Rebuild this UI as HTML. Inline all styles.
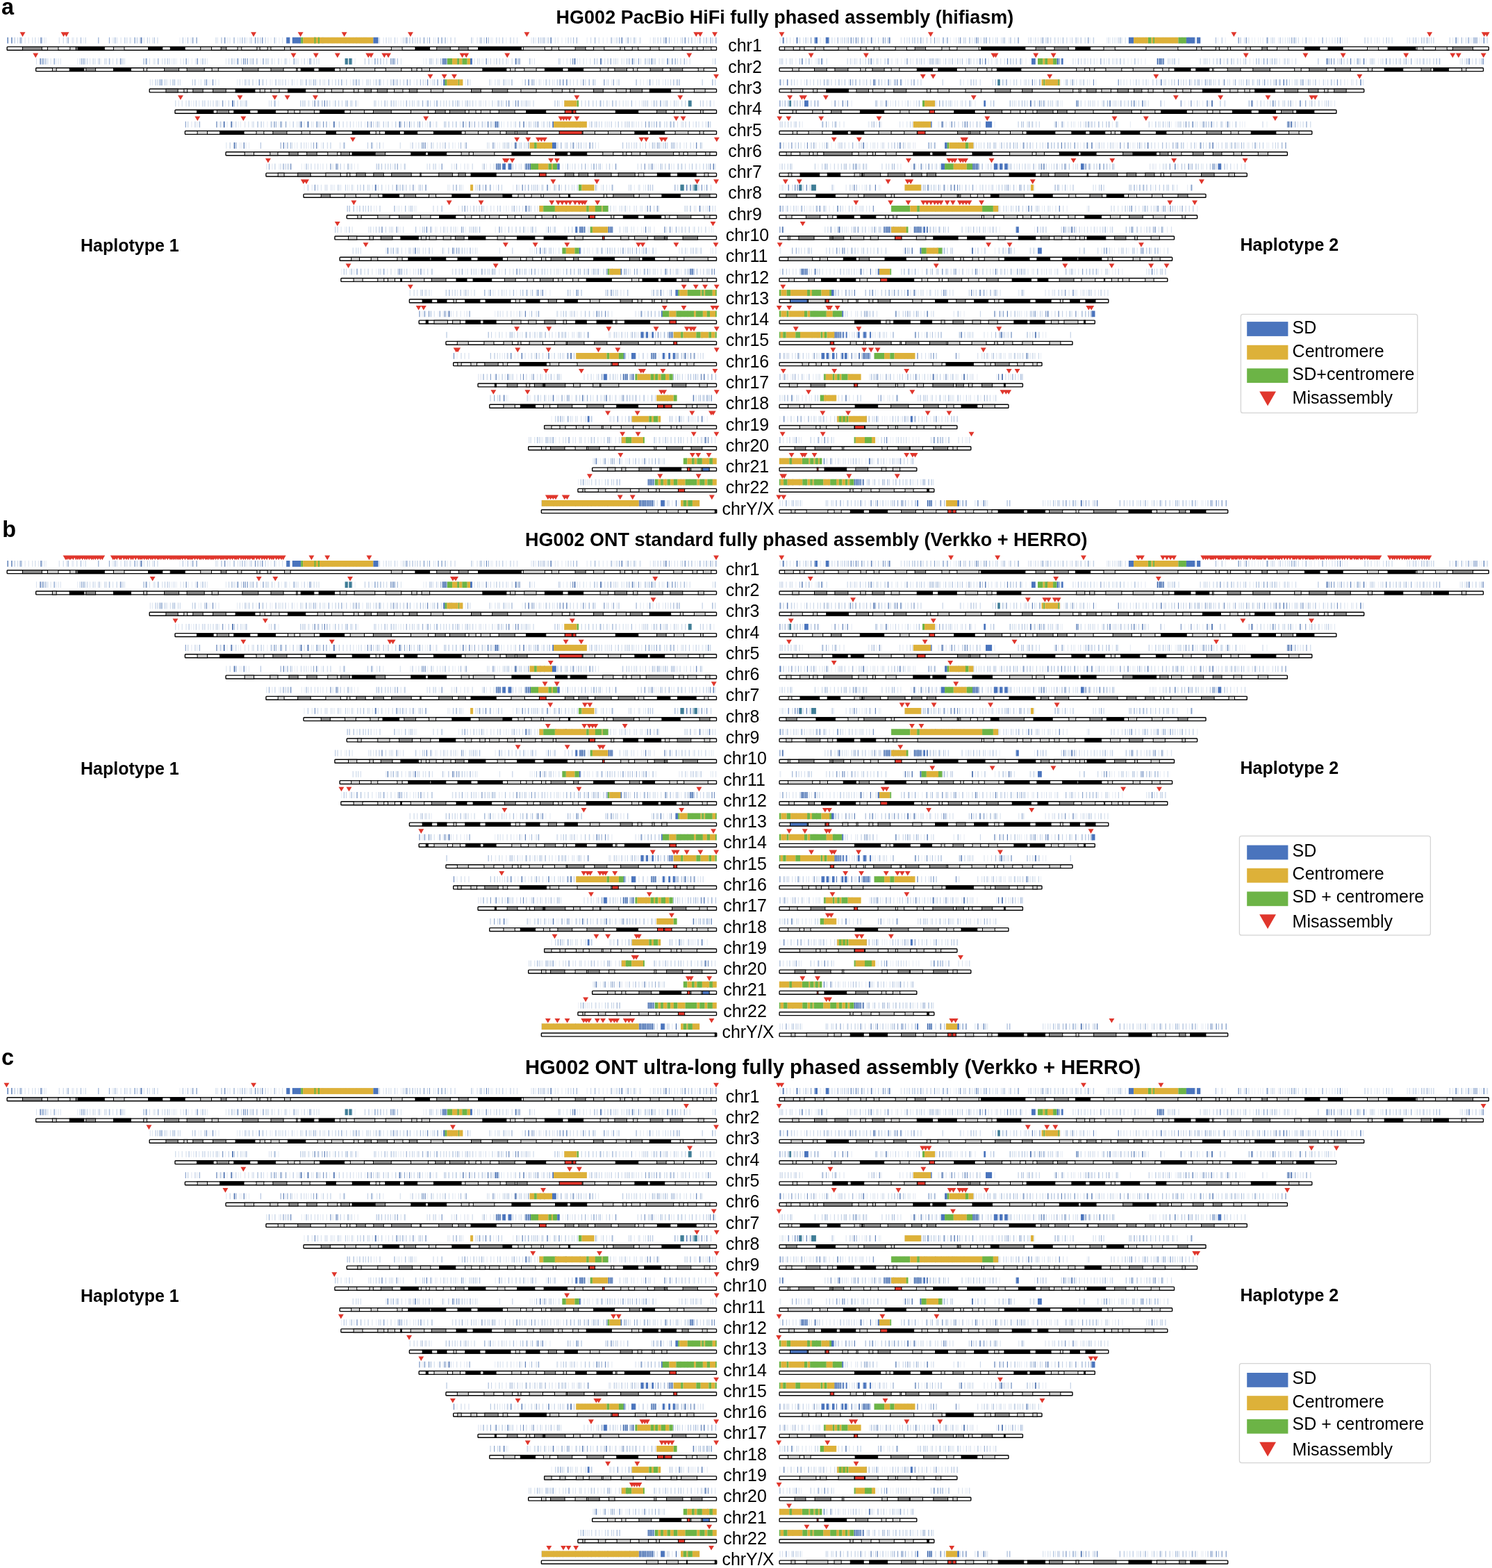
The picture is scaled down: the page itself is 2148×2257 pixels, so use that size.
<!DOCTYPE html>
<html><head><meta charset="utf-8"><title>HG002 fully phased assemblies</title>
<style>
html,body{margin:0;padding:0;background:#fff;}
body{width:2148px;height:2257px;overflow:hidden;}
svg{display:block;}
text{font-family:"Liberation Sans",Arial,sans-serif;fill:#000;}
.lab{font-size:25px;}
.ttl{font-weight:bold;}
.let{font-weight:bold;font-size:32.5px;}
.hap{font-weight:bold;font-size:25px;}
.leg{font-size:25px;}

</style></head><body>
<svg width="2148" height="2257" viewBox="0 0 2148 2257">
<rect width="2148" height="2257" fill="#fff"/>
<g id="P"><path fill="none" d="M35.4 58.1H1028.8" stroke="#e8edf5" stroke-width="8.8" stroke-dasharray="1.5 17.7 2 9.7 1 35.9 2 0.1 1.2 13 1 40.8 1.2 5.7 1.5 19.4 1 9.8 2 56.5 1 6.7 1 60.1 1.5 34.5 1 20.9 1.5 3 1 6.3 1.2 3.3 1.2 38.1 1 2.6 1.2 20.5 1.2 23 1 60.3 1.5 18.2 1.5 4.2 1 48.6 1.2 16 1.2 35.9 1 4.4 2 18.1 1.5 0.8 1.2 18.5 1.2 34.8 1.5 4.8 1.5 26.4 2 7.9 1.2 4.2 1.5 29.3 1.2 21.9 1.5 4.3 1.2 7.1 1.2 1.6 1.5 14.5 2 33 1.2 5.6 2 21.7 1.2 36.4 1.2 14.1 1.2 7.6 1 9999"/>
<path fill="none" d="M40.7 58.1H1001.3" stroke="#d8e1ee" stroke-width="8.8" stroke-dasharray="1 4.5 1.2 2.6 1.5 12.4 1 19.8 1.2 9.3 1.2 13.6 1.5 11 1.5 39.6 2 8 1 7.4 1.5 23.3 1 7 1.2 3 1 54.8 1.2 36.8 1 16.7 1 10.5 1 11.9 1 2.5 1.2 46.5 1.2 20.9 1 6.1 1 11.8 1 22.8 1.2 6.8 1.5 3.6 1 30.8 1.5 1.7 1.5 37.8 1.2 1.8 1.2 16.1 2 18.4 2 22 1 88.8 2 2.3 1.5 14.3 2 3.1 1.2 3.7 1.2 22.1 2 10.4 2 3.8 1 16.3 1 17.4 1.5 39.2 1.2 24.1 2 18.5 1.2 6 1 4.8 2 17.5 1.5 29.1 1.2 3 1 3.6 1.2 19.6 1 9999"/>
<path fill="none" d="M20.5 58.1H1026.4" stroke="#c4d2e6" stroke-width="8.8" stroke-dasharray="1.5 3.1 1 34.6 1 29 1 74 1.5 19.6 1.2 8.7 1.5 13.6 1.2 13.4 1 83.1 1 33.7 1 1.7 2 24 1.5 6.2 1.2 48.5 2 44.3 1.2 15.6 1 1.5 2 3.4 1.2 4.6 1 3.1 2 9 1.5 1.6 1.2 18.3 1 8.7 1 11.4 1.2 13.8 1.5 12.8 1 5.9 1.5 9.2 1.2 32.5 1.2 4.8 1 22.7 1.5 10.8 2 0.3 1.2 2.5 1 80 1.2 9.7 1.5 27.6 1.2 31.5 1 60.9 2 32.5 1.2 2.7 1.2 30.1 1.5 29.4 1.2 2.1 2 7.2 1.2 9999"/>
<path fill="none" d="M28.3 58.1H1008.5" stroke="#a9bddb" stroke-width="8.8" stroke-dasharray="2 0.1 1.2 84.3 1.2 23.9 1.5 36.8 1 12.8 2 26.4 1.2 40.1 1 6.1 1 47.4 1.2 16.8 1.5 14.1 1.2 7.9 1 8.7 1.2 85.7 1.2 4.7 2 123.9 1 3.1 1.2 14.8 2 23.6 2 3.2 1.5 61 1.2 19.3 1 50.4 1.2 49.1 1.2 53.2 1.5 10.1 1.5 70.5 1.2 26.6 1 3.5 1.2 10.5 1.5 9999"/>
<path fill="none" d="M97.5 58.1H1031.4" stroke="#8aa4cc" stroke-width="8.8" stroke-dasharray="1.2 58.2 1 236.8 1 56.6 1.5 164.2 1 11.3 1.5 150.9 1 46.2 1 25.3 1 46.4 1.2 50.7 1 65.9 1.2 6.6 1.2 9999"/>
<path fill="none" d="M10.5 58.1H986.9" stroke="#5f80b8" stroke-width="8.8" stroke-dasharray="1.5 4.2 1.5 40.7 1.5 142.5 2 72.8 1 4.4 1 39.5 1.2 42.7 1 9.2 1.2 206.9 1 113.7 1 91.5 1.5 100.6 1.5 61.9 1.5 26.2 1.2 9999"/>
<rect x="412.2" y="53.7" width="5.2" height="8.8" fill="#4a74bd"/>
<rect x="420.8" y="53.7" width="12.4" height="8.8" fill="#4a74bd"/>
<rect x="433.2" y="53.7" width="2.9" height="8.8" fill="#6cb446"/>
<rect x="436.1" y="53.7" width="101.3" height="8.8" fill="#ddb139"/>
<rect x="452.5" y="53.7" width="2" height="8.8" fill="#6cb446"/>
<rect x="458" y="53.7" width="2" height="8.8" fill="#6cb446"/>
<rect x="537.4" y="53.7" width="7.2" height="8.8" fill="#4a74bd"/>
<rect x="10.2" y="67.4" width="1021.3" height="4.9" rx="0.8" fill="#fff" stroke="#000" stroke-width="1.4"/>
<rect x="32.5" y="67.4" width="27.9" height="4.9" fill="#8a8a8a" stroke="#000" stroke-width="1"/>
<rect x="68.5" y="67.4" width="15.5" height="4.9" fill="#cecece" stroke="#000" stroke-width="1"/>
<rect x="100.8" y="67.4" width="8.6" height="4.9" fill="#cecece" stroke="#000" stroke-width="1"/>
<rect x="109.4" y="67.4" width="2.9" height="4.9" fill="#8a8a8a" stroke="#000" stroke-width="1"/>
<rect x="112.3" y="67.4" width="38" height="4.9" fill="#000" stroke="#000" stroke-width="1"/>
<rect x="163.5" y="67.4" width="15.5" height="4.9" fill="#cecece" stroke="#000" stroke-width="1"/>
<rect x="213.6" y="67.4" width="20.2" height="4.9" fill="#000" stroke="#000" stroke-width="1"/>
<rect x="245.2" y="67.4" width="21" height="4.9" fill="#000" stroke="#000" stroke-width="1"/>
<rect x="288.7" y="67.4" width="15.8" height="4.9" fill="#cecece" stroke="#000" stroke-width="1"/>
<rect x="318.1" y="67.4" width="7.8" height="4.9" fill="#8a8a8a" stroke="#000" stroke-width="1"/>
<rect x="342" y="67.4" width="5.8" height="4.9" fill="#cecece" stroke="#000" stroke-width="1"/>
<rect x="369.9" y="67.4" width="4.3" height="4.9" fill="#cecece" stroke="#000" stroke-width="1"/>
<rect x="385.1" y="67.4" width="4.9" height="4.9" fill="#cecece" stroke="#000" stroke-width="1"/>
<rect x="409.6" y="67.4" width="8.6" height="4.9" fill="#cecece" stroke="#000" stroke-width="1"/>
<rect x="563.3" y="67.4" width="15.8" height="4.9" fill="#cecece" stroke="#000" stroke-width="1"/>
<rect x="597.9" y="67.4" width="20.7" height="4.9" fill="#000" stroke="#000" stroke-width="1"/>
<rect x="628.7" y="67.4" width="19.6" height="4.9" fill="#8a8a8a" stroke="#000" stroke-width="1"/>
<rect x="660.3" y="67.4" width="13.8" height="4.9" fill="#8a8a8a" stroke="#000" stroke-width="1"/>
<rect x="688.5" y="67.4" width="61.9" height="4.9" fill="#000" stroke="#000" stroke-width="1"/>
<rect x="753.3" y="67.4" width="31.1" height="4.9" fill="#cecece" stroke="#000" stroke-width="1"/>
<rect x="794.2" y="67.4" width="10.4" height="4.9" fill="#cecece" stroke="#000" stroke-width="1"/>
<rect x="828.1" y="67.4" width="15" height="4.9" fill="#8a8a8a" stroke="#000" stroke-width="1"/>
<rect x="854.6" y="67.4" width="15.3" height="4.9" fill="#cecece" stroke="#000" stroke-width="1"/>
<rect x="892.9" y="67.4" width="6.6" height="4.9" fill="#cecece" stroke="#000" stroke-width="1"/>
<rect x="910.2" y="67.4" width="8.6" height="4.9" fill="#cecece" stroke="#000" stroke-width="1"/>
<rect x="936.1" y="67.4" width="12.9" height="4.9" fill="#cecece" stroke="#000" stroke-width="1"/>
<rect x="969.8" y="67.4" width="12.4" height="4.9" fill="#cecece" stroke="#000" stroke-width="1"/>
<rect x="997.1" y="67.4" width="6.6" height="4.9" fill="#cecece" stroke="#000" stroke-width="1"/>
<rect x="1012.4" y="67.4" width="11.5" height="4.9" fill="#cecece" stroke="#000" stroke-width="1"/>
<path fill="none" d="M1122.4 58.1H2133.3" stroke="#e8edf5" stroke-width="8.8" stroke-dasharray="1.5 18.1 1 19.1 2 16.2 2 3.2 1.2 13.9 2 53.9 1.2 1.8 1.5 7.2 1 27.3 2 61.9 1 6.4 1.2 4.1 1 66.6 2 9.2 1.5 26.5 2 5.7 1 37.7 1.2 12.6 1.5 27.9 1 22.7 1.2 3.6 1 8.4 2 5.6 1 16.2 1.2 18.8 2 1.8 1.5 5.8 1.5 3.8 1 8.1 1.2 4.5 1 38.7 2 27.8 1 9.8 1 37.4 1 3 1 3.9 1 2 1 2.6 1.2 21.2 1 5 1.5 27.1 1.5 8.3 1.2 1.4 1.2 3.9 1 5 1.2 14.1 1 6.7 2 9 1.2 2.4 1 2.2 1 38.8 1.2 5.5 1 46.2 1.2 8 1.2 47.8 1.5 14.1 1 22 1.2 1.5 1.2 9999"/>
<path fill="none" d="M1131.9 58.1H2142.2" stroke="#d8e1ee" stroke-width="8.8" stroke-dasharray="1.5 3.6 1 18.2 1.2 31.1 2 2.8 1.2 15.1 1 7.2 1.2 24.1 2 60.2 1.2 27 2 3.6 2 7.4 1.2 1.6 1.2 23.5 1 12 2 8.1 1 2.2 1.5 7.9 1 16.2 1 2.9 1.2 26 1.5 21.7 2 8.8 1 3 1.5 18.1 2 15.5 1.5 14.4 1.5 9 1.5 32.5 1.5 4.3 1.2 2 1.2 13.9 1.2 4.3 1 3.8 1.2 8.9 1.2 24.7 1 20.7 1.2 3.4 1.5 12.6 1.2 19.9 1 62.5 1.2 5.2 1.2 30.9 1.2 3.6 1.2 14.4 1 2.6 1.2 10.5 1.5 2.2 1.2 39 1.2 7.3 1 45.6 2 7.4 1.2 7.5 1.2 7.7 1 11.3 1.5 20.7 1 2.1 1.5 18.1 1.5 13 2 33.8 1 10.2 1.5 6.1 1 21.8 2 9999"/>
<path fill="none" d="M1151.1 58.1H2087.8" stroke="#c4d2e6" stroke-width="8.8" stroke-dasharray="1 23.7 1.2 20.4 1 13.6 1 1.9 1.5 32.3 1.2 14.2 1.2 12.4 2 22 1 5.9 1.2 6 2 10.7 1 50.1 1.2 6.2 1.2 6.8 2 38.2 1.2 7.3 1.5 45.2 1 14 1.2 5.5 1.2 9.6 1 5.6 2 11.6 1 29.5 1.5 35 1.2 0.9 2 31 1 13.9 1.5 12.2 1 21.5 2 17.6 1.2 2.9 1.5 37.1 1.5 71.7 1.2 23.3 1 111.5 1 29.3 1 34.6 1.2 14.6 1.2 4.9 1.2 2.2 1 25.8 1 9999"/>
<path fill="none" d="M1159.6 58.1H2122.2" stroke="#a9bddb" stroke-width="8.8" stroke-dasharray="1.2 59.7 1.2 6.1 1.2 44.6 1.5 38.1 1 6.6 1 2.8 2 30.4 2 3.9 2 51.2 1.5 1.3 2 3.4 1 20.6 1 7.5 1.2 44.7 2 5.5 1.5 39.3 1.2 5.9 1 9.1 2 69.2 1 11.3 1 99.6 1.2 34.5 1 56 1 18.8 2 15.2 1.5 44.1 1.2 69.3 1 41.2 1 7.2 1 56.7 1.2 8.3 2 5.4 1.5 9999"/>
<path fill="none" d="M1167 58.1H2137.4" stroke="#8aa4cc" stroke-width="8.8" stroke-dasharray="1.2 4.1 1 32.4 1 28.1 1 4.2 1.5 103.4 1.2 61.4 1.2 56.6 1.5 234.4 1.5 8.3 1.2 70.3 1.5 9.5 1.5 28.5 2 33.7 1.2 43.1 1.2 149.3 1 40.3 2 38.1 2 9999"/>
<path fill="none" d="M1126.7 58.1H2126.6" stroke="#5f80b8" stroke-width="8.8" stroke-dasharray="2 17.8 2 76.2 1.2 6 1.2 20.8 1.5 15.6 1 8 1.5 100.7 1 21.9 1.2 522.7 1 193.2 1 1.4 1 9999"/>
<rect x="1173.4" y="53.7" width="3.6" height="8.8" fill="#4a74bd"/>
<rect x="1188.8" y="53.7" width="4.5" height="8.8" fill="#4a74bd"/>
<rect x="1624.9" y="53.7" width="7.2" height="8.8" fill="#4a74bd"/>
<rect x="1632.1" y="53.7" width="20.8" height="8.8" fill="#ddb139"/>
<rect x="1653" y="53.7" width="4.5" height="8.8" fill="#6cb446"/>
<rect x="1657.5" y="53.7" width="2.7" height="8.8" fill="#ddb139"/>
<rect x="1660.2" y="53.7" width="1.8" height="8.8" fill="#6cb446"/>
<rect x="1662" y="53.7" width="34.4" height="8.8" fill="#ddb139"/>
<rect x="1696.5" y="53.7" width="11.4" height="8.8" fill="#6cb446"/>
<rect x="1707.9" y="53.7" width="12.1" height="8.8" fill="#4a74bd"/>
<rect x="1723.1" y="53.7" width="5.1" height="8.8" fill="#4a74bd"/>
<rect x="1122.1" y="67.4" width="1021.2" height="4.9" rx="0.8" fill="#fff" stroke="#000" stroke-width="1.4"/>
<rect x="1129.6" y="67.4" width="12.7" height="4.9" fill="#cecece" stroke="#000" stroke-width="1"/>
<rect x="1151.3" y="67.4" width="6.7" height="4.9" fill="#cecece" stroke="#000" stroke-width="1"/>
<rect x="1173.4" y="67.4" width="12.7" height="4.9" fill="#cecece" stroke="#000" stroke-width="1"/>
<rect x="1207" y="67.4" width="14" height="4.9" fill="#cecece" stroke="#000" stroke-width="1"/>
<rect x="1239" y="67.4" width="8.2" height="4.9" fill="#cecece" stroke="#000" stroke-width="1"/>
<rect x="1258.2" y="67.4" width="7.6" height="4.9" fill="#cecece" stroke="#000" stroke-width="1"/>
<rect x="1289.1" y="67.4" width="16.3" height="4.9" fill="#cecece" stroke="#000" stroke-width="1"/>
<rect x="1317.2" y="67.4" width="15.4" height="4.9" fill="#8a8a8a" stroke="#000" stroke-width="1"/>
<rect x="1355.9" y="67.4" width="11.1" height="4.9" fill="#cecece" stroke="#000" stroke-width="1"/>
<rect x="1377.9" y="67.4" width="31.5" height="4.9" fill="#cecece" stroke="#000" stroke-width="1"/>
<rect x="1412.3" y="67.4" width="63.6" height="4.9" fill="#000" stroke="#000" stroke-width="1"/>
<rect x="1491.1" y="67.4" width="13.8" height="4.9" fill="#8a8a8a" stroke="#000" stroke-width="1"/>
<rect x="1517.9" y="67.4" width="20.3" height="4.9" fill="#8a8a8a" stroke="#000" stroke-width="1"/>
<rect x="1548.4" y="67.4" width="21.2" height="4.9" fill="#000" stroke="#000" stroke-width="1"/>
<rect x="1589" y="67.4" width="16.3" height="4.9" fill="#cecece" stroke="#000" stroke-width="1"/>
<rect x="1649.9" y="67.4" width="46" height="4.9" fill="#cecece" stroke="#000" stroke-width="1"/>
<rect x="1722.7" y="67.4" width="7.2" height="4.9" fill="#cecece" stroke="#000" stroke-width="1"/>
<rect x="1750.3" y="67.4" width="5.1" height="4.9" fill="#cecece" stroke="#000" stroke-width="1"/>
<rect x="1767.1" y="67.4" width="4.5" height="4.9" fill="#cecece" stroke="#000" stroke-width="1"/>
<rect x="1793.8" y="67.4" width="6.4" height="4.9" fill="#cecece" stroke="#000" stroke-width="1"/>
<rect x="1816.8" y="67.4" width="7.7" height="4.9" fill="#8a8a8a" stroke="#000" stroke-width="1"/>
<rect x="1838.5" y="67.4" width="16.5" height="4.9" fill="#cecece" stroke="#000" stroke-width="1"/>
<rect x="1878.4" y="67.4" width="21.6" height="4.9" fill="#000" stroke="#000" stroke-width="1"/>
<rect x="1912" y="67.4" width="21.2" height="4.9" fill="#000" stroke="#000" stroke-width="1"/>
<rect x="1968.5" y="67.4" width="16.1" height="4.9" fill="#cecece" stroke="#000" stroke-width="1"/>
<rect x="1998.1" y="67.4" width="39.9" height="4.9" fill="#000" stroke="#000" stroke-width="1"/>
<rect x="2040" y="67.4" width="9.1" height="4.9" fill="#cecece" stroke="#000" stroke-width="1"/>
<rect x="2066.6" y="67.4" width="16.7" height="4.9" fill="#cecece" stroke="#000" stroke-width="1"/>
<rect x="2091.4" y="67.4" width="29.2" height="4.9" fill="#8a8a8a" stroke="#000" stroke-width="1"/>
<path fill="none" d="M80.9 88.4H994.3" stroke="#e8edf5" stroke-width="8.8" stroke-dasharray="1 29.1 1.2 27.7 1 3.5 1.2 33.9 1 39.7 1.5 25 1.2 5.9 1 4.5 1.5 9.9 1.2 3.9 1 3.9 2 5.7 1.5 7.7 1.5 25.6 1.5 12.2 1.2 35.6 1 18.6 1.2 8.7 1 10.7 1 16.3 1.2 7.6 1.5 62.4 1.5 2.7 1 23.4 1.2 73.2 1 2.4 1.5 15.8 1.2 11.1 2 33.8 1.5 13.6 1.2 1 1 6 1.2 27.4 1.2 33 1.2 44.1 1 22.4 1.5 8.3 1 22 1 29.8 1.5 16 1.2 38.6 1.5 6.5 2 23.1 1.5 2.8 2 9999"/>
<path fill="none" d="M52 88.4H1026.9" stroke="#d8e1ee" stroke-width="8.8" stroke-dasharray="1 19.6 1 10 1 2.1 1 26.6 2 12.7 1 3.3 2 1.1 1.2 15 1.5 8 1 14.2 1.5 36 1.2 6.2 1.2 9.7 1.2 2.1 2 10.9 1 1.1 1 11.2 1.2 71.4 1.5 21.7 2 0.3 1.2 18.8 1.5 7.4 2 7.5 2 9.9 1.2 12.6 1.2 1.4 1.2 21.9 1.5 2.3 1.2 2 1.2 43.1 1.2 20.5 2 50.4 1 44.9 1.2 45.3 1 12.2 1 3.5 1.5 1.4 1.2 19.7 1 24.7 1.5 30.9 1 36 1.2 8.7 1 13.9 1 7.9 1.2 8.5 1 19.8 1.2 11.8 1.2 1.2 2 1.4 1 4.7 1.2 26.3 1 17.4 2 6 1.2 3.1 1 25.1 2 45 1 9999"/>
<path fill="none" d="M68.3 88.4H976" stroke="#c4d2e6" stroke-width="8.8" stroke-dasharray="1 53.3 1 1.7 1.2 23.9 1.2 16 1.2 37.2 2 35.5 1 46.4 2 1.8 1.2 33.2 1 2.8 2 12.2 1 35.7 1.2 1.1 1 22.7 1.5 26.4 1.2 9.1 1 97.9 2 2.8 1 3.6 1 60.6 1.5 8.5 1.2 10.6 1.5 21.4 1.5 0.6 1.2 7.1 1.2 1.2 1.2 29.2 1 12 1.2 3.5 1 4.1 1 74.3 1.5 15.4 1 33.2 2 2 1.2 14.3 1.2 26.1 1.5 9.1 1.2 14.4 2 1.4 1 10.6 1 31 1 9999"/>
<path fill="none" d="M59.9 88.4H1030.2" stroke="#a9bddb" stroke-width="8.8" stroke-dasharray="2 3.2 1.5 10.7 2 40.4 2 20.4 1.2 13.5 1.5 16.7 1 64.7 1 180.7 2 106.1 1 7.4 2 26.3 2 2.5 1.2 47.5 1 36.4 2 54.6 1 29.8 1.5 15.5 1.2 170.7 1.2 49.3 1.5 43.1 1 9999"/>
<path fill="none" d="M62.4 88.4H972.8" stroke="#8aa4cc" stroke-width="8.8" stroke-dasharray="1.2 53.6 1.2 91.2 2 15.5 1.2 113 2 9 1.5 10.1 1 4.5 1 172.9 1 20.5 2 67.5 1 243.5 1.2 25.4 1 12.5 1.2 17.3 2 27.6 1.5 3.1 1.2 9999"/>
<path fill="none" d="M57.4 88.4H961.9" stroke="#5f80b8" stroke-width="8.8" stroke-dasharray="1.5 114 1 93.7 1 15 1.2 65.3 1 4.6 1 21.8 1 66.2 1.2 115.4 1.2 136.1 1.2 40.9 2 3.9 1 75.5 1 1.4 2 35.6 2 43.7 1.5 49.1 1.5 9999"/>
<rect x="496.6" y="84" width="4.3" height="8.8" fill="#3f7d96"/>
<rect x="502.3" y="84" width="4.3" height="8.8" fill="#3f7d96"/>
<rect x="636.7" y="84" width="7.2" height="8.8" fill="#b3c6e3"/>
<path fill="none" d="M637 88.4H642.4" stroke="#3f67ab" stroke-width="8.8" stroke-dasharray="1.2 0.9 1.2 0.9 1.2 9999"/>
<rect x="643.9" y="84" width="7.2" height="8.8" fill="#6cb446"/>
<rect x="651.1" y="84" width="7.2" height="8.8" fill="#ddb139"/>
<rect x="658.3" y="84" width="2.9" height="8.8" fill="#6cb446"/>
<rect x="661.2" y="84" width="4.3" height="8.8" fill="#ddb139"/>
<rect x="665.5" y="84" width="7.2" height="8.8" fill="#6cb446"/>
<rect x="672.7" y="84" width="4.3" height="8.8" fill="#ddb139"/>
<rect x="677" y="84" width="2.9" height="8.8" fill="#4a74bd"/>
<rect x="51.7" y="97.7" width="979.8" height="4.9" rx="0.8" fill="#fff" stroke="#000" stroke-width="1.4"/>
<rect x="75.4" y="97.7" width="5.8" height="4.9" fill="#cecece" stroke="#000" stroke-width="1"/>
<rect x="100.2" y="97.7" width="20.7" height="4.9" fill="#000" stroke="#000" stroke-width="1"/>
<rect x="123.8" y="97.7" width="13.8" height="4.9" fill="#8a8a8a" stroke="#000" stroke-width="1"/>
<rect x="163.5" y="97.7" width="25" height="4.9" fill="#000" stroke="#000" stroke-width="1"/>
<rect x="206.7" y="97.7" width="4.9" height="4.9" fill="#cecece" stroke="#000" stroke-width="1"/>
<rect x="236.6" y="97.7" width="21" height="4.9" fill="#8a8a8a" stroke="#000" stroke-width="1"/>
<rect x="269.1" y="97.7" width="25.1" height="4.9" fill="#8a8a8a" stroke="#000" stroke-width="1"/>
<rect x="305.1" y="97.7" width="9.2" height="4.9" fill="#cecece" stroke="#000" stroke-width="1"/>
<rect x="348.9" y="97.7" width="23" height="4.9" fill="#8a8a8a" stroke="#000" stroke-width="1"/>
<rect x="390" y="97.7" width="18.1" height="4.9" fill="#8a8a8a" stroke="#000" stroke-width="1"/>
<rect x="426.6" y="97.7" width="1.7" height="4.9" fill="#cecece" stroke="#000" stroke-width="1"/>
<rect x="433.2" y="97.7" width="18.7" height="4.9" fill="#000" stroke="#000" stroke-width="1"/>
<rect x="459.1" y="97.7" width="22.5" height="4.9" fill="#000" stroke="#000" stroke-width="1"/>
<rect x="489.4" y="97.7" width="9.5" height="4.9" fill="#cecece" stroke="#000" stroke-width="1"/>
<rect x="510.1" y="97.7" width="29.7" height="4.9" fill="#cecece" stroke="#000" stroke-width="1"/>
<rect x="555.3" y="97.7" width="22.5" height="4.9" fill="#cecece" stroke="#000" stroke-width="1"/>
<rect x="592.7" y="97.7" width="7.5" height="4.9" fill="#cecece" stroke="#000" stroke-width="1"/>
<rect x="607.1" y="97.7" width="11.5" height="4.9" fill="#cecece" stroke="#000" stroke-width="1"/>
<rect x="694.9" y="97.7" width="34" height="4.9" fill="#000" stroke="#000" stroke-width="1"/>
<rect x="734.6" y="97.7" width="7.2" height="4.9" fill="#cecece" stroke="#000" stroke-width="1"/>
<rect x="754.8" y="97.7" width="17.3" height="4.9" fill="#cecece" stroke="#000" stroke-width="1"/>
<rect x="784.4" y="97.7" width="25.6" height="4.9" fill="#000" stroke="#000" stroke-width="1"/>
<rect x="818.1" y="97.7" width="21.6" height="4.9" fill="#000" stroke="#000" stroke-width="1"/>
<rect x="864.1" y="97.7" width="11.5" height="4.9" fill="#cecece" stroke="#000" stroke-width="1"/>
<rect x="884.9" y="97.7" width="17.6" height="4.9" fill="#8a8a8a" stroke="#000" stroke-width="1"/>
<rect x="911.6" y="97.7" width="6.3" height="4.9" fill="#cecece" stroke="#000" stroke-width="1"/>
<rect x="936.1" y="97.7" width="18.1" height="4.9" fill="#8a8a8a" stroke="#000" stroke-width="1"/>
<rect x="964.9" y="97.7" width="17.9" height="4.9" fill="#8a8a8a" stroke="#000" stroke-width="1"/>
<rect x="1005.2" y="97.7" width="8.1" height="4.9" fill="#cecece" stroke="#000" stroke-width="1"/>
<path fill="none" d="M1127.3 88.4H2131.1" stroke="#e8edf5" stroke-width="8.8" stroke-dasharray="1 17.1 1 21.8 1 4.1 1 53.1 1.2 13.5 1 20.7 1.2 24.3 1 7 1 15.6 1.2 20.6 1 21.3 1 15.5 1.2 14.9 2 34 2 3.8 1.2 37.8 1 4.2 1 70.3 1 11.2 2 16.7 1 12.9 1.2 10.4 1.2 18 1 4 1 8.2 2 2.8 1.2 4.6 1.2 46.5 2 63.2 2 35.5 1.5 3.7 1.2 11.4 1 24 1.5 4.3 1 7.1 1.5 2.7 1.2 105.5 1.2 16.6 1 42.3 1.2 8.1 1 9.4 1.5 53 1.5 15.8 2 8.2 2 9999"/>
<path fill="none" d="M1131.4 88.4H2125.9" stroke="#d8e1ee" stroke-width="8.8" stroke-dasharray="1.2 43.2 1 7.5 1 4.3 1.2 28.7 1.5 2.6 2 7.5 1 11.3 1.5 10.4 1 3.3 2 3.9 1 15 1 7.1 1.2 9.7 1 6.9 1.2 11.4 1.2 5.7 1.5 21.6 1 11.5 1 1 1 13.1 1.2 18.7 1.2 3.4 1 15.5 1 16.5 1.2 4.4 1.2 11 2 49.7 1 4.9 1.2 27.6 1.2 16.7 1 2.3 1 8.2 1.2 25.6 1.5 3.8 2 8.7 1.5 52.6 1 3 1 4.3 1.5 0.7 1 1.2 1 41.1 1.5 3.4 1 7.7 1 38.8 2 2.3 1.2 3.8 1.5 36.6 1.2 23.4 2 9.9 1.5 59 1.5 1.4 1.5 19.8 1 7.3 1.5 12.8 1.5 0.6 2 2.3 1 8.2 1 16.8 1.2 6.9 1 25.1 1.5 12.6 1.5 7.8 2 43.7 1 14.2 2 9999"/>
<path fill="none" d="M1122.4 88.4H2105.6" stroke="#c4d2e6" stroke-width="8.8" stroke-dasharray="1.2 1.4 1.5 10.4 1 1.8 1 19.1 1 3 2 12.1 2 50.3 1.2 6.4 1.5 34.2 1.2 51.1 1.5 10.7 2 0.8 2 0.4 1.5 1.9 1.2 3 1.2 8.9 1.2 15.8 1.5 17.8 1 36.6 1 18.1 2 46.7 2 51.7 1 12.3 1.2 18.4 1 5.8 1.2 14.7 2 18.9 2 52.8 1.2 1.2 2 42.4 1.2 1.7 1 8.2 1 3.9 1.5 13.3 2 3.8 2 1.7 1 60.7 1.2 95.9 1 3.7 1.2 15.2 1.5 19.3 1 12.9 1 18.1 1.5 9.9 1.2 21.7 1.2 13.2 1 45.5 1 9999"/>
<path fill="none" d="M1151 88.4H2133.4" stroke="#a9bddb" stroke-width="8.8" stroke-dasharray="1 167.6 1 28.1 1.2 20.7 1.2 13.1 1 28.2 1 47.5 1.2 4.5 2 47.9 1.2 3.3 2 27.2 1 240.1 1 14.3 1.2 2.3 1.2 17.9 1.2 2.7 1.2 13.4 1 47 1 14.3 1.5 39.2 2 45.1 1.2 13.9 1 7 1.5 5.9 1.5 16.7 1.2 17.2 1.2 3 1.5 59.1 1 9999"/>
<path fill="none" d="M1182 88.4H2116.1" stroke="#8aa4cc" stroke-width="8.8" stroke-dasharray="2 66.3 1 2 2 139.2 1.2 14.3 2 113 1.2 58 1.2 170.7 1.5 61.4 1.2 3.7 1.2 95 1.2 9.4 1.2 63.1 1.5 114.9 1 1.7 2 9999"/>
<path fill="none" d="M1154.1 88.4H2135.8" stroke="#5f80b8" stroke-width="8.8" stroke-dasharray="1.5 122.3 1.2 26.4 1 111.5 1.5 30.4 1.2 56.2 2 400.3 2 4.6 1 26.8 1.2 17.6 1.5 170.3 1.2 9999"/>
<rect x="1485" y="84" width="5.8" height="8.8" fill="#4a74bd"/>
<rect x="1494" y="84" width="7.6" height="8.8" fill="#6cb446"/>
<rect x="1501.6" y="84" width="2.7" height="8.8" fill="#ddb139"/>
<rect x="1504.3" y="84" width="3.6" height="8.8" fill="#6cb446"/>
<rect x="1508" y="84" width="8.2" height="8.8" fill="#ddb139"/>
<rect x="1516.1" y="84" width="5.4" height="8.8" fill="#6cb446"/>
<rect x="1521.6" y="84" width="2.2" height="8.8" fill="#4a74bd"/>
<rect x="1527.9" y="84" width="2.7" height="8.8" fill="#4a74bd"/>
<rect x="1665.6" y="84" width="10" height="8.8" fill="#b3c6e3"/>
<path fill="none" d="M1665.9 88.4H1675.3" stroke="#3f67ab" stroke-width="8.8" stroke-dasharray="1.2 1.9 1.2 0.8 1.2 1.9 1.2 9999"/>
<rect x="1122.1" y="97.7" width="1013.4" height="4.9" rx="0.8" fill="#fff" stroke="#000" stroke-width="1.4"/>
<rect x="1140.8" y="97.7" width="9.4" height="4.9" fill="#cecece" stroke="#000" stroke-width="1"/>
<rect x="1172.5" y="97.7" width="17.8" height="4.9" fill="#8a8a8a" stroke="#000" stroke-width="1"/>
<rect x="1201.9" y="97.7" width="19" height="4.9" fill="#8a8a8a" stroke="#000" stroke-width="1"/>
<rect x="1238.7" y="97.7" width="7.6" height="4.9" fill="#cecece" stroke="#000" stroke-width="1"/>
<rect x="1255.9" y="97.7" width="17.2" height="4.9" fill="#8a8a8a" stroke="#000" stroke-width="1"/>
<rect x="1283.1" y="97.7" width="11.8" height="4.9" fill="#cecece" stroke="#000" stroke-width="1"/>
<rect x="1320.2" y="97.7" width="22.3" height="4.9" fill="#000" stroke="#000" stroke-width="1"/>
<rect x="1350.7" y="97.7" width="26.6" height="4.9" fill="#000" stroke="#000" stroke-width="1"/>
<rect x="1390" y="97.7" width="17.6" height="4.9" fill="#cecece" stroke="#000" stroke-width="1"/>
<rect x="1420.8" y="97.7" width="7.2" height="4.9" fill="#cecece" stroke="#000" stroke-width="1"/>
<rect x="1435.3" y="97.7" width="34.6" height="4.9" fill="#000" stroke="#000" stroke-width="1"/>
<rect x="1549.7" y="97.7" width="12.1" height="4.9" fill="#cecece" stroke="#000" stroke-width="1"/>
<rect x="1568.7" y="97.7" width="7.2" height="4.9" fill="#cecece" stroke="#000" stroke-width="1"/>
<rect x="1591.9" y="97.7" width="23" height="4.9" fill="#cecece" stroke="#000" stroke-width="1"/>
<rect x="1631.2" y="97.7" width="29.9" height="4.9" fill="#cecece" stroke="#000" stroke-width="1"/>
<rect x="1673.8" y="97.7" width="9.1" height="4.9" fill="#cecece" stroke="#000" stroke-width="1"/>
<rect x="1691" y="97.7" width="23" height="4.9" fill="#000" stroke="#000" stroke-width="1"/>
<rect x="1721.8" y="97.7" width="19" height="4.9" fill="#000" stroke="#000" stroke-width="1"/>
<rect x="1745.4" y="97.7" width="1.8" height="4.9" fill="#cecece" stroke="#000" stroke-width="1"/>
<rect x="1767.1" y="97.7" width="19" height="4.9" fill="#8a8a8a" stroke="#000" stroke-width="1"/>
<rect x="1803.8" y="97.7" width="24.6" height="4.9" fill="#8a8a8a" stroke="#000" stroke-width="1"/>
<rect x="1863.7" y="97.7" width="9.5" height="4.9" fill="#cecece" stroke="#000" stroke-width="1"/>
<rect x="1884.8" y="97.7" width="25.2" height="4.9" fill="#8a8a8a" stroke="#000" stroke-width="1"/>
<rect x="1922.1" y="97.7" width="22.2" height="4.9" fill="#8a8a8a" stroke="#000" stroke-width="1"/>
<rect x="1969.5" y="97.7" width="6" height="4.9" fill="#cecece" stroke="#000" stroke-width="1"/>
<rect x="1993.2" y="97.7" width="26.6" height="4.9" fill="#000" stroke="#000" stroke-width="1"/>
<rect x="2046" y="97.7" width="14.1" height="4.9" fill="#8a8a8a" stroke="#000" stroke-width="1"/>
<rect x="2063.8" y="97.7" width="21.6" height="4.9" fill="#000" stroke="#000" stroke-width="1"/>
<rect x="2104.5" y="97.7" width="6.4" height="4.9" fill="#cecece" stroke="#000" stroke-width="1"/>
<path fill="none" d="M215.5 118.7H972.5" stroke="#e8edf5" stroke-width="8.8" stroke-dasharray="2 23.6 1 43.6 1 11.9 1.2 1.6 1 12 1.2 25.4 1.2 6.7 1 18.5 1.2 18.8 1.5 1.5 1 22.5 1 7.7 1 2.7 1.2 18.6 2 6.7 1 7.1 1.2 3.4 1 25 1 8.4 1.2 16.4 1.2 20.3 1.2 51.4 1 23 1.2 30.3 1.5 17.1 1 36.6 1 18.5 2 0.7 1.5 20.5 1 18.9 1.2 5.5 1.2 2.7 1 14.3 1.5 81.2 1.2 44.7 1 4.4 1 21.6 1.2 16.2 1.2 9999"/>
<path fill="none" d="M219.2 118.7H962.3" stroke="#d8e1ee" stroke-width="8.8" stroke-dasharray="1 5.7 2 10.8 1.5 4.4 1.5 42.7 1 20.3 1 33.6 1.2 9 1.2 6.9 2 18 1.2 16.6 1.5 1.3 1 1.7 1.5 11.9 2 10.5 2 1.1 1 8.3 2 13.1 2 4.4 1.2 10.6 1 31.5 2 20 1.5 3.6 1.2 9.1 1 2.8 1 4.7 1 21.9 2 26.3 2 1.9 1 8.9 1.5 11 1.2 28.6 1.5 10.1 1.2 35 1 2.8 1.2 1 1.2 12.6 1.2 42.3 1.5 17.9 1 24.3 1.5 3.1 1.2 9.8 1 35.8 1 14 1 32.7 1 17 1 4.5 1 2.1 1.2 8.2 1.5 2.3 1 9999"/>
<path fill="none" d="M236.6 118.7H1030.3" stroke="#c4d2e6" stroke-width="8.8" stroke-dasharray="1.2 10.3 2 5.8 1 1.8 1 17 1.2 99.5 2 31.1 1.2 70.9 1.2 14.4 1.2 16.4 2 9.7 1.2 1.1 1 37.2 1.2 6.5 1 13.1 1.5 8.5 1 24 1.5 16.5 1.2 12.9 1.2 46.4 1.2 18.6 2 59.1 2 3.1 1.2 10 1.5 27.4 1 10.9 1 12.5 1.2 18 1 88.7 1.2 44.5 1.2 17.3 1.2 9999"/>
<path fill="none" d="M223.5 118.7H1026.6" stroke="#a9bddb" stroke-width="8.8" stroke-dasharray="1 4.9 2 0.5 2 17 1.2 28.1 1.2 12.9 1 57.1 1.2 4.5 1 37.4 1.2 42.4 1.5 9.2 1.5 1.3 1.2 17.8 1.5 13 1 19.9 1.2 31.8 1 3.5 2 14.9 1 41.4 1.2 40.3 2 0.6 2 9.5 1 94.2 1.5 90.5 1.5 4.3 1.5 35.6 1 77.6 1.2 54.8 1.5 9999"/>
<path fill="none" d="M296.5 118.7H978.5" stroke="#8aa4cc" stroke-width="8.8" stroke-dasharray="1.5 193.3 1.2 20.2 1.2 57.3 1 57.1 1.5 8.6 1.2 32.5 1 62.4 1 30.7 1 45.7 2 22.2 1.5 42.1 1.2 31.7 1 57.7 1.2 2 1 9999"/>
<path fill="none" d="M306 118.7H936.2" stroke="#5f80b8" stroke-width="8.8" stroke-dasharray="1 65.7 1.2 191.9 1 19 1 28.2 1.2 144.2 1.5 3.7 1 39.1 1 3.6 1.2 57.9 1 64.8 1 9999"/>
<rect x="638.2" y="114.3" width="2.3" height="8.8" fill="#4a74bd"/>
<rect x="640.5" y="114.3" width="2.9" height="8.8" fill="#6cb446"/>
<rect x="643.4" y="114.3" width="16.4" height="8.8" fill="#ddb139"/>
<rect x="659.8" y="114.3" width="1.4" height="8.8" fill="#6cb446"/>
<rect x="661.2" y="114.3" width="5.2" height="8.8" fill="#ddb139"/>
<rect x="215.2" y="128" width="816.3" height="4.9" rx="0.8" fill="#fff" stroke="#000" stroke-width="1.4"/>
<rect x="238.9" y="128" width="17.3" height="4.9" fill="#8a8a8a" stroke="#000" stroke-width="1"/>
<rect x="264.8" y="128" width="4.9" height="4.9" fill="#cecece" stroke="#000" stroke-width="1"/>
<rect x="277.8" y="128" width="14.4" height="4.9" fill="#8a8a8a" stroke="#000" stroke-width="1"/>
<rect x="306.6" y="128" width="18.7" height="4.9" fill="#8a8a8a" stroke="#000" stroke-width="1"/>
<rect x="339.1" y="128" width="27.9" height="4.9" fill="#000" stroke="#000" stroke-width="1"/>
<rect x="374.2" y="128" width="7.2" height="4.9" fill="#cecece" stroke="#000" stroke-width="1"/>
<rect x="390" y="128" width="12.1" height="4.9" fill="#cecece" stroke="#000" stroke-width="1"/>
<rect x="414.5" y="128" width="25.3" height="4.9" fill="#000" stroke="#000" stroke-width="1"/>
<rect x="457.1" y="128" width="10.6" height="4.9" fill="#cecece" stroke="#000" stroke-width="1"/>
<rect x="477.3" y="128" width="16.7" height="4.9" fill="#cecece" stroke="#000" stroke-width="1"/>
<rect x="509.5" y="128" width="6.6" height="4.9" fill="#cecece" stroke="#000" stroke-width="1"/>
<rect x="525" y="128" width="9.5" height="4.9" fill="#8a8a8a" stroke="#000" stroke-width="1"/>
<rect x="543.2" y="128" width="14.4" height="4.9" fill="#8a8a8a" stroke="#000" stroke-width="1"/>
<rect x="567.6" y="128" width="12.4" height="4.9" fill="#cecece" stroke="#000" stroke-width="1"/>
<rect x="589.2" y="128" width="11.5" height="4.9" fill="#8a8a8a" stroke="#000" stroke-width="1"/>
<rect x="620.3" y="128" width="17.8" height="4.9" fill="#cecece" stroke="#000" stroke-width="1"/>
<rect x="678.5" y="128" width="13.8" height="4.9" fill="#8a8a8a" stroke="#000" stroke-width="1"/>
<rect x="708.7" y="128" width="22.2" height="4.9" fill="#8a8a8a" stroke="#000" stroke-width="1"/>
<rect x="749.9" y="128" width="22.2" height="4.9" fill="#cecece" stroke="#000" stroke-width="1"/>
<rect x="795" y="128" width="14.4" height="4.9" fill="#cecece" stroke="#000" stroke-width="1"/>
<rect x="820.1" y="128" width="6.6" height="4.9" fill="#cecece" stroke="#000" stroke-width="1"/>
<rect x="854.6" y="128" width="13.8" height="4.9" fill="#8a8a8a" stroke="#000" stroke-width="1"/>
<rect x="887.2" y="128" width="14.4" height="4.9" fill="#cecece" stroke="#000" stroke-width="1"/>
<rect x="907.3" y="128" width="17.3" height="4.9" fill="#8a8a8a" stroke="#000" stroke-width="1"/>
<rect x="935.2" y="128" width="30.5" height="4.9" fill="#000" stroke="#000" stroke-width="1"/>
<rect x="979.3" y="128" width="4.3" height="4.9" fill="#cecece" stroke="#000" stroke-width="1"/>
<rect x="999.4" y="128" width="15.8" height="4.9" fill="#cecece" stroke="#000" stroke-width="1"/>
<path fill="none" d="M1147.1 118.7H1948.9" stroke="#e8edf5" stroke-width="8.8" stroke-dasharray="1.5 4.1 1.2 3.8 1.2 82.8 2 0.6 1 27.8 2 10.5 2 10.4 1.5 3.4 1.2 2.1 2 78.5 1.2 4.7 1.2 51.4 1.2 7.5 1.5 59.5 2 2.8 1.5 5.3 1.2 3.9 1 24 1.5 10.1 1.2 8 1 43.3 1.2 8.3 1.2 20.6 1 20.9 2 5.1 1.5 45.9 2 17.5 2 9 1.5 21.8 2 54.1 2 18.3 1.2 8.8 1 8.9 1.5 17.8 1.2 7.4 1 31.1 1 4.5 2 0.7 1.2 9999"/>
<path fill="none" d="M1166.1 118.7H1963" stroke="#d8e1ee" stroke-width="8.8" stroke-dasharray="1 29.1 1.5 4.3 1.5 7.8 1.2 9.2 2 44.6 2 54.9 1.5 55.1 2 26.8 1.5 16.6 1.2 6.9 1.2 30.9 1.2 4.1 1 5.1 1.5 9.8 1 48.1 1.2 3.8 1.2 2.3 1.2 14.6 1 47.1 1.2 3.3 1 8.3 1 11.3 1.2 4.7 1.2 3 2 7.5 2 7.7 1 7.9 1.5 21.1 1 6.1 1.2 6.7 1.2 50.8 1 1.7 1.2 4.2 1.2 13.1 1.5 6.2 2 5.7 1 11.6 1.2 67 1.5 2.9 1 19.7 1.5 8 1.5 13.7 1 15.9 1.5 8 1.2 9999"/>
<path fill="none" d="M1127.3 118.7H1930.8" stroke="#c4d2e6" stroke-width="8.8" stroke-dasharray="1.2 10.3 1.5 2.9 1 26.7 1 4.8 1 2.9 1 8.3 2 0.5 1.2 13.2 2 28.3 1.5 14 1.2 28 1 38 1 34.8 1.2 43.2 1.5 2.2 1.2 36.7 2 14.6 1.2 2.6 1.2 12.3 1.2 11.5 1 11.5 2 6.5 1 22.8 1.5 19 1 130.9 1.2 15.7 1.2 14.9 2 2 1.5 12.1 1.5 8.1 1 6.6 1.5 30.9 1 15.1 1.5 5.5 1.5 13.5 1 3.3 1 3.5 1.5 20.9 1 7 1.2 17.6 2 20.1 1.2 9.8 2 11.8 1.2 9999"/>
<path fill="none" d="M1161 118.7H1894.5" stroke="#a9bddb" stroke-width="8.8" stroke-dasharray="1.2 53.7 1 10.2 1.2 18.9 1 11.4 1.5 3.5 1.5 45.5 1 84.8 1.2 34.1 1.2 73.2 1.2 27.9 1 22.4 1.2 74.6 1 28.3 1 24.7 1 49.2 1.2 1.1 1 122.7 1 4.7 1.5 19.5 1.2 9999"/>
<path fill="none" d="M1122.4 118.7H1960" stroke="#8aa4cc" stroke-width="8.8" stroke-dasharray="2 61.7 1 44.4 1.2 45.5 2 15.7 2 414.3 1.2 12.3 1 8.1 1.2 41.9 1 15.4 1.2 17.2 1 38 1.5 21.8 1.5 81.5 2 9999"/>
<path fill="none" d="M1132.9 118.7H1925.9" stroke="#5f80b8" stroke-width="8.8" stroke-dasharray="1.5 89.7 1 32.2 2 28.9 1 1.9 1.2 23.2 1 132 1 36.3 1.2 9.5 1 25.9 1.2 19 1 29.3 1 34.8 1 60.3 1.5 23.5 1 65 1 57.2 1 15.4 1.2 4.4 1 4.3 1.5 75.9 1 9999"/>
<rect x="1436.2" y="114.3" width="3.6" height="8.8" fill="#3f7d96"/>
<rect x="1499.5" y="114.3" width="3.1" height="8.8" fill="#ddb139"/>
<rect x="1502.5" y="114.3" width="1.8" height="8.8" fill="#6cb446"/>
<rect x="1504.3" y="114.3" width="19" height="8.8" fill="#ddb139"/>
<rect x="1523.4" y="114.3" width="1.8" height="8.8" fill="#6cb446"/>
<rect x="1525.2" y="114.3" width="0.9" height="8.8" fill="#ddb139"/>
<rect x="1122.1" y="128" width="841.6" height="4.9" rx="0.8" fill="#fff" stroke="#000" stroke-width="1.4"/>
<rect x="1139" y="128" width="16.3" height="4.9" fill="#cecece" stroke="#000" stroke-width="1"/>
<rect x="1170.7" y="128" width="6" height="4.9" fill="#cecece" stroke="#000" stroke-width="1"/>
<rect x="1189.7" y="128" width="31.7" height="4.9" fill="#000" stroke="#000" stroke-width="1"/>
<rect x="1232.9" y="128" width="17.6" height="4.9" fill="#8a8a8a" stroke="#000" stroke-width="1"/>
<rect x="1256.4" y="128" width="17.6" height="4.9" fill="#cecece" stroke="#000" stroke-width="1"/>
<rect x="1286.7" y="128" width="18.1" height="4.9" fill="#8a8a8a" stroke="#000" stroke-width="1"/>
<rect x="1334.4" y="128" width="5.4" height="4.9" fill="#cecece" stroke="#000" stroke-width="1"/>
<rect x="1350.1" y="128" width="16.3" height="4.9" fill="#cecece" stroke="#000" stroke-width="1"/>
<rect x="1390" y="128" width="22.7" height="4.9" fill="#cecece" stroke="#000" stroke-width="1"/>
<rect x="1432.6" y="128" width="22.3" height="4.9" fill="#8a8a8a" stroke="#000" stroke-width="1"/>
<rect x="1471.7" y="128" width="14.5" height="4.9" fill="#8a8a8a" stroke="#000" stroke-width="1"/>
<rect x="1525.2" y="128" width="19.6" height="4.9" fill="#cecece" stroke="#000" stroke-width="1"/>
<rect x="1553.3" y="128" width="2.7" height="4.9" fill="#cecece" stroke="#000" stroke-width="1"/>
<rect x="1564.7" y="128" width="13.4" height="4.9" fill="#8a8a8a" stroke="#000" stroke-width="1"/>
<rect x="1585.9" y="128" width="13.6" height="4.9" fill="#cecece" stroke="#000" stroke-width="1"/>
<rect x="1608.9" y="128" width="15.6" height="4.9" fill="#8a8a8a" stroke="#000" stroke-width="1"/>
<rect x="1632.5" y="128" width="11.4" height="4.9" fill="#8a8a8a" stroke="#000" stroke-width="1"/>
<rect x="1653" y="128" width="7.2" height="4.9" fill="#cecece" stroke="#000" stroke-width="1"/>
<rect x="1675.6" y="128" width="17.8" height="4.9" fill="#cecece" stroke="#000" stroke-width="1"/>
<rect x="1702.8" y="128" width="11.8" height="4.9" fill="#cecece" stroke="#000" stroke-width="1"/>
<rect x="1731.4" y="128" width="26.1" height="4.9" fill="#000" stroke="#000" stroke-width="1"/>
<rect x="1770.8" y="128" width="11.3" height="4.9" fill="#cecece" stroke="#000" stroke-width="1"/>
<rect x="1791.8" y="128" width="7.5" height="4.9" fill="#cecece" stroke="#000" stroke-width="1"/>
<rect x="1806.7" y="128" width="28.8" height="4.9" fill="#000" stroke="#000" stroke-width="1"/>
<rect x="1849.6" y="128" width="19.1" height="4.9" fill="#8a8a8a" stroke="#000" stroke-width="1"/>
<rect x="1883.8" y="128" width="14.1" height="4.9" fill="#8a8a8a" stroke="#000" stroke-width="1"/>
<rect x="1906.6" y="128" width="5.4" height="4.9" fill="#cecece" stroke="#000" stroke-width="1"/>
<rect x="1920.7" y="128" width="17.5" height="4.9" fill="#8a8a8a" stroke="#000" stroke-width="1"/>
<path fill="none" d="M256.5 149H1028.4" stroke="#e8edf5" stroke-width="8.8" stroke-dasharray="1.5 16.6 1.2 39.2 1.2 7.8 1.2 75.3 1 43.9 1 13.2 1.2 18.4 1.2 34.1 1.2 57.7 1 38.4 2 74.4 2 4 1 7.4 1 7.5 1 24.9 1 69.7 1.5 6.2 1 10.5 1.2 47.3 1.2 13.3 2 10.5 1.5 9.7 1 4.4 1 16.5 1.2 4.1 1.2 21 1.2 61.2 1 9999"/>
<path fill="none" d="M261.6 149H1018.2" stroke="#d8e1ee" stroke-width="8.8" stroke-dasharray="1.2 4.6 1.2 9.8 1 6.9 1 3.5 2 6.2 1.5 2 1.2 2.5 1.5 2.7 2 36.8 1.2 1.7 1.5 33.5 1 55.3 1.5 4.6 1.5 40.8 1.5 13.6 1.2 36.4 1 3.1 1.2 7 1.5 18.3 1 2.8 1 7.6 1.5 2.3 2 1.2 1.2 3 1.2 36.8 1.5 6.7 1.5 13 1.2 3.1 1 3.2 2 8.1 2 3 1 6.3 1.2 5.8 1.2 15.5 1.5 6.6 1.2 27.6 1.2 1.5 1 6.1 1.2 3.9 1.5 35.7 1.2 36.3 1.5 9.3 2 13.2 1.5 3.4 2 21.7 1.2 2.9 1 22.2 1 1.1 2 26.2 1.2 1.3 2 14.2 1.2 1.5 1 40.6 1 9999"/>
<path fill="none" d="M252.3 149H1023.6" stroke="#c4d2e6" stroke-width="8.8" stroke-dasharray="1 28.5 1.2 11.2 1.2 17.4 1 14.9 1.2 11.5 1.2 3.7 1.2 42.5 1 41.1 1.5 1.8 1.5 37.4 1 11.7 1.2 8.7 1.5 40 1.2 0.9 1 11.7 2 7.2 2 5.2 1 31.7 1.2 15.7 1 4.6 1 8 1 7.4 1 12.2 1.2 15.6 2 1.8 1 31.4 1.2 40.6 1 8.4 1 52 2 5 1.2 2 1.2 12.8 1 20.3 1 27 1.5 41.4 1.2 1.4 1.5 7.5 2 38.6 1 4 1.2 20.5 1.2 2.6 1.2 8.7 2 9999"/>
<path fill="none" d="M271.6 149H971.3" stroke="#a9bddb" stroke-width="8.8" stroke-dasharray="1 64.4 1 16.3 1.2 39.1 2 41.8 1 23.8 1.2 17.8 1.2 15.8 1.5 4.1 1 6 1.2 53.5 1 47.6 2 11 2 21.3 1.2 5.7 1.5 61.5 1 6 1.5 27.4 1 40.3 1 2.7 1 44 1 15.3 2 15.7 1.5 26.1 1.2 35 1 4 2 7.7 1.2 9.4 1 9999"/>
<path fill="none" d="M457.5 149H832.5" stroke="#8aa4cc" stroke-width="8.8" stroke-dasharray="1.2 11.7 1 113.3 1 22.4 1 108.5 1 112.7 1.2 9999"/>
<path fill="none" d="M320.2 149H746.6" stroke="#5f80b8" stroke-width="8.8" stroke-dasharray="1 12.8 2 116.6 1.2 13 1.2 264.1 1.2 8.8 1 2.3 1.2 9999"/>
<rect x="812.3" y="144.6" width="18.1" height="8.8" fill="#ddb139"/>
<rect x="830.5" y="144.6" width="2.6" height="8.8" fill="#6cb446"/>
<rect x="990.8" y="144.6" width="4.9" height="8.8" fill="#3f7d96"/>
<rect x="252" y="158.3" width="779.5" height="4.9" rx="0.8" fill="#fff" stroke="#000" stroke-width="1.4"/>
<rect x="283.5" y="158.3" width="23.6" height="4.9" fill="#000" stroke="#000" stroke-width="1"/>
<rect x="312.3" y="158.3" width="17.3" height="4.9" fill="#8a8a8a" stroke="#000" stroke-width="1"/>
<rect x="336.8" y="158.3" width="23" height="4.9" fill="#000" stroke="#000" stroke-width="1"/>
<rect x="371.3" y="158.3" width="25.3" height="4.9" fill="#000" stroke="#000" stroke-width="1"/>
<rect x="414.5" y="158.3" width="9.5" height="4.9" fill="#cecece" stroke="#000" stroke-width="1"/>
<rect x="431.8" y="158.3" width="20.7" height="4.9" fill="#cecece" stroke="#000" stroke-width="1"/>
<rect x="460.6" y="158.3" width="35.1" height="4.9" fill="#000" stroke="#000" stroke-width="1"/>
<rect x="504.3" y="158.3" width="20.2" height="4.9" fill="#cecece" stroke="#000" stroke-width="1"/>
<rect x="537.4" y="158.3" width="25.9" height="4.9" fill="#8a8a8a" stroke="#000" stroke-width="1"/>
<rect x="591.5" y="158.3" width="25" height="4.9" fill="#cecece" stroke="#000" stroke-width="1"/>
<rect x="626.7" y="158.3" width="14.4" height="4.9" fill="#8a8a8a" stroke="#000" stroke-width="1"/>
<rect x="647.4" y="158.3" width="22.5" height="4.9" fill="#8a8a8a" stroke="#000" stroke-width="1"/>
<rect x="675" y="158.3" width="10.1" height="4.9" fill="#cecece" stroke="#000" stroke-width="1"/>
<rect x="692.3" y="158.3" width="13.5" height="4.9" fill="#cecece" stroke="#000" stroke-width="1"/>
<rect x="718.2" y="158.3" width="23" height="4.9" fill="#8a8a8a" stroke="#000" stroke-width="1"/>
<rect x="757.6" y="158.3" width="28.2" height="4.9" fill="#000" stroke="#000" stroke-width="1"/>
<rect x="813.2" y="158.3" width="10.1" height="4.9" fill="#e0362c" stroke="#000" stroke-width="1"/>
<rect x="824.7" y="158.3" width="4.3" height="4.9" fill="#e0362c" stroke="#000" stroke-width="1"/>
<rect x="886.3" y="158.3" width="32.5" height="4.9" fill="#000" stroke="#000" stroke-width="1"/>
<rect x="945.6" y="158.3" width="13.5" height="4.9" fill="#8a8a8a" stroke="#000" stroke-width="1"/>
<rect x="970.6" y="158.3" width="13.8" height="4.9" fill="#cecece" stroke="#000" stroke-width="1"/>
<rect x="1008.6" y="158.3" width="3.7" height="4.9" fill="#cecece" stroke="#000" stroke-width="1"/>
<path fill="none" d="M1139.7 149H1922.2" stroke="#e8edf5" stroke-width="8.8" stroke-dasharray="1.2 55.9 1 27.7 1.2 43.2 1.5 10.1 1.5 2.1 1 12.3 1.2 3.2 1 6.5 1 3.9 1.2 14.6 2 4 1.2 9.7 1.5 20.8 1.2 2.6 1.5 7.2 1.2 19.5 1.2 58.4 1.2 39.9 1.2 21.4 1 1.3 1 31.5 1.5 11.9 2 9.2 1.5 14.1 2 3 2 11.9 1 27.9 1.2 25.3 1 28.3 1 4.8 1.2 6.4 1 6.6 1 3.9 1.2 7.6 1.5 61.9 1 4.7 2 49.4 1.5 3.3 1 7.9 1 27.5 1.2 10.4 1.2 1.1 1.2 2.9 1.5 9999"/>
<path fill="none" d="M1125.5 149H1907.6" stroke="#d8e1ee" stroke-width="8.8" stroke-dasharray="2 17.5 1 16.3 1.2 3.3 2 38 1.2 8.1 1.2 50.3 1.5 8.6 1 14.6 1 24.5 1.5 25.6 1.5 13.9 2 14.4 1 6.1 1.2 12.1 1 58.1 1.5 1.5 1.5 32.1 1 19.4 2 3.8 1.2 51.4 1.5 6.3 1 23.2 1.5 4.3 1 6.7 1.5 15.6 1 11 2 3.5 1 108.6 2 49.9 2 3.3 1 4 1 20.9 1.5 37 1.2 6.2 1.5 3.9 2 6.9 1 9999"/>
<path fill="none" d="M1147.1 149H1910" stroke="#c4d2e6" stroke-width="8.8" stroke-dasharray="1.5 2.7 1.5 2.6 1 1.6 1.2 100.9 2 0.3 1 25.6 1 16.5 1.5 20.4 1.5 13 1 21.6 1 1.3 1.5 20.4 1 35.3 1 26.4 2 10.9 1.2 7.1 1.5 2.3 1 9.2 2 18 1.2 2 1 43 1 9.8 1 1.8 1 17.7 2 33.6 1.5 13.7 1.2 83 1.2 73.1 2 28.9 1 11.1 1.2 7.3 1.2 4 1.5 31.9 2 19.5 1 9999"/>
<path fill="none" d="M1142.9 149H1912.8" stroke="#a9bddb" stroke-width="8.8" stroke-dasharray="1 178.9 1.2 9.4 1 22.5 1.2 72 1.2 39.7 1 26.9 1 1.8 2 18.7 1.2 70.2 1.5 161.1 1 78 1.2 75.2 1 9999"/>
<path fill="none" d="M1129.7 149H1880.3" stroke="#8aa4cc" stroke-width="8.8" stroke-dasharray="1 3.7 1 37.1 1.2 3.3 1.2 23.3 1.5 149.1 1.2 42.4 1.2 99.1 1.5 51.6 2 0.3 1.5 60.4 1 14.1 1.2 2.2 2 36.9 1 65.4 2 92.7 2 23.8 1.2 12.1 2 6.2 1.2 9999"/>
<path fill="none" d="M1122.4 149H1803.4" stroke="#5f80b8" stroke-width="8.8" stroke-dasharray="1 89.4 1.2 5.6 1.2 54.3 1.5 206.3 2 112.4 1.5 45.4 1.5 54.1 1 13.6 1 28.6 2 55.4 2 9999"/>
<rect x="1136.3" y="144.6" width="2.7" height="8.8" fill="#3f7d96"/>
<rect x="1158" y="144.6" width="5.8" height="8.8" fill="#4a74bd"/>
<rect x="1328" y="144.6" width="3.1" height="8.8" fill="#6cb446"/>
<rect x="1331.1" y="144.6" width="14.9" height="8.8" fill="#ddb139"/>
<rect x="1416.3" y="144.6" width="2.7" height="8.8" fill="#4a74bd"/>
<rect x="1122.1" y="158.3" width="801.8" height="4.9" rx="0.8" fill="#fff" stroke="#000" stroke-width="1.4"/>
<rect x="1141.2" y="158.3" width="5.1" height="4.9" fill="#cecece" stroke="#000" stroke-width="1"/>
<rect x="1169.8" y="158.3" width="14.9" height="4.9" fill="#cecece" stroke="#000" stroke-width="1"/>
<rect x="1196.6" y="158.3" width="14.5" height="4.9" fill="#8a8a8a" stroke="#000" stroke-width="1"/>
<rect x="1238.3" y="158.3" width="34.4" height="4.9" fill="#000" stroke="#000" stroke-width="1"/>
<rect x="1295.8" y="158.3" width="13.2" height="4.9" fill="#cecece" stroke="#000" stroke-width="1"/>
<rect x="1338" y="158.3" width="7.6" height="4.9" fill="#e0362c" stroke="#000" stroke-width="1"/>
<rect x="1373.7" y="158.3" width="29.5" height="4.9" fill="#000" stroke="#000" stroke-width="1"/>
<rect x="1418.7" y="158.3" width="23.9" height="4.9" fill="#8a8a8a" stroke="#000" stroke-width="1"/>
<rect x="1454.9" y="158.3" width="13.8" height="4.9" fill="#cecece" stroke="#000" stroke-width="1"/>
<rect x="1476.6" y="158.3" width="10.5" height="4.9" fill="#cecece" stroke="#000" stroke-width="1"/>
<rect x="1492.9" y="158.3" width="23.2" height="4.9" fill="#8a8a8a" stroke="#000" stroke-width="1"/>
<rect x="1522.5" y="158.3" width="13.6" height="4.9" fill="#8a8a8a" stroke="#000" stroke-width="1"/>
<rect x="1547.8" y="158.3" width="26.3" height="4.9" fill="#cecece" stroke="#000" stroke-width="1"/>
<rect x="1602.2" y="158.3" width="27.2" height="4.9" fill="#8a8a8a" stroke="#000" stroke-width="1"/>
<rect x="1642.6" y="158.3" width="20.3" height="4.9" fill="#cecece" stroke="#000" stroke-width="1"/>
<rect x="1671.6" y="158.3" width="36.6" height="4.9" fill="#000" stroke="#000" stroke-width="1"/>
<rect x="1716.9" y="158.3" width="21.2" height="4.9" fill="#cecece" stroke="#000" stroke-width="1"/>
<rect x="1745.9" y="158.3" width="10.3" height="4.9" fill="#cecece" stroke="#000" stroke-width="1"/>
<rect x="1774.4" y="158.3" width="26.8" height="4.9" fill="#000" stroke="#000" stroke-width="1"/>
<rect x="1812.3" y="158.3" width="24.2" height="4.9" fill="#000" stroke="#000" stroke-width="1"/>
<rect x="1844.5" y="158.3" width="17.1" height="4.9" fill="#8a8a8a" stroke="#000" stroke-width="1"/>
<rect x="1866.7" y="158.3" width="25.2" height="4.9" fill="#000" stroke="#000" stroke-width="1"/>
<path fill="none" d="M275.1 179.2H1012.5" stroke="#e8edf5" stroke-width="8.8" stroke-dasharray="1.5 37.6 1 20.5 1.2 6.2 1 1.8 1.2 4.5 2 8.6 2 20.1 1.2 7.1 1.5 6.9 1 4.1 1 9.6 1.2 8.8 2 45.3 1.2 7.7 1.2 28.7 1 11.1 1.2 14.3 2 21.5 1.2 46.7 1 1.8 1.5 7 1 92.7 2 6.3 1 4 2 2.6 2 2.7 1.2 16.7 1.2 21 1.5 34.9 1.2 6.8 1.5 18.3 1.5 28.1 2 76.1 1 27.7 2 15.3 1.5 11.6 2 9999"/>
<path fill="none" d="M279.9 179.2H1017.2" stroke="#d8e1ee" stroke-width="8.8" stroke-dasharray="2 1.4 1 42.2 1 11.1 2 16.7 1.2 5.8 1.5 13.1 1.2 57.4 1.2 9.4 1 1.4 1 47.5 1 8.4 1 6.6 1 14.4 1.2 4.2 1.5 7.5 1.2 8.3 1 29.1 1.2 5.3 1.2 14.6 1.2 18.5 2 32.5 1 6.8 2 6.9 1.5 17.5 1.2 22.6 1.2 41 1.5 2.7 1.5 18 1.5 20.8 1.2 9 1 27.3 1.2 21.5 1 4.9 1 7.8 1.2 7.9 1.2 6.2 2 8.1 1 2.4 1 2.5 1 3.4 1 13 2 35.6 1 29.5 1.2 9 1.5 9999"/>
<path fill="none" d="M270 179.2H1023.3" stroke="#c4d2e6" stroke-width="8.8" stroke-dasharray="1.2 45.4 2 51.5 2 3.3 1.5 53.5 1.2 28.4 1.2 26.6 1.2 4.6 1 9.2 1 14.8 1 22.2 2 13.3 1.5 9.3 1.5 6.8 1.2 17.3 1 4.1 1.2 37.1 1.5 0.6 1.2 3.1 1.5 4.2 1.2 36.1 1.2 3.8 2 13.9 1 2.1 1.2 28 1.2 27.5 2 78.3 2 3.4 1 1.1 1.5 2.5 1 2.5 1 13 1.2 18.6 1.2 8.8 1.2 45.6 1 2.1 1.2 22.2 1 2.7 1.2 4.2 1.2 8.5 1.2 19.3 1.2 9999"/>
<path fill="none" d="M286.6 179.2H966.5" stroke="#a9bddb" stroke-width="8.8" stroke-dasharray="1.5 101.7 1.5 5.8 1.2 23.4 1 32.3 2 0.5 1 10.8 1.5 80.9 1 50.5 2 13.2 2 35.8 1.2 48.8 1.5 53.6 1 20.2 1 7.1 1.2 20 1.2 15.8 1 8.5 1 50.4 1 14.6 1 27.2 2 5.8 1 7 1.5 13.7 2 9999"/>
<path fill="none" d="M266.7 179.2H1020.5" stroke="#8aa4cc" stroke-width="8.8" stroke-dasharray="1.2 135.6 2 5.5 1.2 169.8 1 99.9 1 17.7 2 44 1.2 180.1 1.2 14.6 1.2 23.6 1.2 48.3 1.5 9999"/>
<path fill="none" d="M311.4 179.2H835.8" stroke="#5f80b8" stroke-width="8.8" stroke-dasharray="1.2 9.1 2 8.6 2 60.4 1 36.9 2 7.9 2 20.7 1 13.7 2 46.9 1 4.1 1 39.6 2 12.7 1 75.9 1.5 7.7 1.2 76.8 1.5 19.1 1 59.7 1.2 9999"/>
<rect x="712.4" y="174.8" width="6.3" height="8.8" fill="#b3c6e3"/>
<path fill="none" d="M712.7 179.2H716.6" stroke="#3f67ab" stroke-width="8.8" stroke-dasharray="1.2 1.4 1.2 9999"/>
<rect x="795.3" y="174.8" width="1.7" height="8.8" fill="#4a74bd"/>
<rect x="797.1" y="174.8" width="47.8" height="8.8" fill="#ddb139"/>
<rect x="266.4" y="188.5" width="765.1" height="4.9" rx="0.8" fill="#fff" stroke="#000" stroke-width="1.4"/>
<rect x="284.1" y="188.5" width="14.4" height="4.9" fill="#cecece" stroke="#000" stroke-width="1"/>
<rect x="316.6" y="188.5" width="34.5" height="4.9" fill="#000" stroke="#000" stroke-width="1"/>
<rect x="369" y="188.5" width="10.9" height="4.9" fill="#cecece" stroke="#000" stroke-width="1"/>
<rect x="392.9" y="188.5" width="20.1" height="4.9" fill="#8a8a8a" stroke="#000" stroke-width="1"/>
<rect x="434.1" y="188.5" width="12.1" height="4.9" fill="#cecece" stroke="#000" stroke-width="1"/>
<rect x="469.8" y="188.5" width="13.8" height="4.9" fill="#000" stroke="#000" stroke-width="1"/>
<rect x="507.2" y="188.5" width="25" height="4.9" fill="#000" stroke="#000" stroke-width="1"/>
<rect x="541.2" y="188.5" width="5.5" height="4.9" fill="#cecece" stroke="#000" stroke-width="1"/>
<rect x="554.7" y="188.5" width="20.7" height="4.9" fill="#000" stroke="#000" stroke-width="1"/>
<rect x="582" y="188.5" width="18.7" height="4.9" fill="#000" stroke="#000" stroke-width="1"/>
<rect x="624.4" y="188.5" width="39.7" height="4.9" fill="#000" stroke="#000" stroke-width="1"/>
<rect x="669.8" y="188.5" width="18.7" height="4.9" fill="#cecece" stroke="#000" stroke-width="1"/>
<rect x="702.9" y="188.5" width="17.3" height="4.9" fill="#cecece" stroke="#000" stroke-width="1"/>
<rect x="728.8" y="188.5" width="13" height="4.9" fill="#8a8a8a" stroke="#000" stroke-width="1"/>
<rect x="744.1" y="188.5" width="15" height="4.9" fill="#8a8a8a" stroke="#000" stroke-width="1"/>
<rect x="805.1" y="188.5" width="33.1" height="4.9" fill="#e0362c" stroke="#000" stroke-width="1"/>
<rect x="839.1" y="188.5" width="17.3" height="4.9" fill="#cecece" stroke="#000" stroke-width="1"/>
<rect x="875.6" y="188.5" width="18.1" height="4.9" fill="#cecece" stroke="#000" stroke-width="1"/>
<rect x="913.9" y="188.5" width="18.4" height="4.9" fill="#000" stroke="#000" stroke-width="1"/>
<rect x="936.1" y="188.5" width="20.7" height="4.9" fill="#000" stroke="#000" stroke-width="1"/>
<rect x="972.1" y="188.5" width="18.7" height="4.9" fill="#cecece" stroke="#000" stroke-width="1"/>
<rect x="1007.2" y="188.5" width="5.8" height="4.9" fill="#cecece" stroke="#000" stroke-width="1"/>
<path fill="none" d="M1154.5 179.2H1873.3" stroke="#e8edf5" stroke-width="8.8" stroke-dasharray="1.2 58.6 1.5 33.9 2 9.5 1.2 6 1.2 29.8 1.2 49.7 2 8.9 2 3.5 2 31.4 2 29.3 1.2 90.2 1.2 7.2 1.2 4.3 1.5 6.5 1.2 1 1.2 3.9 1 6.9 1.5 39.6 1.2 24.6 1.2 30.2 1 17.5 2 7.1 1 4.9 1 1.4 2 31.2 1.2 35.4 1 8.9 1 9.8 1.2 2.4 1 2.4 1 30.9 1 46.8 2 9999"/>
<path fill="none" d="M1122.4 179.2H1869.1" stroke="#d8e1ee" stroke-width="8.8" stroke-dasharray="2 5.1 1.5 11.8 1.5 6.1 1.5 40.5 1 7.4 2 5.6 1 85.7 1 9.2 1 6.5 1.5 11.4 1.2 52.5 1.2 137.1 1.2 23 1 12 1.5 12.2 1.2 39 1.2 59.8 1 9.6 1.2 21.9 1.5 15.4 1 1.7 1 6.1 2 14.9 1 3.3 1.2 17.1 1.2 97.2 1 9999"/>
<path fill="none" d="M1125.5 179.2H1887.3" stroke="#c4d2e6" stroke-width="8.8" stroke-dasharray="1.2 7.4 1.2 3.1 1 5.8 1.5 51.3 1 110.9 1.2 6.7 1.2 3 2 5.2 1 27.5 1 26.4 1.5 9.8 1.2 7.9 2 2.8 1.2 54 1.2 11.9 1 5.7 2 4 1 3.5 1 78.6 1.2 10.2 1.2 4.2 1.5 12.8 2 45.2 1.2 12.7 1 28.2 1.2 1.1 1.5 10.1 2 44.6 1.5 0.6 1 57.1 1 42.3 1 13.8 1 9.7 1 9999"/>
<path fill="none" d="M1183.3 179.2H1780" stroke="#a9bddb" stroke-width="8.8" stroke-dasharray="2 69.4 1 118.1 1.2 95.3 1.2 1.4 1 54.4 2 32.5 1.2 1.9 2 3.4 1.2 8.6 1.5 80.8 1 9.7 1 7.8 1.2 51.7 1.2 2.7 1 38.1 1.2 9999"/>
<path fill="none" d="M1189.2 179.2H1881.6" stroke="#8aa4cc" stroke-width="8.8" stroke-dasharray="1 12.7 1 53.8 1 6.9 1.5 121.3 2 90.8 1 114 1 109.5 1.5 8 2 14.2 1.5 9.3 2 21.3 2 84.4 2 9.2 1 15.3 1.2 9999"/>
<path fill="none" d="M1355.5 179.2H1860" stroke="#5f80b8" stroke-width="8.8" stroke-dasharray="2 12.2 1.2 21.1 1 126.9 1.2 333.9 1.5 1.5 2 9999"/>
<rect x="1314.8" y="174.8" width="25.4" height="8.8" fill="#ddb139"/>
<rect x="1340.2" y="174.8" width="1.4" height="8.8" fill="#4a74bd"/>
<rect x="1419" y="174.8" width="9.1" height="8.8" fill="#4a74bd"/>
<rect x="1122.1" y="188.5" width="766.7" height="4.9" rx="0.8" fill="#fff" stroke="#000" stroke-width="1.4"/>
<rect x="1141.2" y="188.5" width="6.5" height="4.9" fill="#cecece" stroke="#000" stroke-width="1"/>
<rect x="1164" y="188.5" width="19.9" height="4.9" fill="#cecece" stroke="#000" stroke-width="1"/>
<rect x="1198.8" y="188.5" width="21.4" height="4.9" fill="#000" stroke="#000" stroke-width="1"/>
<rect x="1225.1" y="188.5" width="18.7" height="4.9" fill="#000" stroke="#000" stroke-width="1"/>
<rect x="1265" y="188.5" width="18.1" height="4.9" fill="#cecece" stroke="#000" stroke-width="1"/>
<rect x="1301.8" y="188.5" width="18.5" height="4.9" fill="#cecece" stroke="#000" stroke-width="1"/>
<rect x="1320.8" y="188.5" width="11.2" height="4.9" fill="#e0362c" stroke="#000" stroke-width="1"/>
<rect x="1378.6" y="188.5" width="16.3" height="4.9" fill="#8a8a8a" stroke="#000" stroke-width="1"/>
<rect x="1396.7" y="188.5" width="14.1" height="4.9" fill="#8a8a8a" stroke="#000" stroke-width="1"/>
<rect x="1419" y="188.5" width="19" height="4.9" fill="#cecece" stroke="#000" stroke-width="1"/>
<rect x="1454.5" y="188.5" width="17.8" height="4.9" fill="#cecece" stroke="#000" stroke-width="1"/>
<rect x="1478.1" y="188.5" width="40.8" height="4.9" fill="#000" stroke="#000" stroke-width="1"/>
<rect x="1542.9" y="188.5" width="19.9" height="4.9" fill="#000" stroke="#000" stroke-width="1"/>
<rect x="1569" y="188.5" width="21.8" height="4.9" fill="#000" stroke="#000" stroke-width="1"/>
<rect x="1599.5" y="188.5" width="5.8" height="4.9" fill="#cecece" stroke="#000" stroke-width="1"/>
<rect x="1613.6" y="188.5" width="27.2" height="4.9" fill="#000" stroke="#000" stroke-width="1"/>
<rect x="1664.4" y="188.5" width="14.5" height="4.9" fill="#000" stroke="#000" stroke-width="1"/>
<rect x="1702.8" y="188.5" width="12.3" height="4.9" fill="#cecece" stroke="#000" stroke-width="1"/>
<rect x="1737.2" y="188.5" width="21.4" height="4.9" fill="#8a8a8a" stroke="#000" stroke-width="1"/>
<rect x="1772" y="188.5" width="11.1" height="4.9" fill="#cecece" stroke="#000" stroke-width="1"/>
<rect x="1801.2" y="188.5" width="35.7" height="4.9" fill="#000" stroke="#000" stroke-width="1"/>
<rect x="1855.6" y="188.5" width="14.5" height="4.9" fill="#cecece" stroke="#000" stroke-width="1"/>
<path fill="none" d="M344 209.5H999.3" stroke="#e8edf5" stroke-width="8.8" stroke-dasharray="1 1.1 1.5 10.5 1 51 2 11.9 1 2 1.5 15.1 1.2 12.7 1 3.6 1 25.6 2 50.9 2 7.6 1.2 38 1.2 6.7 1.2 15.5 1.2 16.5 2 20 1 12.6 2 45.4 1 2 1.2 16.1 1.2 31.8 2 1.9 1.2 5 1 16.6 2 30.2 2 30.1 1.2 62.6 1 8.4 1.5 48.6 1.2 12.3 1.5 9999"/>
<path fill="none" d="M325.4 209.5H1011.5" stroke="#d8e1ee" stroke-width="8.8" stroke-dasharray="1 27 1 65.8 1.2 15.9 1.2 2 1.2 5.6 1.2 22.2 1.5 64.1 1 38.4 1.2 25.4 1.2 19.8 1.2 4.4 1 7.2 1.2 7.6 1.2 4.3 1 7.5 1 40.2 1.2 1.2 1 19.2 1.2 8 1 20.3 1.5 1.2 1.2 30.6 1.2 4 1 18.2 1.5 25.7 1 1.7 1.5 12.3 1.2 50.8 1.2 2.3 1.5 1.5 2 3.8 1.2 21.4 1 6.3 1.2 1.7 2 18.2 1.2 3.1 1.5 7.8 1.2 21.6 1 9999"/>
<path fill="none" d="M330.6 209.5H1009.8" stroke="#c4d2e6" stroke-width="8.8" stroke-dasharray="1.2 101.2 1 30.8 1.2 9.4 1.2 52.3 1.2 76.1 2 31.8 2 69.5 1.2 13.1 1.2 1.3 1 17.7 1 73.2 1.2 13.4 1.5 64.4 1.2 2.1 1 23 1 27 2 1.2 1.2 4.5 2 25.8 1 13.1 2 9999"/>
<path fill="none" d="M339.7 209.5H971.7" stroke="#a9bddb" stroke-width="8.8" stroke-dasharray="1.2 34 1 37.3 1.5 3.3 1.2 75.3 2 37.6 2 10.1 1 46.3 1 26 1.2 41.2 1.2 66.7 1.2 17.6 1 12.7 1 38.1 1 12.4 1 15.6 1.2 19.2 1.2 42.2 1 41.6 1.2 1.3 1 6.3 1.2 18.8 1.2 0.9 1 9999"/>
<path fill="none" d="M403.7 209.5H947.5" stroke="#8aa4cc" stroke-width="8.8" stroke-dasharray="1 46.4 1 156.4 1.5 60.6 1.2 71.3 1.2 15.8 1.2 46.1 1 16 2 119.9 1.2 9999"/>
<path fill="none" d="M336.6 209.5H1003.3" stroke="#5f80b8" stroke-width="8.8" stroke-dasharray="2 12.1 1.2 55.9 1.2 46.2 1.2 155 1.2 96.8 1 30.5 2 34.1 1.5 4.5 1.5 64.1 1.2 152.3 1.2 9999"/>
<rect x="762.5" y="205.1" width="6.6" height="8.8" fill="#ddb139"/>
<rect x="769.1" y="205.1" width="3.7" height="8.8" fill="#6cb446"/>
<rect x="772.9" y="205.1" width="22.2" height="8.8" fill="#ddb139"/>
<rect x="795" y="205.1" width="5.8" height="8.8" fill="#4a74bd"/>
<rect x="325.1" y="218.8" width="706.4" height="4.9" rx="0.8" fill="#fff" stroke="#000" stroke-width="1.4"/>
<rect x="352.2" y="218.8" width="13.4" height="4.9" fill="#cecece" stroke="#000" stroke-width="1"/>
<rect x="388.8" y="218.8" width="11.2" height="4.9" fill="#cecece" stroke="#000" stroke-width="1"/>
<rect x="416" y="218.8" width="13.1" height="4.9" fill="#8a8a8a" stroke="#000" stroke-width="1"/>
<rect x="441.7" y="218.8" width="14.5" height="4.9" fill="#8a8a8a" stroke="#000" stroke-width="1"/>
<rect x="471.8" y="218.8" width="14" height="4.9" fill="#cecece" stroke="#000" stroke-width="1"/>
<rect x="490.7" y="218.8" width="12.7" height="4.9" fill="#8a8a8a" stroke="#000" stroke-width="1"/>
<rect x="507" y="218.8" width="33.2" height="4.9" fill="#000" stroke="#000" stroke-width="1"/>
<rect x="540.1" y="218.8" width="14.5" height="4.9" fill="#8a8a8a" stroke="#000" stroke-width="1"/>
<rect x="591.8" y="218.8" width="20.9" height="4.9" fill="#000" stroke="#000" stroke-width="1"/>
<rect x="616.3" y="218.8" width="26.4" height="4.9" fill="#000" stroke="#000" stroke-width="1"/>
<rect x="664.1" y="218.8" width="11.2" height="4.9" fill="#cecece" stroke="#000" stroke-width="1"/>
<rect x="681.3" y="218.8" width="30.6" height="4.9" fill="#cecece" stroke="#000" stroke-width="1"/>
<rect x="736.9" y="218.8" width="26.8" height="4.9" fill="#000" stroke="#000" stroke-width="1"/>
<rect x="799.5" y="218.8" width="17.2" height="4.9" fill="#000" stroke="#000" stroke-width="1"/>
<rect x="821.2" y="218.8" width="23.6" height="4.9" fill="#000" stroke="#000" stroke-width="1"/>
<rect x="867.8" y="218.8" width="15.1" height="4.9" fill="#cecece" stroke="#000" stroke-width="1"/>
<rect x="896.8" y="218.8" width="5.1" height="4.9" fill="#cecece" stroke="#000" stroke-width="1"/>
<rect x="909.1" y="218.8" width="12.5" height="4.9" fill="#cecece" stroke="#000" stroke-width="1"/>
<rect x="930.3" y="218.8" width="39.4" height="4.9" fill="#a8a8a8" stroke="#000" stroke-width="1"/>
<rect x="977.8" y="218.8" width="6.4" height="4.9" fill="#cecece" stroke="#000" stroke-width="1"/>
<rect x="990" y="218.8" width="12.8" height="4.9" fill="#cecece" stroke="#000" stroke-width="1"/>
<rect x="1015.8" y="218.8" width="6.2" height="4.9" fill="#cecece" stroke="#000" stroke-width="1"/>
<path fill="none" d="M1131.2 209.5H1827.2" stroke="#e8edf5" stroke-width="8.8" stroke-dasharray="1 33.7 2 11.5 1.2 16 1 4.8 1 28.9 1 11.6 1 7 1.2 1.9 2 9.9 1.2 3.7 1 40.4 1.5 1.3 1.2 66.4 1.2 9.9 1 11.8 2 28.3 1 28.8 1 16.4 2 16.1 1.2 49.9 1 10.5 1.2 9.1 1.5 1.3 1.5 4 2 18.9 1 1.4 1.2 16.7 1.2 5.5 1.2 74.4 1 12.1 1.2 27.8 1.2 18.4 2 22.7 1.2 12.6 1.2 13.3 1.2 1.5 1 9999"/>
<path fill="none" d="M1127.1 209.5H1833" stroke="#d8e1ee" stroke-width="8.8" stroke-dasharray="2 15.2 2 6.3 1.2 4 1.2 15.1 1.2 8.2 1 2.1 1.2 3.9 1.2 13.4 1.2 14.1 1 25.1 1 10.2 1 3.2 1 6.1 2 6.2 1.5 3.2 1.5 17.7 1.2 3.3 1.2 1.3 1.2 90.5 2 1.9 1.2 5.8 1 32.1 1.2 50.6 1 53.2 1.5 7.4 1.5 27.4 1.2 4.3 1 5.2 1.2 1.1 1.2 26.7 1 11.4 1.2 12.7 1.5 3.5 1.2 4.1 1 14.4 1 52.6 1 16.5 1 28.1 1.2 13.3 1 4.2 1.2 28 1.2 9999"/>
<path fill="none" d="M1135.1 209.5H1840.5" stroke="#c4d2e6" stroke-width="8.8" stroke-dasharray="1 32 1 39.6 1.2 5.9 1 19.6 1.2 1.8 1.2 99.1 2 74.7 1 3.9 1.5 1.8 1.5 4.2 2 0.7 1.2 6.8 2 18.6 1 15.4 1.5 12.4 1 7.9 1 15.3 1.5 18.5 1.5 2.1 1.2 40 1.5 14.6 1.2 18.8 1 18.2 1.2 9.2 1.2 29.8 1.5 12.1 1.5 9.3 1.5 9.8 1.2 3.5 1.5 11.5 1 25.7 1 4.2 1 1 1.2 13.4 1 8.6 1.2 21.6 1.2 3.8 1.2 16.8 1 2.4 1.2 9999"/>
<path fill="none" d="M1148.9 209.5H1846.4" stroke="#a9bddb" stroke-width="8.8" stroke-dasharray="1.2 61.3 1 74.9 1.2 3.7 1 6.9 1 35.1 2 6.5 2 29.4 1 72.3 1 3.2 1.2 4 1.2 4.1 1 17.4 1.2 29.6 1.2 17.9 1.5 106.1 1.5 31.6 1.2 20 2 3.9 1.2 39.2 2 30.1 1.2 3.5 1.5 8 1.2 18 2 36.8 1.5 9999"/>
<path fill="none" d="M1171.2 209.5H1729.5" stroke="#8aa4cc" stroke-width="8.8" stroke-dasharray="1.2 17.2 1.5 36.1 1 244.4 2 33.1 2 13 1 22.8 1.5 140.3 1 38.2 2 9999"/>
<path fill="none" d="M1122.4 209.5H1851.5" stroke="#5f80b8" stroke-width="8.8" stroke-dasharray="2 15 1 21.5 1 79.5 1.5 51.1 1.5 83.2 1.2 9 1 136.9 1.2 35.6 1.5 5.1 1.5 39.7 1 10 1.2 27.3 1.5 92 1.5 103.6 1 9999"/>
<rect x="1360.1" y="205.1" width="3.6" height="8.8" fill="#4a74bd"/>
<rect x="1363.7" y="205.1" width="2.7" height="8.8" fill="#6cb446"/>
<rect x="1366.5" y="205.1" width="23.6" height="8.8" fill="#ddb139"/>
<rect x="1390" y="205.1" width="4.5" height="8.8" fill="#6cb446"/>
<rect x="1394.5" y="205.1" width="6.9" height="8.8" fill="#ddb139"/>
<rect x="1122.1" y="218.8" width="731.3" height="4.9" rx="0.8" fill="#fff" stroke="#000" stroke-width="1.4"/>
<rect x="1132.1" y="218.8" width="6.9" height="4.9" fill="#cecece" stroke="#000" stroke-width="1"/>
<rect x="1151.7" y="218.8" width="13.6" height="4.9" fill="#cecece" stroke="#000" stroke-width="1"/>
<rect x="1170.7" y="218.8" width="6.3" height="4.9" fill="#cecece" stroke="#000" stroke-width="1"/>
<rect x="1185.8" y="218.8" width="41.1" height="4.9" fill="#8a8a8a" stroke="#000" stroke-width="1"/>
<rect x="1236" y="218.8" width="12.7" height="4.9" fill="#cecece" stroke="#000" stroke-width="1"/>
<rect x="1256.4" y="218.8" width="4" height="4.9" fill="#cecece" stroke="#000" stroke-width="1"/>
<rect x="1275.3" y="218.8" width="15" height="4.9" fill="#cecece" stroke="#000" stroke-width="1"/>
<rect x="1314.8" y="218.8" width="23.9" height="4.9" fill="#000" stroke="#000" stroke-width="1"/>
<rect x="1342.9" y="218.8" width="19" height="4.9" fill="#000" stroke="#000" stroke-width="1"/>
<rect x="1400" y="218.8" width="28.5" height="4.9" fill="#000" stroke="#000" stroke-width="1"/>
<rect x="1453.6" y="218.8" width="32.6" height="4.9" fill="#cecece" stroke="#000" stroke-width="1"/>
<rect x="1491.7" y="218.8" width="11.8" height="4.9" fill="#cecece" stroke="#000" stroke-width="1"/>
<rect x="1525.2" y="218.8" width="27.5" height="4.9" fill="#000" stroke="#000" stroke-width="1"/>
<rect x="1556" y="218.8" width="22.1" height="4.9" fill="#000" stroke="#000" stroke-width="1"/>
<rect x="1616.7" y="218.8" width="14.5" height="4.9" fill="#8a8a8a" stroke="#000" stroke-width="1"/>
<rect x="1631.2" y="218.8" width="33.5" height="4.9" fill="#000" stroke="#000" stroke-width="1"/>
<rect x="1669.8" y="218.8" width="12.1" height="4.9" fill="#8a8a8a" stroke="#000" stroke-width="1"/>
<rect x="1686.5" y="218.8" width="14.5" height="4.9" fill="#cecece" stroke="#000" stroke-width="1"/>
<rect x="1717.3" y="218.8" width="15.4" height="4.9" fill="#8a8a8a" stroke="#000" stroke-width="1"/>
<rect x="1746.3" y="218.8" width="12.7" height="4.9" fill="#8a8a8a" stroke="#000" stroke-width="1"/>
<rect x="1776" y="218.8" width="11.7" height="4.9" fill="#cecece" stroke="#000" stroke-width="1"/>
<rect x="1811.3" y="218.8" width="14.1" height="4.9" fill="#cecece" stroke="#000" stroke-width="1"/>
<path fill="none" d="M391.1 239.8H1008.4" stroke="#e8edf5" stroke-width="8.8" stroke-dasharray="1.5 8.6 1.2 31.4 1.2 2.6 1 22.1 1.2 48.1 1 3.6 1.2 49.1 1.2 65.6 1 16.7 2 11.3 1 4.3 2 2 1.5 0.8 1 24.5 1.2 4.3 1.5 59 1.5 42.4 1 3.4 1 5 1.2 10.7 1.5 12.5 1.2 19.4 1 13.5 1 61.8 1.2 2.1 1 17.4 2 38.8 2 9999"/>
<path fill="none" d="M383.3 239.8H1030.5" stroke="#d8e1ee" stroke-width="8.8" stroke-dasharray="1.2 28.3 2 28.6 1.2 2.6 1.5 4.1 1.2 2.9 1.5 6.1 1 4.3 1 7.7 1.2 15.4 1 7.2 1 72.4 1 36.8 1.2 7.5 2 28.4 1 24.9 1.5 13 1 15.3 1.2 1.4 2 7.2 1.5 18.4 1.2 3.6 1 11.1 1 10.7 1 2.3 1.2 1.4 1.2 6.6 1.5 37.8 1 2.5 1.5 32.7 2 9.3 1.2 43.9 1.2 14 2 0.6 2 3.5 1 14.9 2 10.8 1 21.2 1.2 8.3 2 25.9 1.2 9999"/>
<path fill="none" d="M395.3 239.8H1020.7" stroke="#c4d2e6" stroke-width="8.8" stroke-dasharray="1.2 7.1 1 5.7 1.2 3.7 1.2 23.8 2 47.5 1.2 14.9 1 37.4 2 7.9 1.2 2.8 1.2 2.4 1.2 4.8 2 12 2 34.5 1 7.4 1.2 104.7 2 3.3 1.2 10.7 1 12.3 1 17.7 1 5.1 1.2 3.8 1 57 1 25 1.5 44.4 1.2 29.1 1 21.4 2 3 2 3.8 1 25 1.2 3.2 1.2 1.7 1.2 9999"/>
<path fill="none" d="M386.8 239.8H997.1" stroke="#a9bddb" stroke-width="8.8" stroke-dasharray="1.5 153.4 1 6.4 1 184.8 2 42.2 1.2 18.1 2 16.4 1.2 19.1 1 16 2 1.9 1 4.8 1 86 1.2 44.1 1 9999"/>
<path fill="none" d="M407.4 239.8H963.8" stroke="#8aa4cc" stroke-width="8.8" stroke-dasharray="1.2 91.9 1.2 70 1.2 83.8 1 38.8 1 58 1.2 47.2 1 37.4 1 42.5 1.5 75.5 1 9999"/>
<path fill="none" d="M418.1 239.8H1028.1" stroke="#5f80b8" stroke-width="8.8" stroke-dasharray="1.2 56.2 1 7 1.2 0.9 1 149.1 1 80 1.5 8.4 1.2 200 1 9.5 1.2 82.7 1 3.4 1.5 9999"/>
<rect x="714.3" y="235.4" width="6.3" height="8.8" fill="#b3c6e3"/>
<path fill="none" d="M714.6 239.8H720.8" stroke="#3f67ab" stroke-width="8.8" stroke-dasharray="1.2 1.4 1.2 1.2 1.2 9999"/>
<rect x="723.3" y="235.4" width="4.5" height="8.8" fill="#4a74bd"/>
<rect x="731.5" y="235.4" width="4.5" height="8.8" fill="#4a74bd"/>
<rect x="756.9" y="235.4" width="7.2" height="8.8" fill="#b3c6e3"/>
<path fill="none" d="M757.2 239.8H763.9" stroke="#3f67ab" stroke-width="8.8" stroke-dasharray="1.2 1.7 1.2 1.4 1.2 9999"/>
<rect x="764.1" y="235.4" width="10.9" height="8.8" fill="#6cb446"/>
<rect x="775" y="235.4" width="14.5" height="8.8" fill="#ddb139"/>
<rect x="789.5" y="235.4" width="4.5" height="8.8" fill="#6cb446"/>
<rect x="794" y="235.4" width="1.8" height="8.8" fill="#ddb139"/>
<rect x="795.8" y="235.4" width="6.3" height="8.8" fill="#6cb446"/>
<rect x="802.2" y="235.4" width="3.6" height="8.8" fill="#4a74bd"/>
<rect x="383" y="249.1" width="648.5" height="4.9" rx="0.8" fill="#fff" stroke="#000" stroke-width="1.4"/>
<rect x="400.2" y="249.1" width="8.9" height="4.9" fill="#cecece" stroke="#000" stroke-width="1"/>
<rect x="428.7" y="249.1" width="18.5" height="4.9" fill="#8a8a8a" stroke="#000" stroke-width="1"/>
<rect x="468.9" y="249.1" width="21.4" height="4.9" fill="#cecece" stroke="#000" stroke-width="1"/>
<rect x="499.4" y="249.1" width="4.5" height="4.9" fill="#cecece" stroke="#000" stroke-width="1"/>
<rect x="513" y="249.1" width="13.2" height="4.9" fill="#8a8a8a" stroke="#000" stroke-width="1"/>
<rect x="537.8" y="249.1" width="14.5" height="4.9" fill="#8a8a8a" stroke="#000" stroke-width="1"/>
<rect x="563.7" y="249.1" width="28.5" height="4.9" fill="#8a8a8a" stroke="#000" stroke-width="1"/>
<rect x="604.8" y="249.1" width="1.4" height="4.9" fill="#8a8a8a" stroke="#000" stroke-width="1"/>
<rect x="631.7" y="249.1" width="19.7" height="4.9" fill="#8a8a8a" stroke="#000" stroke-width="1"/>
<rect x="659.9" y="249.1" width="10.3" height="4.9" fill="#8a8a8a" stroke="#000" stroke-width="1"/>
<rect x="678" y="249.1" width="36.2" height="4.9" fill="#000" stroke="#000" stroke-width="1"/>
<rect x="736" y="249.1" width="19.4" height="4.9" fill="#cecece" stroke="#000" stroke-width="1"/>
<rect x="776.4" y="249.1" width="9.8" height="4.9" fill="#e0362c" stroke="#000" stroke-width="1"/>
<rect x="813.4" y="249.1" width="12.7" height="4.9" fill="#8a8a8a" stroke="#000" stroke-width="1"/>
<rect x="833" y="249.1" width="13.6" height="4.9" fill="#8a8a8a" stroke="#000" stroke-width="1"/>
<rect x="856.5" y="249.1" width="23.6" height="4.9" fill="#8a8a8a" stroke="#000" stroke-width="1"/>
<rect x="890.1" y="249.1" width="24.1" height="4.9" fill="#8a8a8a" stroke="#000" stroke-width="1"/>
<rect x="919.1" y="249.1" width="7.8" height="4.9" fill="#cecece" stroke="#000" stroke-width="1"/>
<rect x="946.3" y="249.1" width="18.6" height="4.9" fill="#000" stroke="#000" stroke-width="1"/>
<rect x="975.6" y="249.1" width="26.6" height="4.9" fill="#000" stroke="#000" stroke-width="1"/>
<rect x="1014" y="249.1" width="5.9" height="4.9" fill="#cecece" stroke="#000" stroke-width="1"/>
<path fill="none" d="M1177.4 239.8H1777.5" stroke="#e8edf5" stroke-width="8.8" stroke-dasharray="1 16.5 1.5 48.3 1.5 45.2 2 17.8 1 9.7 1 6.2 1 15.5 2 23.2 1 47.2 1 51 2 5.5 1.5 2.9 1.2 6.4 1.2 18.2 1 13.9 1 18.5 2 108.4 2 1.8 2 0.4 1 1.4 1.5 4.4 1.2 6.2 1.5 8.5 1 65.9 1.2 21.8 1 9999"/>
<path fill="none" d="M1122.4 239.8H1787.7" stroke="#d8e1ee" stroke-width="8.8" stroke-dasharray="1 1.7 2 1.9 1.2 42.3 2 31.5 1.2 27.7 1 39.3 1.5 2.1 1.5 16.1 1 20.2 1.2 33.8 1 45.5 1.2 5.7 2 13.6 2 36.2 1 2.8 1 10.3 2 3.9 1.2 31.4 1.2 20.2 1 12.2 1.2 1.3 1.5 17.5 1.2 7.3 2 17.1 1.5 96.6 1.2 32.6 1 1.4 1 4.3 1.2 12.2 2 28.6 1.2 4.8 1 9999"/>
<path fill="none" d="M1133.8 239.8H1792.9" stroke="#c4d2e6" stroke-width="8.8" stroke-dasharray="1 2.4 1.5 0.8 1 42.7 1 5.5 2 9.1 1 9 1.2 11.1 1 13.1 1.2 3.6 2 2.7 1.5 21.2 1 13.3 2 46.6 1.2 14.4 1.2 6 1.5 18.7 2 48.9 1.2 13.3 1.2 7.7 1 1.1 1.5 13.8 1 37.6 1.2 10.2 1 37.9 1.5 3.2 1.2 12.7 1.2 16.8 2 6.6 2 0.4 1 69.7 1 3.4 1.2 25.2 1.2 7 1.2 10.2 1.2 30.9 2 7.5 1 4.1 1 19.6 1 9999"/>
<path fill="none" d="M1187.3 239.8H1763.7" stroke="#a9bddb" stroke-width="8.8" stroke-dasharray="1.5 26.1 1 11.8 2 57.3 1.2 53.3 1 22.9 2 16.6 1.5 3.7 1 12.3 1 10.1 1.2 22 1 7.9 1 8.1 1.2 39.4 1.2 31.8 1.2 9.2 1 27.5 2 18.8 2 110.8 1 19.4 1.2 19.3 1 19.7 1.2 9999"/>
<path fill="none" d="M1217.5 239.8H1749.2" stroke="#8aa4cc" stroke-width="8.8" stroke-dasharray="1 12.9 2 92 2 9.1 1.5 22.9 1.2 18.4 1 12.7 2 12.7 1 77.7 1 9.8 2 20.9 1 10.1 2 47.9 2 99.4 1.2 5.9 2 22.9 1 28.7 2 0.6 1.2 9999"/>
<path fill="none" d="M1315.2 239.8H1711.8" stroke="#5f80b8" stroke-width="8.8" stroke-dasharray="2 114.4 2 68.6 1.5 58.9 1.2 146.8 1.2 9999"/>
<rect x="1354.7" y="235.4" width="5.4" height="8.8" fill="#4a74bd"/>
<rect x="1360.1" y="235.4" width="12.7" height="8.8" fill="#6cb446"/>
<rect x="1372.8" y="235.4" width="19" height="8.8" fill="#ddb139"/>
<rect x="1391.8" y="235.4" width="8.2" height="8.8" fill="#6cb446"/>
<rect x="1400" y="235.4" width="9.1" height="8.8" fill="#b3c6e3"/>
<path fill="none" d="M1400.3 239.8H1407.9" stroke="#3f67ab" stroke-width="8.8" stroke-dasharray="1.2 0.7 1.2 1.3 1.2 0.8 1.2 9999"/>
<rect x="1430.8" y="235.4" width="5.4" height="8.8" fill="#4a74bd"/>
<rect x="1439" y="235.4" width="4.5" height="8.8" fill="#4a74bd"/>
<rect x="1446.3" y="235.4" width="4.5" height="8.8" fill="#4a74bd"/>
<rect x="1556" y="235.4" width="4.5" height="8.8" fill="#4a74bd"/>
<rect x="1753.5" y="235.4" width="4.5" height="8.8" fill="#4a74bd"/>
<rect x="1122.1" y="249.1" width="673.2" height="4.9" rx="0.8" fill="#fff" stroke="#000" stroke-width="1.4"/>
<rect x="1135" y="249.1" width="4.9" height="4.9" fill="#cecece" stroke="#000" stroke-width="1"/>
<rect x="1152" y="249.1" width="27.7" height="4.9" fill="#000" stroke="#000" stroke-width="1"/>
<rect x="1191.2" y="249.1" width="18.5" height="4.9" fill="#000" stroke="#000" stroke-width="1"/>
<rect x="1230" y="249.1" width="8.3" height="4.9" fill="#cecece" stroke="#000" stroke-width="1"/>
<rect x="1240.5" y="249.1" width="1.5" height="4.9" fill="#000" stroke="#000" stroke-width="1"/>
<rect x="1243.8" y="249.1" width="23.9" height="4.9" fill="#8a8a8a" stroke="#000" stroke-width="1"/>
<rect x="1278.2" y="249.1" width="24.8" height="4.9" fill="#8a8a8a" stroke="#000" stroke-width="1"/>
<rect x="1312.6" y="249.1" width="14.5" height="4.9" fill="#8a8a8a" stroke="#000" stroke-width="1"/>
<rect x="1334.4" y="249.1" width="13.1" height="4.9" fill="#8a8a8a" stroke="#000" stroke-width="1"/>
<rect x="1410.9" y="249.1" width="19.9" height="4.9" fill="#cecece" stroke="#000" stroke-width="1"/>
<rect x="1453" y="249.1" width="37.7" height="4.9" fill="#000" stroke="#000" stroke-width="1"/>
<rect x="1498.4" y="249.1" width="11.4" height="4.9" fill="#8a8a8a" stroke="#000" stroke-width="1"/>
<rect x="1518.8" y="249.1" width="19.9" height="4.9" fill="#8a8a8a" stroke="#000" stroke-width="1"/>
<rect x="1565" y="249.1" width="1.5" height="4.9" fill="#8a8a8a" stroke="#000" stroke-width="1"/>
<rect x="1581" y="249.1" width="27.9" height="4.9" fill="#8a8a8a" stroke="#000" stroke-width="1"/>
<rect x="1622.1" y="249.1" width="13.6" height="4.9" fill="#8a8a8a" stroke="#000" stroke-width="1"/>
<rect x="1648.8" y="249.1" width="13.2" height="4.9" fill="#8a8a8a" stroke="#000" stroke-width="1"/>
<rect x="1671.1" y="249.1" width="4.5" height="4.9" fill="#cecece" stroke="#000" stroke-width="1"/>
<rect x="1685.6" y="249.1" width="22.3" height="4.9" fill="#cecece" stroke="#000" stroke-width="1"/>
<rect x="1729.6" y="249.1" width="18.5" height="4.9" fill="#8a8a8a" stroke="#000" stroke-width="1"/>
<rect x="1769" y="249.1" width="8.5" height="4.9" fill="#cecece" stroke="#000" stroke-width="1"/>
<path fill="none" d="M437.4 270.1H984.9" stroke="#e8edf5" stroke-width="8.8" stroke-dasharray="1.2 39.6 1.5 1 1.5 9.1 1 10 1.2 5.1 1 45.3 1 25.8 1.2 13.9 1 49 1.2 18 1.2 42.8 1.2 2.7 1.2 23.2 1 6.8 2 26.8 1.5 15.1 1 59.6 1.2 6.1 1.2 4.4 1.2 10.6 1 35.1 1 4.6 2 5.5 1.2 56.2 1.5 9999"/>
<path fill="none" d="M448.7 270.1H1014.6" stroke="#d8e1ee" stroke-width="8.8" stroke-dasharray="1 12.2 1 13.1 1.2 11.7 1.2 9.8 1 4.9 2 20.8 2 0.9 1.2 2.9 1 7.2 1.2 14.1 1 4.4 1.5 6.4 1.5 15.6 1.5 11 1.2 41.3 1 18.1 1.2 114.5 2 18.2 1.5 6.7 1.2 9.3 1.2 3.5 1.5 1.6 1.2 15.2 1.2 29.3 1 30.9 1.5 14.2 1 7.4 1 51.1 1.2 14.4 2 14.8 1.2 9999"/>
<path fill="none" d="M442.7 270.1H1024.1" stroke="#c4d2e6" stroke-width="8.8" stroke-dasharray="1.5 12.9 1 9.6 1 1.5 1 14.8 1.5 9.4 1.2 16.2 1.2 2.8 1.2 29.6 1.2 25 1.5 7.5 1.2 21.9 1.2 52.7 1.2 22.1 1 1.6 1 6.6 1.2 25.9 1 42 1.2 1.6 1.2 1.1 1.2 10.1 1 48.4 1.2 6.8 1.2 7.6 1.2 19.2 1 38.8 1.2 66.2 1.2 46.8 1 9999"/>
<path fill="none" d="M523 270.1H1006.4" stroke="#a9bddb" stroke-width="8.8" stroke-dasharray="1.2 54.9 1.5 23.7 1.2 46.5 1 51.8 2 10.3 1.2 25.1 1.2 11 1 3.4 1.5 11.4 1 23.6 1.2 5.3 2 7.6 1 42.4 1.5 22.1 2 50.1 1.2 1.8 1 2.5 1 30.8 1.5 28.4 1.5 3 1 9999"/>
<path fill="none" d="M612.3 270.1H995.1" stroke="#8aa4cc" stroke-width="8.8" stroke-dasharray="1.5 42.7 1.2 32.1 1.5 95.8 2 204 2 9999"/>
<path fill="none" d="M452.9 270.1H1018.2" stroke="#5f80b8" stroke-width="8.8" stroke-dasharray="1 85.9 2 28.6 1.2 22.8 1 103.5 1.2 51.5 1.2 80.5 1 153.7 1.5 20.4 1 6.3 1 9999"/>
<rect x="677.1" y="265.7" width="4" height="8.8" fill="#ddb139"/>
<rect x="833" y="265.7" width="4.5" height="8.8" fill="#6cb446"/>
<rect x="837.5" y="265.7" width="18.1" height="8.8" fill="#ddb139"/>
<rect x="979.4" y="265.7" width="5.3" height="8.8" fill="#3f7d96"/>
<rect x="997.5" y="265.7" width="2.1" height="8.8" fill="#9fbfcc"/>
<rect x="999.6" y="265.7" width="4.3" height="8.8" fill="#3f7d96"/>
<rect x="437.1" y="279.4" width="594.4" height="4.9" rx="0.8" fill="#fff" stroke="#000" stroke-width="1.4"/>
<rect x="462.2" y="279.4" width="13.2" height="4.9" fill="#8a8a8a" stroke="#000" stroke-width="1"/>
<rect x="496.6" y="279.4" width="15.8" height="4.9" fill="#cecece" stroke="#000" stroke-width="1"/>
<rect x="532.9" y="279.4" width="12.1" height="4.9" fill="#cecece" stroke="#000" stroke-width="1"/>
<rect x="551" y="279.4" width="23.6" height="4.9" fill="#000" stroke="#000" stroke-width="1"/>
<rect x="581.8" y="279.4" width="16.8" height="4.9" fill="#8a8a8a" stroke="#000" stroke-width="1"/>
<rect x="617.5" y="279.4" width="10.1" height="4.9" fill="#cecece" stroke="#000" stroke-width="1"/>
<rect x="650.8" y="279.4" width="26.3" height="4.9" fill="#000" stroke="#000" stroke-width="1"/>
<rect x="689.8" y="279.4" width="34.4" height="4.9" fill="#8a8a8a" stroke="#000" stroke-width="1"/>
<rect x="724.2" y="279.4" width="12.7" height="4.9" fill="#000" stroke="#000" stroke-width="1"/>
<rect x="746" y="279.4" width="9.1" height="4.9" fill="#cecece" stroke="#000" stroke-width="1"/>
<rect x="765" y="279.4" width="14" height="4.9" fill="#cecece" stroke="#000" stroke-width="1"/>
<rect x="782.2" y="279.4" width="23.6" height="4.9" fill="#cecece" stroke="#000" stroke-width="1"/>
<rect x="818.5" y="279.4" width="2.2" height="4.9" fill="#000" stroke="#000" stroke-width="1"/>
<rect x="869.2" y="279.4" width="4.5" height="4.9" fill="#cecece" stroke="#000" stroke-width="1"/>
<rect x="882.8" y="279.4" width="29.9" height="4.9" fill="#8a8a8a" stroke="#000" stroke-width="1"/>
<rect x="920.2" y="279.4" width="14.9" height="4.9" fill="#cecece" stroke="#000" stroke-width="1"/>
<rect x="952.9" y="279.4" width="26.4" height="4.9" fill="#000" stroke="#000" stroke-width="1"/>
<rect x="1007.1" y="279.4" width="14.9" height="4.9" fill="#8a8a8a" stroke="#000" stroke-width="1"/>
<path fill="none" d="M1122.4 270.1H1710.2" stroke="#e8edf5" stroke-width="8.8" stroke-dasharray="1.2 4 1.5 1.6 1 85.8 1.5 17.5 1 3.1 1.2 2 1.2 9.3 1 9.6 1.5 1 1 37 1.2 98.5 1 16.6 2 1.6 2 5.6 1.5 27.2 1 72.2 1 122.7 1 29.5 1 2.7 2 13.3 1.2 9999"/>
<path fill="none" d="M1140.3 270.1H1681.2" stroke="#d8e1ee" stroke-width="8.8" stroke-dasharray="1.5 57.8 1 22.2 2 1.6 1.5 18.3 2 54.3 1.2 22.8 1.2 9.4 1.2 8.5 1.2 5.2 1.2 9.5 1 19.8 1 9.1 1.2 14.5 1.2 2 2 3.1 1.2 17.2 2 2.5 2 9.7 1.2 24.2 2 1.2 1.2 5.4 1 34.9 1.2 3.2 1 10.6 1 32 1.2 2.2 1 47.1 2 52.2 2 9999"/>
<path fill="none" d="M1125.6 270.1H1689.2" stroke="#c4d2e6" stroke-width="8.8" stroke-dasharray="1 29.2 1 8.9 1.2 173.2 1.2 2.6 1.5 35.5 1.5 46.3 1.2 16.2 1.2 0.9 1.5 34.6 1.2 96.5 1.2 5.4 1 46.6 1 18.7 1.5 5.7 1.2 4.5 1.2 4.6 1.5 5.6 1.2 4.8 1.5 9999"/>
<path fill="none" d="M1197.6 270.1H1651.6" stroke="#a9bddb" stroke-width="8.8" stroke-dasharray="1 34 1.2 95.2 1 1.2 1.2 18.4 1.2 38.1 1 68 1 9.4 1.2 3.3 1 47.3 1.5 9.2 1.2 10.3 1 82.2 1 3.6 1.5 6.4 1.5 3.6 2 3.1 1.2 9999"/>
<path fill="none" d="M1147.4 270.1H1716.4" stroke="#8aa4cc" stroke-width="8.8" stroke-dasharray="1.5 103 1 82 2 21.5 2 39.5 1.2 49.7 1.2 15.5 1.2 49.9 1 65.5 1 128.3 2 9999"/>
<path fill="none" d="M1134.6 270.1H1379.1" stroke="#5f80b8" stroke-width="8.8" stroke-dasharray="1.2 8.3 1.2 4.8 1 9.6 1.2 67.4 1.2 29.3 1.2 107.6 1.2 3.6 1.5 3.2 1 9999"/>
<rect x="1150.8" y="265.7" width="3.6" height="8.8" fill="#3f7d96"/>
<rect x="1168" y="265.7" width="6.9" height="8.8" fill="#3f7d96"/>
<rect x="1302.5" y="265.7" width="23.6" height="8.8" fill="#ddb139"/>
<rect x="1484" y="265.7" width="4" height="8.8" fill="#ddb139"/>
<rect x="1122.1" y="279.4" width="613.9" height="4.9" rx="0.8" fill="#fff" stroke="#000" stroke-width="1.4"/>
<rect x="1131.8" y="279.4" width="15.4" height="4.9" fill="#8a8a8a" stroke="#000" stroke-width="1"/>
<rect x="1174.9" y="279.4" width="27.5" height="4.9" fill="#000" stroke="#000" stroke-width="1"/>
<rect x="1220.9" y="279.4" width="15" height="4.9" fill="#cecece" stroke="#000" stroke-width="1"/>
<rect x="1243.8" y="279.4" width="31.2" height="4.9" fill="#8a8a8a" stroke="#000" stroke-width="1"/>
<rect x="1283.1" y="279.4" width="4.5" height="4.9" fill="#cecece" stroke="#000" stroke-width="1"/>
<rect x="1355" y="279.4" width="23.2" height="4.9" fill="#cecece" stroke="#000" stroke-width="1"/>
<rect x="1379.7" y="279.4" width="1.3" height="4.9" fill="#cecece" stroke="#000" stroke-width="1"/>
<rect x="1382.8" y="279.4" width="14.5" height="4.9" fill="#cecece" stroke="#000" stroke-width="1"/>
<rect x="1407.2" y="279.4" width="9.1" height="4.9" fill="#cecece" stroke="#000" stroke-width="1"/>
<rect x="1426.3" y="279.4" width="11.8" height="4.9" fill="#000" stroke="#000" stroke-width="1"/>
<rect x="1438" y="279.4" width="36.4" height="4.9" fill="#8a8a8a" stroke="#000" stroke-width="1"/>
<rect x="1488" y="279.4" width="27.2" height="4.9" fill="#000" stroke="#000" stroke-width="1"/>
<rect x="1538.8" y="279.4" width="10" height="4.9" fill="#cecece" stroke="#000" stroke-width="1"/>
<rect x="1569" y="279.4" width="17.8" height="4.9" fill="#8a8a8a" stroke="#000" stroke-width="1"/>
<rect x="1593.2" y="279.4" width="24.8" height="4.9" fill="#000" stroke="#000" stroke-width="1"/>
<rect x="1624.5" y="279.4" width="12.1" height="4.9" fill="#cecece" stroke="#000" stroke-width="1"/>
<rect x="1658.4" y="279.4" width="15.4" height="4.9" fill="#cecece" stroke="#000" stroke-width="1"/>
<rect x="1695.9" y="279.4" width="14.1" height="4.9" fill="#8a8a8a" stroke="#000" stroke-width="1"/>
<path fill="none" d="M538.1 300.4H1013.9" stroke="#e8edf5" stroke-width="8.8" stroke-dasharray="1.2 1.9 1.5 28.3 1.2 5.4 1.2 20.4 1 59.7 1.2 39.4 1.2 8.6 1.5 13 1 5.9 1 25.7 1.5 45.6 1.5 21.9 1.2 15.9 1.5 6.7 1 2.7 1.5 23.6 1.5 1.7 1 10.5 1.2 3.5 1 8.8 2 14.5 1 80.2 1.2 0.8 2 9999"/>
<path fill="none" d="M513.5 300.4H1030.2" stroke="#d8e1ee" stroke-width="8.8" stroke-dasharray="1.2 18.8 1.5 38.9 1 13.4 1.2 3.2 2 2 1 31.6 1.2 46.4 1 7.8 1.2 2.4 1.5 4.8 1.5 9 1.2 21.1 1 14 1.2 7.3 1.2 16.3 1.2 2.7 1 44.7 1.2 18.6 1 11.1 1 15.2 1.5 9.6 1.5 12.1 1 13.4 1 8.6 1.2 4.4 1 1.3 1.2 16 1.5 5.4 1.2 36.3 2 11.8 1 1.2 1 13.5 1 12.2 1.2 9999"/>
<path fill="none" d="M517.2 300.4H1026.6" stroke="#c4d2e6" stroke-width="8.8" stroke-dasharray="1.5 7.3 1 19.4 1.2 19.4 2 21.7 1.5 31.3 1 10.7 2 27.6 1.5 5.9 1.2 8.1 1.5 33 1 19.7 1.2 9.4 1 15.7 1 11 1.5 33.8 1.5 28.2 1 19.9 1 8.6 1 2.4 1.2 18.6 1 92.9 1.2 28.8 1 6 1 9999"/>
<path fill="none" d="M499.6 300.4H900.8" stroke="#a9bddb" stroke-width="8.8" stroke-dasharray="1.2 1.8 1.2 4.8 1.2 12.7 1 6.3 1 52.3 1.2 135.3 1 18.9 1.5 19.7 2 40.4 1.2 18.8 1 75.7 1 9999"/>
<path fill="none" d="M693.2 300.4H994.5" stroke="#8aa4cc" stroke-width="8.8" stroke-dasharray="1 241.3 1.5 8.7 1.5 46.3 1 9999"/>
<path fill="none" d="M668.7 300.4H1022.2" stroke="#5f80b8" stroke-width="8.8" stroke-dasharray="1 86.6 2 40.8 2 12.7 2 18.9 1 96 1 74.1 1.5 12.7 1.2 9999"/>
<rect x="776.4" y="296" width="5.8" height="8.8" fill="#ddb139"/>
<rect x="782.2" y="296" width="16.7" height="8.8" fill="#6cb446"/>
<rect x="798.9" y="296" width="45.3" height="8.8" fill="#ddb139"/>
<rect x="844.2" y="296" width="3.6" height="8.8" fill="#6cb446"/>
<rect x="847.9" y="296" width="9.1" height="8.8" fill="#ddb139"/>
<rect x="856.9" y="296" width="9.6" height="8.8" fill="#6cb446"/>
<rect x="866.5" y="296" width="1.3" height="8.8" fill="#ddb139"/>
<rect x="867.8" y="296" width="7.8" height="8.8" fill="#6cb446"/>
<rect x="499.3" y="309.7" width="532.2" height="4.9" rx="0.8" fill="#fff" stroke="#000" stroke-width="1.4"/>
<rect x="514.8" y="309.7" width="5.4" height="4.9" fill="#cecece" stroke="#000" stroke-width="1"/>
<rect x="543.8" y="309.7" width="17.2" height="4.9" fill="#cecece" stroke="#000" stroke-width="1"/>
<rect x="574.6" y="309.7" width="19" height="4.9" fill="#8a8a8a" stroke="#000" stroke-width="1"/>
<rect x="605.4" y="309.7" width="14.5" height="4.9" fill="#cecece" stroke="#000" stroke-width="1"/>
<rect x="632.6" y="309.7" width="23.2" height="4.9" fill="#000" stroke="#000" stroke-width="1"/>
<rect x="669.5" y="309.7" width="9.4" height="4.9" fill="#cecece" stroke="#000" stroke-width="1"/>
<rect x="690.7" y="309.7" width="7.8" height="4.9" fill="#cecece" stroke="#000" stroke-width="1"/>
<rect x="704.7" y="309.7" width="14.1" height="4.9" fill="#cecece" stroke="#000" stroke-width="1"/>
<rect x="730.6" y="309.7" width="10.9" height="4.9" fill="#cecece" stroke="#000" stroke-width="1"/>
<rect x="750.5" y="309.7" width="20.5" height="4.9" fill="#cecece" stroke="#000" stroke-width="1"/>
<rect x="780.1" y="309.7" width="16.3" height="4.9" fill="#cecece" stroke="#000" stroke-width="1"/>
<rect x="800.4" y="309.7" width="47.1" height="4.9" fill="#cecece" stroke="#000" stroke-width="1"/>
<rect x="848.4" y="309.7" width="8.2" height="4.9" fill="#e0362c" stroke="#000" stroke-width="1"/>
<rect x="879.8" y="309.7" width="4" height="4.9" fill="#cecece" stroke="#000" stroke-width="1"/>
<rect x="897.3" y="309.7" width="21.3" height="4.9" fill="#000" stroke="#000" stroke-width="1"/>
<rect x="927.7" y="309.7" width="24" height="4.9" fill="#000" stroke="#000" stroke-width="1"/>
<rect x="957.5" y="309.7" width="6.4" height="4.9" fill="#cecece" stroke="#000" stroke-width="1"/>
<rect x="975.1" y="309.7" width="19.7" height="4.9" fill="#8a8a8a" stroke="#000" stroke-width="1"/>
<rect x="1014" y="309.7" width="8" height="4.9" fill="#cecece" stroke="#000" stroke-width="1"/>
<path fill="none" d="M1130.2 300.4H1724.3" stroke="#e8edf5" stroke-width="8.8" stroke-dasharray="1 6.4 1.5 9.1 1.5 11.4 1.2 2.1 1.5 11.1 1 15.6 1.2 4.6 1 16.2 1 15.5 1.2 2.2 2 47.7 1.2 11.5 1.2 37.7 1.2 9.7 1.5 7.5 2 22.6 1.2 39 2 5.2 1.5 20 1 5.4 2 17.1 2 21.3 1 13.8 1 3.1 2 14.7 1.2 28 1.2 105.8 1.2 8 1.5 40.6 1.2 9999"/>
<path fill="none" d="M1145.6 300.4H1707.9" stroke="#d8e1ee" stroke-width="8.8" stroke-dasharray="1.5 19.8 1 2.3 1.2 16.7 1.5 23.2 1.2 7.7 2 7.3 1.2 7.1 1.2 6.7 1 3 1.2 30.2 1 11.4 1.2 10.6 1 13.3 1.5 18.4 1.5 19.3 1.2 1.6 2 6.4 1.5 1.9 1.2 9.7 1.5 50.1 1 22.1 2 26.4 1 3.4 1.5 6.8 1 7.1 1 17.9 1.2 77.9 1 4.9 1 6.7 1.2 10 1.5 3.9 1 16.4 1.2 2.7 1.5 1.5 2 29.3 1 2.1 1.5 6.8 1.5 9999"/>
<path fill="none" d="M1132.6 300.4H1712.7" stroke="#c4d2e6" stroke-width="8.8" stroke-dasharray="2 7.6 1.2 14.3 1 50.6 1.5 15.6 1.2 14.2 1 46.6 1.2 10.7 1 21.1 1.2 0.9 1.2 6.7 1.2 93.1 1.2 3.4 1.2 3 1.5 6.5 1 2.8 1 5.9 1.2 15.6 1 35.6 1 57.5 1 31.4 1 3 1 14.9 1.5 24.1 1 45.2 1 19.5 1 9999"/>
<path fill="none" d="M1126.4 300.4H1718.3" stroke="#a9bddb" stroke-width="8.8" stroke-dasharray="1.5 25.3 2 19.5 2 9 1.5 167.5 1 69.3 1.2 66.4 1 132.2 1.2 20.5 2 2 1 24.2 1.5 5.9 2 1.9 1 28.3 1 9999"/>
<path fill="none" d="M1122.4 300.4H1702.7" stroke="#8aa4cc" stroke-width="8.8" stroke-dasharray="2 80.6 2 123.6 1 38.9 1 94.8 1 12.7 2 2.6 1.2 180.6 1.5 6.4 1.2 26 1.2 9999"/>
<path fill="none" d="M1179.7 300.4H1629.8" stroke="#5f80b8" stroke-width="8.8" stroke-dasharray="1.2 75.9 1 88.5 1 177.4 1.2 102.7 1.2 9999"/>
<rect x="1283.1" y="296" width="27.2" height="8.8" fill="#6cb446"/>
<rect x="1310.3" y="296" width="10" height="8.8" fill="#ddb139"/>
<rect x="1320.2" y="296" width="3.6" height="8.8" fill="#6cb446"/>
<rect x="1323.9" y="296" width="90.3" height="8.8" fill="#ddb139"/>
<rect x="1414.1" y="296" width="15.8" height="8.8" fill="#6cb446"/>
<rect x="1429.9" y="296" width="7.2" height="8.8" fill="#ddb139"/>
<rect x="1122.1" y="309.7" width="601.5" height="4.9" rx="0.8" fill="#fff" stroke="#000" stroke-width="1.4"/>
<rect x="1131.8" y="309.7" width="8.2" height="4.9" fill="#cecece" stroke="#000" stroke-width="1"/>
<rect x="1160.4" y="309.7" width="20.3" height="4.9" fill="#8a8a8a" stroke="#000" stroke-width="1"/>
<rect x="1191.6" y="309.7" width="7.2" height="4.9" fill="#cecece" stroke="#000" stroke-width="1"/>
<rect x="1205.2" y="309.7" width="24.1" height="4.9" fill="#000" stroke="#000" stroke-width="1"/>
<rect x="1239" y="309.7" width="21.8" height="4.9" fill="#000" stroke="#000" stroke-width="1"/>
<rect x="1274.6" y="309.7" width="4.9" height="4.9" fill="#cecece" stroke="#000" stroke-width="1"/>
<rect x="1285.8" y="309.7" width="5.4" height="4.9" fill="#cecece" stroke="#000" stroke-width="1"/>
<rect x="1321.1" y="309.7" width="92.4" height="4.9" fill="#cecece" stroke="#000" stroke-width="1"/>
<rect x="1416.3" y="309.7" width="14.5" height="4.9" fill="#cecece" stroke="#000" stroke-width="1"/>
<rect x="1445" y="309.7" width="19.5" height="4.9" fill="#cecece" stroke="#000" stroke-width="1"/>
<rect x="1472.6" y="309.7" width="11.8" height="4.9" fill="#cecece" stroke="#000" stroke-width="1"/>
<rect x="1497.6" y="309.7" width="13" height="4.9" fill="#cecece" stroke="#000" stroke-width="1"/>
<rect x="1517.9" y="309.7" width="7.2" height="4.9" fill="#cecece" stroke="#000" stroke-width="1"/>
<rect x="1537.9" y="309.7" width="10" height="4.9" fill="#cecece" stroke="#000" stroke-width="1"/>
<rect x="1561.8" y="309.7" width="23.6" height="4.9" fill="#000" stroke="#000" stroke-width="1"/>
<rect x="1598.6" y="309.7" width="14" height="4.9" fill="#cecece" stroke="#000" stroke-width="1"/>
<rect x="1625.8" y="309.7" width="19.4" height="4.9" fill="#8a8a8a" stroke="#000" stroke-width="1"/>
<rect x="1660.2" y="309.7" width="17.2" height="4.9" fill="#cecece" stroke="#000" stroke-width="1"/>
<rect x="1701.9" y="309.7" width="4.5" height="4.9" fill="#cecece" stroke="#000" stroke-width="1"/>
<path fill="none" d="M496.1 330.7H1027.5" stroke="#e8edf5" stroke-width="8.8" stroke-dasharray="1 33 2 40.6 2 1.6 1 26.6 1 16.9 1.2 3.2 1.5 0.9 1 11.3 1.2 10 2 4.3 1 10.4 1 41.8 1.2 12.8 1.2 28.3 1.2 2.2 1.2 25.2 1.2 8.5 1.2 69.8 1 4.7 1.2 38 2 3.9 1 4.6 1.2 2 1.2 14 1.2 54.8 1 22.1 1 2.1 1.5 1.4 1 9999"/>
<path fill="none" d="M490.6 330.7H1010.4" stroke="#d8e1ee" stroke-width="8.8" stroke-dasharray="1 6.7 1.2 7.1 1 29.6 1 2.4 2 17.5 1 3.7 1.2 14 1.2 52.6 1 8.8 1.2 30.6 2 9.4 1 48.8 1.2 4.2 2 3.6 2 63.3 1 17.6 1.2 7.8 2 3.7 1.2 1.2 1.2 12.5 1.5 27.9 1.5 4.1 1 1.5 1.5 7.1 1.2 23.5 1 24.9 1.2 6.9 1 8.9 1 7.7 2 21.7 1 9999"/>
<path fill="none" d="M485.5 330.7H1016.5" stroke="#c4d2e6" stroke-width="8.8" stroke-dasharray="1.2 46.6 1 20.7 1 6.6 1 44.2 1.2 1.2 1.5 37 1.2 5.6 1 22.2 1 4.5 1.5 36 1.2 41.1 1 5.9 1 20 1.2 4.7 2 18.3 1 4 1.2 12.9 1.5 3.8 1 58.9 1.2 31.9 1 44.6 1.5 9 1.5 6.3 1 4.9 1 9 1.2 9999"/>
<path fill="none" d="M482.3 330.7H974.3" stroke="#a9bddb" stroke-width="8.8" stroke-dasharray="1 19.2 1 42 1 51.7 1 39.3 1 26.9 1.2 13.7 1.2 7.5 1.2 40.8 1 33 1.5 107.8 1 96.5 1.5 9999"/>
<path fill="none" d="M619.7 330.7H965.4" stroke="#8aa4cc" stroke-width="8.8" stroke-dasharray="1.2 43.1 1.2 88.3 1 34.4 1.2 38.2 1.5 134.1 1.5 9999"/>
<path fill="none" d="M549.4 330.7H957.6" stroke="#5f80b8" stroke-width="8.8" stroke-dasharray="1.2 20 1 42.2 1.2 103.5 1 209.5 1.2 26.2 1.2 9999"/>
<rect x="828.5" y="326.3" width="2.7" height="8.8" fill="#4a74bd"/>
<rect x="833.9" y="326.3" width="8.2" height="8.8" fill="#b3c6e3"/>
<path fill="none" d="M834.2 330.7H842.1" stroke="#3f67ab" stroke-width="8.8" stroke-dasharray="1.2 0.8 1.2 0.8 1.2 1.6 1.2 9999"/>
<rect x="849.8" y="326.3" width="3.1" height="8.8" fill="#6cb446"/>
<rect x="852.9" y="326.3" width="22.7" height="8.8" fill="#ddb139"/>
<rect x="875.6" y="326.3" width="7.2" height="8.8" fill="#b3c6e3"/>
<path fill="none" d="M875.9 330.7H881.6" stroke="#3f67ab" stroke-width="8.8" stroke-dasharray="1.2 1.2 1.2 0.9 1.2 9999"/>
<rect x="482" y="340" width="549.5" height="4.9" rx="0.8" fill="#fff" stroke="#000" stroke-width="1.4"/>
<rect x="501.5" y="340" width="12.3" height="4.9" fill="#cecece" stroke="#000" stroke-width="1"/>
<rect x="532" y="340" width="5.4" height="4.9" fill="#cecece" stroke="#000" stroke-width="1"/>
<rect x="548.3" y="340" width="16.7" height="4.9" fill="#8a8a8a" stroke="#000" stroke-width="1"/>
<rect x="576.9" y="340" width="25.4" height="4.9" fill="#000" stroke="#000" stroke-width="1"/>
<rect x="606.3" y="340" width="7.2" height="4.9" fill="#cecece" stroke="#000" stroke-width="1"/>
<rect x="618.1" y="340" width="10" height="4.9" fill="#cecece" stroke="#000" stroke-width="1"/>
<rect x="638.2" y="340" width="10.9" height="4.9" fill="#cecece" stroke="#000" stroke-width="1"/>
<rect x="655.4" y="340" width="12.7" height="4.9" fill="#8a8a8a" stroke="#000" stroke-width="1"/>
<rect x="674.4" y="340" width="24.5" height="4.9" fill="#000" stroke="#000" stroke-width="1"/>
<rect x="716.1" y="340" width="10.9" height="4.9" fill="#cecece" stroke="#000" stroke-width="1"/>
<rect x="744.5" y="340" width="25.4" height="4.9" fill="#000" stroke="#000" stroke-width="1"/>
<rect x="783.1" y="340" width="33.5" height="4.9" fill="#000" stroke="#000" stroke-width="1"/>
<rect x="827.5" y="340" width="11.8" height="4.9" fill="#cecece" stroke="#000" stroke-width="1"/>
<rect x="867.4" y="340" width="2.7" height="4.9" fill="#e0362c" stroke="#000" stroke-width="1"/>
<rect x="893.7" y="340" width="11.4" height="4.9" fill="#cecece" stroke="#000" stroke-width="1"/>
<rect x="913.6" y="340" width="18.8" height="4.9" fill="#cecece" stroke="#000" stroke-width="1"/>
<rect x="942.1" y="340" width="14.4" height="4.9" fill="#8a8a8a" stroke="#000" stroke-width="1"/>
<rect x="958" y="340" width="2.7" height="4.9" fill="#8a8a8a" stroke="#000" stroke-width="1"/>
<rect x="983.1" y="340" width="21.3" height="4.9" fill="#8a8a8a" stroke="#000" stroke-width="1"/>
<path fill="none" d="M1209.3 330.7H1681.1" stroke="#e8edf5" stroke-width="8.8" stroke-dasharray="1 10.3 1 28.4 1 1.3 1 17.6 1 30 1 2.4 1.2 4.2 1 14 1.5 13.4 1 54.9 2 23.4 1 15.8 1 49.2 1 67.1 1 35.5 1.2 52.2 1 8 1.2 22.8 1.2 9999"/>
<path fill="none" d="M1187.2 330.7H1687.1" stroke="#d8e1ee" stroke-width="8.8" stroke-dasharray="1.2 13.1 1.2 9.2 1.5 2.1 1 1.6 1 21.6 2 18 1.2 14.8 1 50.5 1.2 24.2 1 35.7 1 2 2 10.4 1.5 10.8 1.2 14.3 1.5 69.9 2 20.7 1.5 19.6 1.2 10.7 1.2 3.2 1.2 4.1 1 3.3 2 2.3 1 3.3 1.2 13.5 1.2 43 1.2 10.5 2 11.9 1 5.4 1.2 10.6 1.2 9999"/>
<path fill="none" d="M1191.4 330.7H1651.7" stroke="#c4d2e6" stroke-width="8.8" stroke-dasharray="1 12.6 1.5 19.3 1 28 1.5 8.6 1.5 0.8 1.2 20.2 1 3.5 1 52.7 1 12.7 1 3.2 1.2 18.6 1.2 29.6 1.2 8.2 1 72.3 1 38.3 1.2 1.3 1 12.9 1 32.5 1.2 12.3 1.5 23.6 1.2 3.7 1.2 18.6 1.2 9999"/>
<path fill="none" d="M1228.8 330.7H1637.7" stroke="#a9bddb" stroke-width="8.8" stroke-dasharray="1.5 0.7 1.2 13.2 1 34.9 1 33.3 2 21 1.2 3.7 1.2 6.8 1.5 4.9 1 42.2 1.2 7.4 1 18.4 1.2 31.9 1.5 37.3 1.2 31.5 1.2 55.6 1.5 28.8 1 14.7 1.2 9999"/>
<path fill="none" d="M1296.1 330.7H1673.6" stroke="#8aa4cc" stroke-width="8.8" stroke-dasharray="1.2 248.9 1.2 81.2 2 29.3 1 11.2 1.5 9999"/>
<path fill="none" d="M1122.4 330.7H1663.6" stroke="#5f80b8" stroke-width="8.8" stroke-dasharray="1 2.4 2 68 1 10.5 2 25.5 1 22.8 1 26.1 1.5 33.3 2 11.4 2 157.4 1 36.7 1.2 10 2 118.2 1.2 9999"/>
<rect x="1272.2" y="326.3" width="10.9" height="8.8" fill="#b3c6e3"/>
<path fill="none" d="M1272.5 330.7H1281" stroke="#3f67ab" stroke-width="8.8" stroke-dasharray="1.2 1.6 1.2 1.1 1.2 1 1.2 9999"/>
<rect x="1283.1" y="326.3" width="21.8" height="8.8" fill="#ddb139"/>
<rect x="1304.8" y="326.3" width="2.7" height="8.8" fill="#6cb446"/>
<rect x="1315.7" y="326.3" width="11.8" height="8.8" fill="#b3c6e3"/>
<path fill="none" d="M1316 330.7H1326.2" stroke="#3f67ab" stroke-width="8.8" stroke-dasharray="1.2 1 1.2 1.3 1.2 0.9 1.2 1 1.2 9999"/>
<rect x="1329.3" y="326.3" width="2.7" height="8.8" fill="#4a74bd"/>
<rect x="1463.2" y="326.3" width="3.6" height="8.8" fill="#4a74bd"/>
<rect x="1122.1" y="340" width="568.4" height="4.9" rx="0.8" fill="#fff" stroke="#000" stroke-width="1.4"/>
<rect x="1134.5" y="340" width="2.7" height="4.9" fill="#cecece" stroke="#000" stroke-width="1"/>
<rect x="1149.9" y="340" width="22.1" height="4.9" fill="#8a8a8a" stroke="#000" stroke-width="1"/>
<rect x="1194.8" y="340" width="3.1" height="4.9" fill="#8a8a8a" stroke="#000" stroke-width="1"/>
<rect x="1199.2" y="340" width="15.6" height="4.9" fill="#8a8a8a" stroke="#000" stroke-width="1"/>
<rect x="1224.5" y="340" width="19.2" height="4.9" fill="#cecece" stroke="#000" stroke-width="1"/>
<rect x="1253.2" y="340" width="11.2" height="4.9" fill="#cecece" stroke="#000" stroke-width="1"/>
<rect x="1288.5" y="340" width="9.6" height="4.9" fill="#e0362c" stroke="#000" stroke-width="1"/>
<rect x="1319.3" y="340" width="13.6" height="4.9" fill="#cecece" stroke="#000" stroke-width="1"/>
<rect x="1343.8" y="340" width="35.3" height="4.9" fill="#000" stroke="#000" stroke-width="1"/>
<rect x="1392.7" y="340" width="25.4" height="4.9" fill="#000" stroke="#000" stroke-width="1"/>
<rect x="1437.1" y="340" width="10.1" height="4.9" fill="#cecece" stroke="#000" stroke-width="1"/>
<rect x="1466.3" y="340" width="24.5" height="4.9" fill="#000" stroke="#000" stroke-width="1"/>
<rect x="1498.4" y="340" width="12.3" height="4.9" fill="#8a8a8a" stroke="#000" stroke-width="1"/>
<rect x="1517.6" y="340" width="11.2" height="4.9" fill="#cecece" stroke="#000" stroke-width="1"/>
<rect x="1539.3" y="340" width="9.4" height="4.9" fill="#cecece" stroke="#000" stroke-width="1"/>
<rect x="1554.5" y="340" width="6.9" height="4.9" fill="#cecece" stroke="#000" stroke-width="1"/>
<rect x="1565" y="340" width="26.8" height="4.9" fill="#000" stroke="#000" stroke-width="1"/>
<rect x="1604.6" y="340" width="16.3" height="4.9" fill="#8a8a8a" stroke="#000" stroke-width="1"/>
<rect x="1633.6" y="340" width="4" height="4.9" fill="#cecece" stroke="#000" stroke-width="1"/>
<rect x="1657.1" y="340" width="12.2" height="4.9" fill="#cecece" stroke="#000" stroke-width="1"/>
<path fill="none" d="M554.9 361H1031.5" stroke="#e8edf5" stroke-width="8.8" stroke-dasharray="1.2 27.3 1.2 54.9 1 45.5 1.5 75.2 1 1.8 1 2.5 1.2 29.3 1 13.9 1.5 7.1 1.2 1.3 1.5 0.7 2 3.4 2 9.8 1.5 1.3 1.5 3.6 1.2 17.2 1.2 41.1 1 19.5 1.2 8.6 1.2 32.3 1.2 10.7 1 16.3 1 15.3 1.2 5.5 2 9999"/>
<path fill="none" d="M512 361H1026.7" stroke="#d8e1ee" stroke-width="8.8" stroke-dasharray="1.5 5.3 1.2 42.1 2 13.7 1.2 9.1 2 4 2 6.8 1.5 4.3 1.2 2.2 1.2 8.6 1 49 1.2 7.2 1 2.5 1.2 34 1 60.7 1 14.4 1.2 6.9 1.2 4 1.2 25.1 1.2 3.5 1.2 16.6 1.2 24.5 2 3.7 1.2 2.2 1 5.6 1 5.6 2 15.7 1.2 56 1.5 21.3 1 20.8 1 9999"/>
<path fill="none" d="M507.7 361H1002.9" stroke="#c4d2e6" stroke-width="8.8" stroke-dasharray="1 6.7 1 53.5 1.2 19.6 1 9.1 1 66.7 1 67.7 1.2 47.1 1 3.7 1.2 1.1 1.5 24.7 2 39.5 1 16.2 1.5 1.8 1 38.3 1 65.3 1.2 6.7 1.2 1.8 1.5 2.7 1.5 9999"/>
<path fill="none" d="M565.6 361H1009.7" stroke="#a9bddb" stroke-width="8.8" stroke-dasharray="1.5 50.3 1.2 18.5 1 7.3 1 10.1 2 6.3 1 106.2 1 92.5 2 6.5 1.2 20.8 2 5.7 1 5.3 1 15.2 1.2 12.1 1.2 68 1 9999"/>
<path fill="none" d="M557.3 361H931" stroke="#8aa4cc" stroke-width="8.8" stroke-dasharray="2 13 1 79.8 1 6 1.2 15.2 1 105.8 1.2 131.4 1 12.6 1.5 9999"/>
<path fill="none" d="M597.2 361H778.5" stroke="#5f80b8" stroke-width="8.8" stroke-dasharray="1.5 52.4 1.2 124.7 1.5 9999"/>
<rect x="809.4" y="356.6" width="5.4" height="8.8" fill="#6cb446"/>
<rect x="814.9" y="356.6" width="12.7" height="8.8" fill="#ddb139"/>
<rect x="827.5" y="356.6" width="6.3" height="8.8" fill="#6cb446"/>
<rect x="833.9" y="356.6" width="1.8" height="8.8" fill="#4a74bd"/>
<rect x="489.2" y="370.3" width="542.3" height="4.9" rx="0.8" fill="#fff" stroke="#000" stroke-width="1.4"/>
<rect x="505.7" y="370.3" width="11.8" height="4.9" fill="#cecece" stroke="#000" stroke-width="1"/>
<rect x="534.2" y="370.3" width="9.6" height="4.9" fill="#cecece" stroke="#000" stroke-width="1"/>
<rect x="571.9" y="370.3" width="7.2" height="4.9" fill="#cecece" stroke="#000" stroke-width="1"/>
<rect x="587.8" y="370.3" width="31.2" height="4.9" fill="#000" stroke="#000" stroke-width="1"/>
<rect x="620.8" y="370.3" width="21" height="4.9" fill="#000" stroke="#000" stroke-width="1"/>
<rect x="659" y="370.3" width="19" height="4.9" fill="#000" stroke="#000" stroke-width="1"/>
<rect x="688" y="370.3" width="35.3" height="4.9" fill="#000" stroke="#000" stroke-width="1"/>
<rect x="730.6" y="370.3" width="19" height="4.9" fill="#cecece" stroke="#000" stroke-width="1"/>
<rect x="757.8" y="370.3" width="9.1" height="4.9" fill="#cecece" stroke="#000" stroke-width="1"/>
<rect x="779.5" y="370.3" width="6.3" height="4.9" fill="#cecece" stroke="#000" stroke-width="1"/>
<rect x="793.1" y="370.3" width="20.9" height="4.9" fill="#8a8a8a" stroke="#000" stroke-width="1"/>
<rect x="825.7" y="370.3" width="7.2" height="4.9" fill="#8a8a8a" stroke="#000" stroke-width="1"/>
<rect x="854.7" y="370.3" width="29.9" height="4.9" fill="#000" stroke="#000" stroke-width="1"/>
<rect x="906.4" y="370.3" width="14.4" height="4.9" fill="#8a8a8a" stroke="#000" stroke-width="1"/>
<rect x="925" y="370.3" width="17.6" height="4.9" fill="#000" stroke="#000" stroke-width="1"/>
<rect x="963.9" y="370.3" width="11.2" height="4.9" fill="#cecece" stroke="#000" stroke-width="1"/>
<rect x="984.7" y="370.3" width="34.6" height="4.9" fill="#cecece" stroke="#000" stroke-width="1"/>
<path fill="none" d="M1122.4 361H1676.6" stroke="#e8edf5" stroke-width="8.8" stroke-dasharray="2 175.8 1 36.7 1.5 63.9 1.5 7.9 1.2 18.1 1 13.9 2 40.5 1 4.3 1 89.9 1.5 13.1 1 2.8 1 5 1.5 13 1 44.2 1 4.7 1.2 9999"/>
<path fill="none" d="M1153.1 361H1658.3" stroke="#d8e1ee" stroke-width="8.8" stroke-dasharray="1.2 3.6 1.2 2.9 1.2 26 1.2 8.2 1.2 20 1.2 13.5 1.2 4.5 1.2 11.7 1 3.5 1.2 9.8 1 4.8 2 78.4 2 0.1 1.5 48.6 2 50.9 1 21.6 2 2.6 2 9.4 1.2 54.2 1.2 81.6 1 19.4 1.2 9999"/>
<path fill="none" d="M1149.6 361H1681.8" stroke="#c4d2e6" stroke-width="8.8" stroke-dasharray="1 17 1.2 25 1.2 12.9 1 39.4 1.2 56.5 2 0.9 1.2 33.6 1.2 18.3 1.2 3.8 1.2 47.8 1.5 19.1 1 4.5 2 114.6 2 18.3 1 15.9 1 15.9 1 6.3 1 7.7 1.5 0.7 1.5 16.3 1.5 14.4 2 12.9 1 9999"/>
<path fill="none" d="M1145.7 361H1663.7" stroke="#a9bddb" stroke-width="8.8" stroke-dasharray="1.5 16.9 1.2 60.1 2 3.1 1 11.3 1 19.4 1.2 84.5 2 8.1 1.5 10.1 1 244.7 1 24.7 2 10.3 1.5 6.4 1.5 9999"/>
<path fill="none" d="M1140.3 361H1590.3" stroke="#8aa4cc" stroke-width="8.8" stroke-dasharray="1 62.6 1.5 249.5 1 133.2 1.2 9999"/>
<path fill="none" d="M1212.5 361H1646.1" stroke="#5f80b8" stroke-width="8.8" stroke-dasharray="1.2 1.6 1 86.4 1.5 8.3 1.5 85 2 50.9 1.5 139.1 1.2 51.2 1.2 9999"/>
<rect x="1324.4" y="356.6" width="2.2" height="8.8" fill="#4a74bd"/>
<rect x="1326.6" y="356.6" width="7.2" height="8.8" fill="#6cb446"/>
<rect x="1333.8" y="356.6" width="17.2" height="8.8" fill="#ddb139"/>
<rect x="1351" y="356.6" width="5.4" height="8.8" fill="#6cb446"/>
<rect x="1494" y="356.6" width="5.8" height="8.8" fill="#4a74bd"/>
<rect x="1122.1" y="370.3" width="565.5" height="4.9" rx="0.8" fill="#fff" stroke="#000" stroke-width="1.4"/>
<rect x="1134.5" y="370.3" width="35.3" height="4.9" fill="#cecece" stroke="#000" stroke-width="1"/>
<rect x="1180.3" y="370.3" width="11.2" height="4.9" fill="#cecece" stroke="#000" stroke-width="1"/>
<rect x="1214.2" y="370.3" width="18.1" height="4.9" fill="#000" stroke="#000" stroke-width="1"/>
<rect x="1236.9" y="370.3" width="14.5" height="4.9" fill="#8a8a8a" stroke="#000" stroke-width="1"/>
<rect x="1274" y="370.3" width="30.3" height="4.9" fill="#000" stroke="#000" stroke-width="1"/>
<rect x="1326.6" y="370.3" width="8.2" height="4.9" fill="#8a8a8a" stroke="#000" stroke-width="1"/>
<rect x="1351" y="370.3" width="21.8" height="4.9" fill="#8a8a8a" stroke="#000" stroke-width="1"/>
<rect x="1382.8" y="370.3" width="4.5" height="4.9" fill="#cecece" stroke="#000" stroke-width="1"/>
<rect x="1400" y="370.3" width="9.1" height="4.9" fill="#cecece" stroke="#000" stroke-width="1"/>
<rect x="1417.2" y="370.3" width="20.8" height="4.9" fill="#cecece" stroke="#000" stroke-width="1"/>
<rect x="1446.3" y="370.3" width="35.7" height="4.9" fill="#000" stroke="#000" stroke-width="1"/>
<rect x="1492.9" y="370.3" width="18.7" height="4.9" fill="#000" stroke="#000" stroke-width="1"/>
<rect x="1529.7" y="370.3" width="21.2" height="4.9" fill="#000" stroke="#000" stroke-width="1"/>
<rect x="1552.7" y="370.3" width="33.2" height="4.9" fill="#000" stroke="#000" stroke-width="1"/>
<rect x="1595" y="370.3" width="6.7" height="4.9" fill="#cecece" stroke="#000" stroke-width="1"/>
<rect x="1631.2" y="370.3" width="10" height="4.9" fill="#cecece" stroke="#000" stroke-width="1"/>
<rect x="1658.4" y="370.3" width="11.8" height="4.9" fill="#cecece" stroke="#000" stroke-width="1"/>
<path fill="none" d="M491.2 391.2H981.3" stroke="#e8edf5" stroke-width="8.8" stroke-dasharray="1 49 1 25.8 1.2 10.3 1 9.3 1 7 1.5 8.8 1.2 60.3 1 17.9 1 28.5 1.5 2.7 1 9.6 2 71.6 1 55.9 1 22.5 1.2 1.6 2 3.3 1.5 24.9 1.5 57.3 1.2 9999"/>
<path fill="none" d="M503.4 391.2H1021.6" stroke="#d8e1ee" stroke-width="8.8" stroke-dasharray="1.2 4.5 1 14.4 1.2 9.7 1 10.4 2 8.5 1 23.7 1 12.1 1 14.2 1.2 39.3 1.5 20.2 1.2 7.9 1.5 18.2 1.5 0.8 2 32.7 1.5 21.8 1 12 1.2 7.5 2 2.4 1.2 8.6 1 2.6 1.2 1.1 1.2 6.1 1.2 31.6 1.2 7.1 1.2 15.1 2 33.7 2 1.4 1 31.6 1.5 5 1 3.9 1.2 16.3 1 2.4 1 3.4 1.2 11.1 2 3.9 1.5 11.7 1.2 10.5 2 9999"/>
<path fill="none" d="M497.9 391.2H1018.6" stroke="#c4d2e6" stroke-width="8.8" stroke-dasharray="1 30.6 1.2 14 1 16.8 1 21.6 1.2 29 1 4.6 2 32.8 1.2 3.8 1 23.1 1 24.6 1.5 0.5 1.2 37.7 1 2.5 1.2 0.8 1 34.6 1 32.6 1.5 4.4 2 23.2 1.5 19 1.5 56.1 1 6.4 1 42.1 1.5 4 1.2 6.3 1.2 12.4 1.2 3.9 1.2 9999"/>
<path fill="none" d="M494.8 391.2H1004.1" stroke="#a9bddb" stroke-width="8.8" stroke-dasharray="1 10 1.2 12 1.2 31.4 2 23.7 1.5 23 1 75.5 1 18.4 1 9.3 1.5 17.5 1 19.8 1.2 20.5 1.5 8.9 1 39.9 1.5 12.7 1 4.7 1.2 30.5 2 23.8 2 0.8 1.2 14.3 1.5 8.8 2 30.9 1 3.9 1.2 8.3 1.2 27.6 1.2 9999"/>
<path fill="none" d="M513.3 391.2H1025.8" stroke="#8aa4cc" stroke-width="8.8" stroke-dasharray="1.5 58 1 31.4 1.5 58.2 1 98.9 1.2 49.4 1 38 1.2 4.9 1.2 30.8 1.2 19.3 1 18 1 24.2 2 65.1 1.5 9999"/>
<path fill="none" d="M574.9 391.2H1028.9" stroke="#5f80b8" stroke-width="8.8" stroke-dasharray="1 117.5 1 49.1 1.2 101.8 1 27 1 5.3 1.2 145.9 1 9999"/>
<rect x="875" y="386.8" width="2.4" height="8.8" fill="#6cb446"/>
<rect x="877.4" y="386.8" width="16.3" height="8.8" fill="#ddb139"/>
<rect x="893.7" y="386.8" width="1.3" height="8.8" fill="#4a74bd"/>
<rect x="993.2" y="386.8" width="6.4" height="8.8" fill="#b3c6e3"/>
<path fill="none" d="M993.5 391.2H997.3" stroke="#3f67ab" stroke-width="8.8" stroke-dasharray="1.2 1.4 1.2 9999"/>
<rect x="490.9" y="400.5" width="540.6" height="4.9" rx="0.8" fill="#fff" stroke="#000" stroke-width="1.4"/>
<rect x="509.1" y="400.5" width="13" height="4.9" fill="#cecece" stroke="#000" stroke-width="1"/>
<rect x="543.8" y="400.5" width="9" height="4.9" fill="#cecece" stroke="#000" stroke-width="1"/>
<rect x="558.4" y="400.5" width="10.1" height="4.9" fill="#cecece" stroke="#000" stroke-width="1"/>
<rect x="576.7" y="400.5" width="1.8" height="4.9" fill="#000" stroke="#000" stroke-width="1"/>
<rect x="591.2" y="400.5" width="19.6" height="4.9" fill="#cecece" stroke="#000" stroke-width="1"/>
<rect x="621.3" y="400.5" width="20.7" height="4.9" fill="#8a8a8a" stroke="#000" stroke-width="1"/>
<rect x="657" y="400.5" width="15" height="4.9" fill="#000" stroke="#000" stroke-width="1"/>
<rect x="681.1" y="400.5" width="26.6" height="4.9" fill="#000" stroke="#000" stroke-width="1"/>
<rect x="726.4" y="400.5" width="15.8" height="4.9" fill="#8a8a8a" stroke="#000" stroke-width="1"/>
<rect x="759.1" y="400.5" width="9.1" height="4.9" fill="#cecece" stroke="#000" stroke-width="1"/>
<rect x="777.5" y="400.5" width="19" height="4.9" fill="#8a8a8a" stroke="#000" stroke-width="1"/>
<rect x="803.8" y="400.5" width="6" height="4.9" fill="#cecece" stroke="#000" stroke-width="1"/>
<rect x="824.7" y="400.5" width="8.2" height="4.9" fill="#cecece" stroke="#000" stroke-width="1"/>
<rect x="844.2" y="400.5" width="36.2" height="4.9" fill="#000" stroke="#000" stroke-width="1"/>
<rect x="909.6" y="400.5" width="10.1" height="4.9" fill="#cecece" stroke="#000" stroke-width="1"/>
<rect x="925" y="400.5" width="22.4" height="4.9" fill="#000" stroke="#000" stroke-width="1"/>
<rect x="951.7" y="400.5" width="21.8" height="4.9" fill="#000" stroke="#000" stroke-width="1"/>
<rect x="982" y="400.5" width="9.1" height="4.9" fill="#8a8a8a" stroke="#000" stroke-width="1"/>
<rect x="1011.1" y="400.5" width="7.1" height="4.9" fill="#cecece" stroke="#000" stroke-width="1"/>
<path fill="none" d="M1122.4 391.2H1616.4" stroke="#e8edf5" stroke-width="8.8" stroke-dasharray="1.5 16.7 2 46.8 1 9.4 2 3.4 1 11.9 2 12.9 1.2 2.1 1 10.1 1.2 7.4 1 55.1 2 7.4 1 4.8 1 40 2 10 1.5 9.4 1.2 1.5 1.5 14.1 1.2 18 2 12.5 1 13.8 1 1.7 1 23.7 1.2 12.1 2 2.1 1.2 6.1 1.5 6.5 1.5 65.8 1.2 9.5 1 4.3 1 2.7 1.5 8.8 1 9999"/>
<path fill="none" d="M1135.8 391.2H1662.9" stroke="#d8e1ee" stroke-width="8.8" stroke-dasharray="1 8.8 1 9.5 1 10.7 1 15.1 1 9.6 1 18.5 1.5 6 1.5 2.3 1.2 16.1 1.5 16.4 1.5 77 1.5 7.1 2 70.5 1.2 3.8 1.2 23.6 1 28.6 1 7.1 1 17.4 1.2 5.6 1 7.6 2 15.8 1.2 3.6 1.2 2.2 1 3.8 1.2 27.1 1 68.8 1 10.1 1.5 9999"/>
<path fill="none" d="M1131.8 391.2H1678.5" stroke="#c4d2e6" stroke-width="8.8" stroke-dasharray="1.2 18.2 2 8.6 1.2 1.4 1 11 1 1.9 1.2 48.9 1 67 1 51.7 1.2 12.5 1.2 34.4 1 34.6 1.2 31.2 1.2 3.9 1.2 68 2 47.6 1.2 1 1.2 15.1 1.2 42.6 1 10.6 1 3.9 1.2 1.1 1.5 3.4 1.2 9999"/>
<path fill="none" d="M1125.9 391.2H1579.2" stroke="#a9bddb" stroke-width="8.8" stroke-dasharray="2 81.5 1.2 90.7 1.2 4.8 2 7.6 1.5 14.9 2 6.5 1.2 18.6 1.2 10 1.5 11.1 1.2 27.9 1 25.1 1 4.5 1 7.8 1.5 18.5 1 58.2 1.2 28.4 1 3.6 1.2 3.5 1.2 3.5 1.5 9999"/>
<path fill="none" d="M1356 391.2H1559.2" stroke="#8aa4cc" stroke-width="8.8" stroke-dasharray="1.5 48.6 1 57 1.2 4.8 1 22.2 1 63.7 1.2 9999"/>
<path fill="none" d="M1172.6 391.2H1659.2" stroke="#5f80b8" stroke-width="8.8" stroke-dasharray="2 63.9 2 12.3 1.2 121.5 1 27.4 1.2 27.8 1.2 223.9 1.2 9999"/>
<rect x="1153.5" y="386.8" width="9.1" height="8.8" fill="#b3c6e3"/>
<path fill="none" d="M1153.8 391.2H1162.5" stroke="#3f67ab" stroke-width="8.8" stroke-dasharray="1.2 0.7 1.2 1.7 1.2 1.4 1.2 9999"/>
<rect x="1263.7" y="386.8" width="2.2" height="8.8" fill="#4a74bd"/>
<rect x="1265.9" y="386.8" width="15.4" height="8.8" fill="#ddb139"/>
<rect x="1281.3" y="386.8" width="1.8" height="8.8" fill="#6cb446"/>
<rect x="1122.1" y="400.5" width="558.7" height="4.9" rx="0.8" fill="#fff" stroke="#000" stroke-width="1.4"/>
<rect x="1135.7" y="400.5" width="7.8" height="4.9" fill="#cecece" stroke="#000" stroke-width="1"/>
<rect x="1164" y="400.5" width="8.5" height="4.9" fill="#8a8a8a" stroke="#000" stroke-width="1"/>
<rect x="1182.5" y="400.5" width="21.7" height="4.9" fill="#000" stroke="#000" stroke-width="1"/>
<rect x="1209.3" y="400.5" width="22.5" height="4.9" fill="#000" stroke="#000" stroke-width="1"/>
<rect x="1237.8" y="400.5" width="10.9" height="4.9" fill="#cecece" stroke="#000" stroke-width="1"/>
<rect x="1267.7" y="400.5" width="10" height="4.9" fill="#e0362c" stroke="#000" stroke-width="1"/>
<rect x="1278.2" y="400.5" width="37.5" height="4.9" fill="#000" stroke="#000" stroke-width="1"/>
<rect x="1327.1" y="400.5" width="8.5" height="4.9" fill="#cecece" stroke="#000" stroke-width="1"/>
<rect x="1352" y="400.5" width="4.5" height="4.9" fill="#cecece" stroke="#000" stroke-width="1"/>
<rect x="1365.2" y="400.5" width="19.4" height="4.9" fill="#8a8a8a" stroke="#000" stroke-width="1"/>
<rect x="1394.2" y="400.5" width="14.9" height="4.9" fill="#cecece" stroke="#000" stroke-width="1"/>
<rect x="1420.3" y="400.5" width="16.9" height="4.9" fill="#8a8a8a" stroke="#000" stroke-width="1"/>
<rect x="1457.2" y="400.5" width="27.2" height="4.9" fill="#000" stroke="#000" stroke-width="1"/>
<rect x="1494" y="400.5" width="14.9" height="4.9" fill="#000" stroke="#000" stroke-width="1"/>
<rect x="1525.2" y="400.5" width="20.8" height="4.9" fill="#8a8a8a" stroke="#000" stroke-width="1"/>
<rect x="1556.9" y="400.5" width="19.9" height="4.9" fill="#cecece" stroke="#000" stroke-width="1"/>
<rect x="1589.5" y="400.5" width="1.3" height="4.9" fill="#cecece" stroke="#000" stroke-width="1"/>
<rect x="1600.4" y="400.5" width="9.6" height="4.9" fill="#cecece" stroke="#000" stroke-width="1"/>
<rect x="1616.2" y="400.5" width="9.6" height="4.9" fill="#cecece" stroke="#000" stroke-width="1"/>
<rect x="1648.8" y="400.5" width="12.3" height="4.9" fill="#cecece" stroke="#000" stroke-width="1"/>
<path fill="none" d="M620.4 421.5H985.8" stroke="#e8edf5" stroke-width="8.8" stroke-dasharray="1.2 56.3 1.2 33.2 1 3.4 2 24.6 1 41.1 1 5 1.2 32.2 1.5 66.4 2 2.7 1.5 61.4 1 23 1.5 9999"/>
<path fill="none" d="M589.7 421.5H998.1" stroke="#d8e1ee" stroke-width="8.8" stroke-dasharray="1.2 4.5 1.5 3.2 1.2 10.1 2 0.5 1 43 1 8.6 1.2 13.7 1.5 18.7 1.5 5.4 1 14.8 1 2.1 1.2 3.8 1.2 28.9 1.2 13.1 2 40.1 2 63.5 2 50.4 1 5.5 2 8.5 1 7.6 1.5 16 1 8.3 1.5 4.4 2 9999"/>
<path fill="none" d="M605.2 421.5H947.9" stroke="#c4d2e6" stroke-width="8.8" stroke-dasharray="1 11.2 1 23.2 1.5 7.6 1 2.9 1.2 13.8 2 1.9 1 47.6 1.2 25.5 1 22 2 62.6 1.5 33.6 1.2 15.7 1.2 56.8 1.5 9999"/>
<path fill="none" d="M607.3 421.5H941.8" stroke="#a9bddb" stroke-width="8.8" stroke-dasharray="1.2 54.1 1.2 33.2 1.5 40.3 1.2 12.2 1.2 4.1 2 6.5 1.2 49.9 1.2 13.7 1.2 40.7 1.5 7 1 19.7 1.2 36 1.5 9999"/>
<path fill="none" d="M646.4 421.5H967.1" stroke="#8aa4cc" stroke-width="8.8" stroke-dasharray="1 57.7 1.5 122.8 2 119 2 13.5 1.2 9999"/>
<path fill="none" d="M774.2 421.5H880.6" stroke="#5f80b8" stroke-width="8.8" stroke-dasharray="1.2 5.3 1.2 97.5 1.2 9999"/>
<rect x="972.4" y="417.1" width="3.7" height="8.8" fill="#4a74bd"/>
<rect x="976.2" y="417.1" width="2.1" height="8.8" fill="#6cb446"/>
<rect x="978.3" y="417.1" width="11.5" height="8.8" fill="#ddb139"/>
<rect x="989.8" y="417.1" width="18.9" height="8.8" fill="#6cb446"/>
<rect x="1008.7" y="417.1" width="1.6" height="8.8" fill="#ddb139"/>
<rect x="1010.3" y="417.1" width="3.2" height="8.8" fill="#6cb446"/>
<rect x="1013.5" y="417.1" width="1.6" height="8.8" fill="#ddb139"/>
<rect x="1015.1" y="417.1" width="10.7" height="8.8" fill="#6cb446"/>
<rect x="1025.7" y="417.1" width="4.3" height="8.8" fill="#ddb139"/>
<rect x="1030" y="417.1" width="1.8" height="8.8" fill="#6cb446"/>
<rect x="589.4" y="430.8" width="442.1" height="4.9" rx="0.8" fill="#fff" stroke="#000" stroke-width="1.4"/>
<rect x="608.1" y="430.8" width="13.6" height="4.9" fill="#000" stroke="#000" stroke-width="1"/>
<rect x="629.8" y="430.8" width="13.2" height="4.9" fill="#000" stroke="#000" stroke-width="1"/>
<rect x="653" y="430.8" width="4" height="4.9" fill="#cecece" stroke="#000" stroke-width="1"/>
<rect x="669.7" y="430.8" width="21.2" height="4.9" fill="#000" stroke="#000" stroke-width="1"/>
<rect x="699.1" y="430.8" width="35.9" height="4.9" fill="#000" stroke="#000" stroke-width="1"/>
<rect x="742.2" y="430.8" width="6" height="4.9" fill="#cecece" stroke="#000" stroke-width="1"/>
<rect x="757.2" y="430.8" width="19.8" height="4.9" fill="#000" stroke="#000" stroke-width="1"/>
<rect x="789.3" y="430.8" width="12.1" height="4.9" fill="#8a8a8a" stroke="#000" stroke-width="1"/>
<rect x="812.9" y="430.8" width="18.5" height="4.9" fill="#000" stroke="#000" stroke-width="1"/>
<rect x="849.5" y="430.8" width="13.6" height="4.9" fill="#cecece" stroke="#000" stroke-width="1"/>
<rect x="893" y="430.8" width="17.3" height="4.9" fill="#8a8a8a" stroke="#000" stroke-width="1"/>
<rect x="918.1" y="430.8" width="5.9" height="4.9" fill="#cecece" stroke="#000" stroke-width="1"/>
<rect x="938.9" y="430.8" width="3.2" height="4.9" fill="#cecece" stroke="#000" stroke-width="1"/>
<rect x="952.7" y="430.8" width="7.5" height="4.9" fill="#cecece" stroke="#000" stroke-width="1"/>
<path fill="none" d="M1127.7 421.5H1556.9" stroke="#e8edf5" stroke-width="8.8" stroke-dasharray="1.2 1.7 1.2 1.5 1 22.7 1.2 6.4 2 37.7 1 58.1 1 26.2 1 18.2 2 9.5 1.2 11.4 1.2 5.4 1 21.8 1 47.8 1.2 101.1 2 30.2 2 0.9 1.5 4.4 1.5 9999"/>
<path fill="none" d="M1122.4 421.5H1595.6" stroke="#d8e1ee" stroke-width="8.8" stroke-dasharray="2 11.5 1 14.3 1.5 28.3 1.2 1.8 1.5 10.3 1 14.8 1 12.9 2 32.2 1.5 22.4 1.5 12.4 1.2 29.4 1.5 16.4 1.2 2.3 1.2 4.1 1.2 11 1 3.4 1.2 28.4 1.5 17.6 1.2 9.2 2 7.2 1 25.6 1 5.6 1.5 30.2 1 4 1 7 1.5 10.7 1 7.8 1 21.6 1 2.1 1 10.7 1 4.1 1 7.6 1.2 3.5 1.2 9999"/>
<path fill="none" d="M1142.5 421.5H1568.9" stroke="#c4d2e6" stroke-width="8.8" stroke-dasharray="1.2 2 1.2 22.1 1.5 0.6 1 29.7 2 17.9 2 45 1.2 4.2 1.5 26.4 1 14.6 1.2 6.7 1 11.8 1.5 55 1 8.9 1.2 28.7 1.2 87.7 1.5 2.7 1 30.1 1 7.1 2 9999"/>
<path fill="none" d="M1140 421.5H1585.6" stroke="#a9bddb" stroke-width="8.8" stroke-dasharray="1 65.5 1.2 37.9 1.2 4.7 1.5 26.2 2 11.5 1.5 66.3 2 53 2 53.3 1.5 98.1 1 13.2 1 9999"/>
<path fill="none" d="M1189.1 421.5H1433.6" stroke="#8aa4cc" stroke-width="8.8" stroke-dasharray="2 64.1 2 29.7 1.5 121.6 2 13.5 1 6.1 1 9999"/>
<path fill="none" d="M1162.4 421.5H1545.6" stroke="#5f80b8" stroke-width="8.8" stroke-dasharray="2 10.7 1.2 17 1.2 22.9 1 11.4 1.2 75.1 2 7.4 1.5 41.2 1.2 38.7 1.2 133.8 1 10.3 1.2 9999"/>
<rect x="1121.8" y="417.1" width="2.7" height="8.8" fill="#6cb446"/>
<rect x="1124.5" y="417.1" width="8.2" height="8.8" fill="#ddb139"/>
<rect x="1132.7" y="417.1" width="5.4" height="8.8" fill="#6cb446"/>
<rect x="1138.1" y="417.1" width="24.1" height="8.8" fill="#ddb139"/>
<rect x="1162.2" y="417.1" width="4" height="8.8" fill="#6cb446"/>
<rect x="1166.2" y="417.1" width="2.7" height="8.8" fill="#ddb139"/>
<rect x="1168.9" y="417.1" width="13.6" height="8.8" fill="#6cb446"/>
<rect x="1182.5" y="417.1" width="11.8" height="8.8" fill="#ddb139"/>
<rect x="1194.3" y="417.1" width="2.7" height="8.8" fill="#6cb446"/>
<rect x="1197" y="417.1" width="3.6" height="8.8" fill="#4a74bd"/>
<rect x="1122.1" y="430.8" width="473.7" height="4.9" rx="0.8" fill="#fff" stroke="#000" stroke-width="1.4"/>
<rect x="1137.5" y="430.8" width="24.7" height="4.9" fill="#4a74bd" stroke="#000" stroke-width="1"/>
<rect x="1163.5" y="430.8" width="24.5" height="4.9" fill="#cecece" stroke="#000" stroke-width="1"/>
<rect x="1188.8" y="430.8" width="4.5" height="4.9" fill="#e0362c" stroke="#000" stroke-width="1"/>
<rect x="1212.9" y="430.8" width="8" height="4.9" fill="#cecece" stroke="#000" stroke-width="1"/>
<rect x="1232.9" y="430.8" width="2.2" height="4.9" fill="#cecece" stroke="#000" stroke-width="1"/>
<rect x="1251" y="430.8" width="5.8" height="4.9" fill="#cecece" stroke="#000" stroke-width="1"/>
<rect x="1264" y="430.8" width="17.8" height="4.9" fill="#8a8a8a" stroke="#000" stroke-width="1"/>
<rect x="1313.9" y="430.8" width="13.2" height="4.9" fill="#cecece" stroke="#000" stroke-width="1"/>
<rect x="1346.5" y="430.8" width="18.1" height="4.9" fill="#000" stroke="#000" stroke-width="1"/>
<rect x="1376.8" y="430.8" width="13.2" height="4.9" fill="#8a8a8a" stroke="#000" stroke-width="1"/>
<rect x="1402.7" y="430.8" width="19.9" height="4.9" fill="#000" stroke="#000" stroke-width="1"/>
<rect x="1431.7" y="430.8" width="6.3" height="4.9" fill="#cecece" stroke="#000" stroke-width="1"/>
<rect x="1445.9" y="430.8" width="36.9" height="4.9" fill="#000" stroke="#000" stroke-width="1"/>
<rect x="1491.2" y="430.8" width="21.9" height="4.9" fill="#000" stroke="#000" stroke-width="1"/>
<rect x="1526.4" y="430.8" width="3.9" height="4.9" fill="#cecece" stroke="#000" stroke-width="1"/>
<rect x="1540.7" y="430.8" width="13.7" height="4.9" fill="#000" stroke="#000" stroke-width="1"/>
<rect x="1563" y="430.8" width="14" height="4.9" fill="#000" stroke="#000" stroke-width="1"/>
<path fill="none" d="M606.7 451.8H1000.3" stroke="#e8edf5" stroke-width="8.8" stroke-dasharray="2 21.7 1 20.6 1.2 9.3 1.5 4.1 1 2.2 2 38.9 1 26.2 1 3.2 1.2 16.9 1.2 7.2 1 48.3 1 3.5 1.5 4.9 1.2 22.1 2 24.7 1.2 32.7 2 2.8 1.5 78.6 1.2 9999"/>
<path fill="none" d="M612.2 451.8H1030.5" stroke="#d8e1ee" stroke-width="8.8" stroke-dasharray="1 11.5 1.2 23 1.2 7 1.2 61.3 1.2 2.8 1 4.9 1.2 4.3 1.2 14.4 1 49.7 2 3.8 1.2 13.1 2 12.8 1 37.4 2 51.3 1 32.9 2 64.7 2 9999"/>
<path fill="none" d="M637.9 451.8H995" stroke="#c4d2e6" stroke-width="8.8" stroke-dasharray="1 3.9 1 72.6 1 54.9 1 37.3 1.5 2 1.5 32.2 1.5 98.7 1.5 8 2 12.2 2 10.9 1.2 3.2 2 2.8 1.2 9999"/>
<path fill="none" d="M610.1 451.8H980.8" stroke="#a9bddb" stroke-width="8.8" stroke-dasharray="2 7.7 1.2 126.7 1.2 16 1.2 60.5 1 14.5 1 18.6 1.5 69.3 1.2 3.3 1.2 4.4 1 23.6 1 8.3 1.2 1.1 2 9999"/>
<path fill="none" d="M632.7 451.8H953.3" stroke="#8aa4cc" stroke-width="8.8" stroke-dasharray="1.2 41.6 1.2 98.2 1.2 82.2 2 5.4 1 55.7 2 27.4 1.5 9999"/>
<path fill="none" d="M603.5 451.8H872" stroke="#5f80b8" stroke-width="8.8" stroke-dasharray="1 12.6 1 21.9 1.2 4.3 2 108.3 1.2 114 1 9999"/>
<rect x="952.2" y="447.4" width="1.6" height="8.8" fill="#4a74bd"/>
<rect x="953.8" y="447.4" width="9.6" height="8.8" fill="#6cb446"/>
<rect x="963.4" y="447.4" width="10.1" height="8.8" fill="#ddb139"/>
<rect x="973.5" y="447.4" width="25.6" height="8.8" fill="#6cb446"/>
<rect x="999.1" y="447.4" width="2.7" height="8.8" fill="#ddb139"/>
<rect x="1001.8" y="447.4" width="10.1" height="8.8" fill="#6cb446"/>
<rect x="1011.9" y="447.4" width="5.9" height="8.8" fill="#ddb139"/>
<rect x="1017.7" y="447.4" width="4.3" height="8.8" fill="#6cb446"/>
<rect x="1022" y="447.4" width="8" height="8.8" fill="#ddb139"/>
<rect x="1030" y="447.4" width="1.8" height="8.8" fill="#6cb446"/>
<rect x="603.2" y="461.1" width="428.3" height="4.9" rx="0.8" fill="#fff" stroke="#000" stroke-width="1.4"/>
<rect x="613.2" y="461.1" width="3.1" height="4.9" fill="#000" stroke="#000" stroke-width="1"/>
<rect x="625" y="461.1" width="19.4" height="4.9" fill="#cecece" stroke="#000" stroke-width="1"/>
<rect x="651.6" y="461.1" width="10.9" height="4.9" fill="#cecece" stroke="#000" stroke-width="1"/>
<rect x="670.6" y="461.1" width="20.8" height="4.9" fill="#000" stroke="#000" stroke-width="1"/>
<rect x="696" y="461.1" width="18.1" height="4.9" fill="#000" stroke="#000" stroke-width="1"/>
<rect x="736.8" y="461.1" width="13.2" height="4.9" fill="#cecece" stroke="#000" stroke-width="1"/>
<rect x="760.7" y="461.1" width="11.4" height="4.9" fill="#cecece" stroke="#000" stroke-width="1"/>
<rect x="783.9" y="461.1" width="15.8" height="4.9" fill="#8a8a8a" stroke="#000" stroke-width="1"/>
<rect x="811.1" y="461.1" width="4.5" height="4.9" fill="#cecece" stroke="#000" stroke-width="1"/>
<rect x="828.7" y="461.1" width="15.6" height="4.9" fill="#000" stroke="#000" stroke-width="1"/>
<rect x="859.1" y="461.1" width="22.6" height="4.9" fill="#000" stroke="#000" stroke-width="1"/>
<rect x="886.3" y="461.1" width="1.8" height="4.9" fill="#cecece" stroke="#000" stroke-width="1"/>
<rect x="899.4" y="461.1" width="36.2" height="4.9" fill="#000" stroke="#000" stroke-width="1"/>
<rect x="963.9" y="461.1" width="9.6" height="4.9" fill="#e0362c" stroke="#000" stroke-width="1"/>
<path fill="none" d="M1122.4 451.8H1552.5" stroke="#e8edf5" stroke-width="8.8" stroke-dasharray="2 25 2 30.8 1.5 1.2 1.5 1.1 1.5 9.1 1.5 6.2 1.5 17.8 1 5 1.5 92.8 1.2 46 1.5 8.2 1.2 4.1 1 45.2 1 35.3 1.2 3.3 1 17.1 1 19.8 1.2 36.8 1 9999"/>
<path fill="none" d="M1136.6 451.8H1543.7" stroke="#d8e1ee" stroke-width="8.8" stroke-dasharray="1 22.6 1 7.5 1.2 24.6 2 11.6 1 10 1.5 13.5 1 26.9 1 30.7 1.2 19.9 1.5 4.7 2 7.3 1 9 1 99.7 1.2 12.5 1.5 8.2 1.2 1.8 1 9.2 1.2 18 2 1.3 1 33.7 1.2 6.5 1.2 9999"/>
<path fill="none" d="M1132.4 451.8H1541.3" stroke="#c4d2e6" stroke-width="8.8" stroke-dasharray="1.2 21.1 1.5 60.1 1 22.1 1.2 59.1 1 2.2 1.5 4.8 1.5 32.7 1 34 2 30.5 1 106.6 1 9.5 1.2 9.1 2 9999"/>
<path fill="none" d="M1173.7 451.8H1572" stroke="#a9bddb" stroke-width="8.8" stroke-dasharray="1.5 1.4 1 12.3 1 21.3 1 38.6 1 3.6 1.2 61.2 1.5 140.2 1.2 21.2 1 1.1 1 1.7 1.5 67.9 1.5 3.6 1.2 3.3 1.2 2.1 2 9999"/>
<path fill="none" d="M1127.2 451.8H1491.1" stroke="#8aa4cc" stroke-width="8.8" stroke-dasharray="1.2 35.9 2 34.3 2 41.4 1 1.3 1.2 1 1 39.3 2 15.5 1.2 136.3 1.2 44.9 1.2 9999"/>
<path fill="none" d="M1171.4 451.8H1573.1" stroke="#5f80b8" stroke-width="8.8" stroke-dasharray="1 162 1.5 95.5 1.2 6.2 1 10 1.2 54.3 1 1.6 1.5 14.1 1.2 23.7 1 22.7 1 9999"/>
<rect x="1121.8" y="447.4" width="2.7" height="8.8" fill="#6cb446"/>
<rect x="1124.5" y="447.4" width="8.2" height="8.8" fill="#ddb139"/>
<rect x="1132.7" y="447.4" width="2.7" height="8.8" fill="#6cb446"/>
<rect x="1135.4" y="447.4" width="22.7" height="8.8" fill="#ddb139"/>
<rect x="1158" y="447.4" width="4.5" height="8.8" fill="#6cb446"/>
<rect x="1162.6" y="447.4" width="3.6" height="8.8" fill="#ddb139"/>
<rect x="1166.2" y="447.4" width="23.6" height="8.8" fill="#6cb446"/>
<rect x="1189.7" y="447.4" width="9.1" height="8.8" fill="#ddb139"/>
<rect x="1198.8" y="447.4" width="13.6" height="8.8" fill="#6cb446"/>
<rect x="1212.4" y="447.4" width="1.8" height="8.8" fill="#4a74bd"/>
<rect x="1572.2" y="447.4" width="4.3" height="8.8" fill="#4a74bd"/>
<rect x="1122.1" y="461.1" width="454.2" height="4.9" rx="0.8" fill="#fff" stroke="#000" stroke-width="1.4"/>
<rect x="1230.5" y="461.1" width="37.2" height="4.9" fill="#000" stroke="#000" stroke-width="1"/>
<rect x="1275.8" y="461.1" width="5.4" height="4.9" fill="#cecece" stroke="#000" stroke-width="1"/>
<rect x="1286.7" y="461.1" width="23.6" height="4.9" fill="#000" stroke="#000" stroke-width="1"/>
<rect x="1325.3" y="461.1" width="16.3" height="4.9" fill="#000" stroke="#000" stroke-width="1"/>
<rect x="1355" y="461.1" width="5.1" height="4.9" fill="#cecece" stroke="#000" stroke-width="1"/>
<rect x="1371.9" y="461.1" width="15.4" height="4.9" fill="#8a8a8a" stroke="#000" stroke-width="1"/>
<rect x="1400" y="461.1" width="11.8" height="4.9" fill="#cecece" stroke="#000" stroke-width="1"/>
<rect x="1423.2" y="461.1" width="13" height="4.9" fill="#cecece" stroke="#000" stroke-width="1"/>
<rect x="1459.9" y="461.1" width="18.8" height="4.9" fill="#000" stroke="#000" stroke-width="1"/>
<rect x="1483" y="461.1" width="21.2" height="4.9" fill="#000" stroke="#000" stroke-width="1"/>
<rect x="1513.4" y="461.1" width="10.6" height="4.9" fill="#cecece" stroke="#000" stroke-width="1"/>
<rect x="1532" y="461.1" width="20" height="4.9" fill="#cecece" stroke="#000" stroke-width="1"/>
<rect x="1560.6" y="461.1" width="1.9" height="4.9" fill="#000" stroke="#000" stroke-width="1"/>
<path fill="none" d="M712.7 482.1H982.4" stroke="#e8edf5" stroke-width="8.8" stroke-dasharray="1.5 13.9 1.5 18.5 1.2 17.3 1 31.7 1.2 17.4 1.2 6.5 2 48.4 2 19.8 1 16.4 2 0.7 2 2.6 1 9.5 1 6 1.5 38.9 2 9999"/>
<path fill="none" d="M722.4 482.1H1013.8" stroke="#d8e1ee" stroke-width="8.8" stroke-dasharray="1 16.2 1.2 10.6 1 20.4 1 16.6 1.2 2.8 1.2 15.4 1.2 11.2 1.2 6.1 1 8.9 1.2 36.6 1 7.2 2 2 1 8.3 1 6.6 1 19.1 1.2 1.5 1.5 11 2 19 1 48 1 9999"/>
<path fill="none" d="M642.3 482.1H1017.3" stroke="#c4d2e6" stroke-width="8.8" stroke-dasharray="1.5 63.3 1 10.3 1 14.1 2 9.1 1.2 30.7 2 0.8 1.2 32.7 2 20.4 1.2 46.9 1.5 17.7 1 9.1 1.5 20.9 1 14.4 1 24.6 2 12.8 1 13.5 1.2 9.2 1.2 9999"/>
<path fill="none" d="M702.6 482.1H986.8" stroke="#a9bddb" stroke-width="8.8" stroke-dasharray="1.2 32.8 1.2 18.8 2 3.9 1 6 1 33.5 1.2 3.5 1.2 23.1 1.2 60.5 1 29.1 1 30 1.5 28.3 1.2 9999"/>
<path fill="none" d="M784.6 482.1H962.4" stroke="#8aa4cc" stroke-width="8.8" stroke-dasharray="1 124.1 1 50.5 1.2 9999"/>
<path fill="none" d="M846.1 482.1H1011.4" stroke="#5f80b8" stroke-width="8.8" stroke-dasharray="1.2 99.6 1 62 1.5 9999"/>
<rect x="922.4" y="477.7" width="4.3" height="8.8" fill="#4a74bd"/>
<rect x="929.8" y="477.7" width="3.2" height="8.8" fill="#4a74bd"/>
<rect x="938.3" y="477.7" width="2.7" height="8.8" fill="#4a74bd"/>
<rect x="963.4" y="477.7" width="6.2" height="8.8" fill="#b3c6e3"/>
<path fill="none" d="M963.7 482.1H968" stroke="#3f67ab" stroke-width="8.8" stroke-dasharray="1.2 1.9 1.2 9999"/>
<rect x="969.6" y="477.7" width="10.7" height="8.8" fill="#ddb139"/>
<rect x="980.2" y="477.7" width="3.4" height="8.8" fill="#6cb446"/>
<rect x="983.6" y="477.7" width="18.6" height="8.8" fill="#ddb139"/>
<rect x="1002.3" y="477.7" width="6.4" height="8.8" fill="#6cb446"/>
<rect x="1008.7" y="477.7" width="11.7" height="8.8" fill="#ddb139"/>
<rect x="1020.4" y="477.7" width="3.7" height="8.8" fill="#6cb446"/>
<rect x="1024.1" y="477.7" width="5.3" height="8.8" fill="#ddb139"/>
<rect x="1029.5" y="477.7" width="2.3" height="8.8" fill="#6cb446"/>
<rect x="642" y="491.4" width="389.5" height="4.9" rx="0.8" fill="#fff" stroke="#000" stroke-width="1.4"/>
<rect x="658.3" y="491.4" width="16" height="4.9" fill="#cecece" stroke="#000" stroke-width="1"/>
<rect x="696.9" y="491.4" width="14.1" height="4.9" fill="#cecece" stroke="#000" stroke-width="1"/>
<rect x="725" y="491.4" width="12.7" height="4.9" fill="#cecece" stroke="#000" stroke-width="1"/>
<rect x="745.8" y="491.4" width="4.2" height="4.9" fill="#cecece" stroke="#000" stroke-width="1"/>
<rect x="762.1" y="491.4" width="19.4" height="4.9" fill="#cecece" stroke="#000" stroke-width="1"/>
<rect x="798.4" y="491.4" width="16.7" height="4.9" fill="#cecece" stroke="#000" stroke-width="1"/>
<rect x="816.5" y="491.4" width="24.5" height="4.9" fill="#8a8a8a" stroke="#000" stroke-width="1"/>
<rect x="855.8" y="491.4" width="18.1" height="4.9" fill="#8a8a8a" stroke="#000" stroke-width="1"/>
<rect x="893.6" y="491.4" width="25.6" height="4.9" fill="#8a8a8a" stroke="#000" stroke-width="1"/>
<rect x="943.1" y="491.4" width="8" height="4.9" fill="#cecece" stroke="#000" stroke-width="1"/>
<rect x="969.8" y="491.4" width="4.8" height="4.9" fill="#e0362c" stroke="#000" stroke-width="1"/>
<path fill="none" d="M1172.3 482.1H1506.3" stroke="#e8edf5" stroke-width="8.8" stroke-dasharray="1 43.4 1.5 4.3 1 13 1.2 26 1.5 16.5 1 43.9 1 3.5 1.2 13.4 2 73.7 1 20.3 2 3.1 1.5 51.5 1 3.3 1.2 9999"/>
<path fill="none" d="M1122.4 482.1H1483.4" stroke="#d8e1ee" stroke-width="8.8" stroke-dasharray="2 57.5 1 25.3 1.5 16.7 1 28.8 1 2.2 1 10.6 1.2 0.8 1 1.8 1.2 61.7 1 53.2 1.2 3.3 1 18.1 1 9.5 1 16.8 2 35.4 1.2 9999"/>
<path fill="none" d="M1128 482.1H1541.9" stroke="#c4d2e6" stroke-width="8.8" stroke-dasharray="1.2 39.2 1.5 6.1 1.2 0.9 1 8.5 1.2 5.1 1 16.1 2 16.5 1 14.1 1 108.4 2 24.6 2 5.8 1 5.9 1 3.8 1 37.1 2 10.6 1 34.6 1 7.7 1.5 44.1 1.2 9999"/>
<path fill="none" d="M1203.9 482.1H1479.6" stroke="#a9bddb" stroke-width="8.8" stroke-dasharray="1 28.5 1 7.7 1.2 3.6 1 18.1 1.2 18 1.5 35.1 1.2 18.9 1 7.6 1 81.4 1.2 44.3 1.2 9999"/>
<path fill="none" d="M1251.9 482.1H1456.8" stroke="#8aa4cc" stroke-width="8.8" stroke-dasharray="1.2 63.8 2 14.9 1.5 120 1.5 9999"/>
<path fill="none" d="M1191.5 482.1H1491.9" stroke="#5f80b8" stroke-width="8.8" stroke-dasharray="1.2 6.7 2 182.1 1.5 55.7 2 47.2 2 9999"/>
<rect x="1121.8" y="477.7" width="1.8" height="8.8" fill="#6cb446"/>
<rect x="1123.6" y="477.7" width="3.6" height="8.8" fill="#ddb139"/>
<rect x="1127.2" y="477.7" width="4.5" height="8.8" fill="#6cb446"/>
<rect x="1131.8" y="477.7" width="13.6" height="8.8" fill="#ddb139"/>
<rect x="1145.3" y="477.7" width="6.7" height="8.8" fill="#6cb446"/>
<rect x="1152" y="477.7" width="29.5" height="8.8" fill="#ddb139"/>
<rect x="1181.6" y="477.7" width="2.7" height="8.8" fill="#6cb446"/>
<rect x="1184.3" y="477.7" width="2.7" height="8.8" fill="#ddb139"/>
<rect x="1187" y="477.7" width="3.6" height="8.8" fill="#6cb446"/>
<rect x="1190.7" y="477.7" width="10.9" height="8.8" fill="#ddb139"/>
<rect x="1201.5" y="477.7" width="10" height="8.8" fill="#b3c6e3"/>
<path fill="none" d="M1201.8 482.1H1210.2" stroke="#3f67ab" stroke-width="8.8" stroke-dasharray="1.2 0.9 1.2 1.2 1.2 1.5 1.2 9999"/>
<rect x="1213.3" y="477.7" width="1.8" height="8.8" fill="#4a74bd"/>
<rect x="1217.8" y="477.7" width="1.8" height="8.8" fill="#4a74bd"/>
<rect x="1235" y="477.7" width="2.7" height="8.8" fill="#4a74bd"/>
<rect x="1243.2" y="477.7" width="3.6" height="8.8" fill="#4a74bd"/>
<rect x="1252.3" y="477.7" width="1.8" height="8.8" fill="#4a74bd"/>
<rect x="1122.1" y="491.4" width="421.9" height="4.9" rx="0.8" fill="#fff" stroke="#000" stroke-width="1.4"/>
<rect x="1195.2" y="491.4" width="5.4" height="4.9" fill="#e0362c" stroke="#000" stroke-width="1"/>
<rect x="1224.2" y="491.4" width="8.7" height="4.9" fill="#cecece" stroke="#000" stroke-width="1"/>
<rect x="1243.2" y="491.4" width="2.7" height="4.9" fill="#cecece" stroke="#000" stroke-width="1"/>
<rect x="1257.7" y="491.4" width="25.4" height="4.9" fill="#8a8a8a" stroke="#000" stroke-width="1"/>
<rect x="1295.8" y="491.4" width="1.8" height="4.9" fill="#cecece" stroke="#000" stroke-width="1"/>
<rect x="1303.9" y="491.4" width="19" height="4.9" fill="#8a8a8a" stroke="#000" stroke-width="1"/>
<rect x="1338.4" y="491.4" width="24.5" height="4.9" fill="#8a8a8a" stroke="#000" stroke-width="1"/>
<rect x="1364.6" y="491.4" width="17.2" height="4.9" fill="#cecece" stroke="#000" stroke-width="1"/>
<rect x="1399.1" y="491.4" width="20.9" height="4.9" fill="#cecece" stroke="#000" stroke-width="1"/>
<rect x="1431.7" y="491.4" width="4.5" height="4.9" fill="#cecece" stroke="#000" stroke-width="1"/>
<rect x="1444.9" y="491.4" width="13" height="4.9" fill="#cecece" stroke="#000" stroke-width="1"/>
<rect x="1471.9" y="491.4" width="14.9" height="4.9" fill="#cecece" stroke="#000" stroke-width="1"/>
<rect x="1511" y="491.4" width="15.9" height="4.9" fill="#cecece" stroke="#000" stroke-width="1"/>
<path fill="none" d="M657.5 512.4H1005.7" stroke="#e8edf5" stroke-width="8.8" stroke-dasharray="1.2 15.2 2 46.7 1.2 16.9 1.2 3.2 1.5 13.9 1.2 24.4 1.2 6.8 1 17.1 1.2 46.2 1.2 1.7 1 67.7 2 15 1.2 2.4 1 12.5 1 37.9 1.5 9999"/>
<path fill="none" d="M663.2 512.4H1009.2" stroke="#d8e1ee" stroke-width="8.8" stroke-dasharray="1.5 3.8 1.2 45.8 1.5 2.2 1 5.7 1.2 28.4 1.2 7.6 2 3.4 1.2 9.8 1.5 21 1.2 37.5 1.2 2.8 1.2 24.9 1.2 7 2 2.3 1.5 6.3 1.5 10.5 1 4.2 1 8.9 1 16.2 1 16.3 1.2 28 2 22.9 1.2 9999"/>
<path fill="none" d="M729.7 512.4H1012.7" stroke="#c4d2e6" stroke-width="8.8" stroke-dasharray="2 43.9 1.2 20.8 1.2 7.3 1.2 2.6 1 14.9 1.5 10.1 1.2 15.2 1 2.4 1.2 9.8 1 5.7 1 12.8 1 35.5 1.5 12.7 2 2.7 1 12.7 1 3.6 1 26.4 1 20.9 1 9999"/>
<path fill="none" d="M705.8 512.4H981.9" stroke="#a9bddb" stroke-width="8.8" stroke-dasharray="1 4.7 1 136.6 1 49.9 1.2 13.5 1 56.8 1.5 0.8 2 3.9 1.2 9999"/>
<path fill="none" d="M734.7 512.4H1000.6" stroke="#8aa4cc" stroke-width="8.8" stroke-dasharray="2 35.2 1.2 15.9 2 25.4 2 13.1 1.2 65.1 1.2 99.6 2 9999"/>
<path fill="none" d="M653 512.4H995.1" stroke="#5f80b8" stroke-width="8.8" stroke-dasharray="1 96.6 1.5 69 2 146.1 1.5 14.8 2 6.6 1 9999"/>
<rect x="829.2" y="508" width="44.4" height="8.8" fill="#ddb139"/>
<rect x="873.6" y="508" width="3.6" height="8.8" fill="#6cb446"/>
<rect x="877.2" y="508" width="13.7" height="8.8" fill="#ddb139"/>
<rect x="890.9" y="508" width="6.9" height="8.8" fill="#6cb446"/>
<rect x="897.8" y="508" width="1.6" height="8.8" fill="#4a74bd"/>
<rect x="909" y="508" width="5.9" height="8.8" fill="#4a74bd"/>
<rect x="937.3" y="508" width="6.9" height="8.8" fill="#b3c6e3"/>
<path fill="none" d="M937.6 512.4H944.4" stroke="#3f67ab" stroke-width="8.8" stroke-dasharray="1.2 1.7 1.2 1.5 1.2 9999"/>
<rect x="953.8" y="508" width="3.2" height="8.8" fill="#4a74bd"/>
<rect x="962.3" y="508" width="2.7" height="8.8" fill="#4a74bd"/>
<rect x="968.7" y="508" width="3.2" height="8.8" fill="#4a74bd"/>
<rect x="652.7" y="521.7" width="378.8" height="4.9" rx="0.8" fill="#fff" stroke="#000" stroke-width="1.4"/>
<rect x="658.8" y="521.7" width="5.4" height="4.9" fill="#cecece" stroke="#000" stroke-width="1"/>
<rect x="677.9" y="521.7" width="8.7" height="4.9" fill="#cecece" stroke="#000" stroke-width="1"/>
<rect x="697.8" y="521.7" width="19.4" height="4.9" fill="#8a8a8a" stroke="#000" stroke-width="1"/>
<rect x="724.1" y="521.7" width="6.7" height="4.9" fill="#cecece" stroke="#000" stroke-width="1"/>
<rect x="748.2" y="521.7" width="38.4" height="4.9" fill="#000" stroke="#000" stroke-width="1"/>
<rect x="791.7" y="521.7" width="13" height="4.9" fill="#cecece" stroke="#000" stroke-width="1"/>
<rect x="831" y="521.7" width="48.9" height="4.9" fill="#cecece" stroke="#000" stroke-width="1"/>
<rect x="881.2" y="521.7" width="9.1" height="4.9" fill="#e0362c" stroke="#000" stroke-width="1"/>
<rect x="914.4" y="521.7" width="16" height="4.9" fill="#cecece" stroke="#000" stroke-width="1"/>
<rect x="945.3" y="521.7" width="16.5" height="4.9" fill="#cecece" stroke="#000" stroke-width="1"/>
<rect x="971.9" y="521.7" width="7.5" height="4.9" fill="#cecece" stroke="#000" stroke-width="1"/>
<rect x="989" y="521.7" width="10.1" height="4.9" fill="#cecece" stroke="#000" stroke-width="1"/>
<path fill="none" d="M1130.2 512.4H1499.1" stroke="#e8edf5" stroke-width="8.8" stroke-dasharray="1 38 1.2 13 1 44 1.2 150.1 2 30.9 2 8.1 1.2 9.8 2 8.9 1.2 1 1.2 3.9 2 28.3 2 13.9 1 9999"/>
<path fill="none" d="M1132.3 512.4H1490.5" stroke="#d8e1ee" stroke-width="8.8" stroke-dasharray="2 0.5 1.5 3.8 1.2 3.3 1.2 4.6 1.5 8.8 1 2.1 1.2 13.4 1.2 7.1 1 1.5 1.2 3.6 1.5 17.8 1.2 1.1 2 3.2 1.2 11.1 1 12.8 1.2 10.2 1.2 2.5 1.2 27.6 1.5 15.9 1 6.5 1.2 9.3 1.2 4.5 1.2 3.9 1 69.1 1.2 19 1.2 9.6 1 15.8 1.2 29.7 2 1.5 1.2 9999"/>
<path fill="none" d="M1127.7 512.4H1495.9" stroke="#c4d2e6" stroke-width="8.8" stroke-dasharray="2 26 1.2 18.6 1.2 33.2 1 19.8 1 8.3 2 2.7 1.2 6.7 1 11.2 1.2 27.6 1 2 1 4 1.2 3.2 1.5 39.8 1.5 67.7 1.2 22.6 1.2 18.3 2 3.2 1 1.9 1 3.1 1.2 21.7 1 9999"/>
<path fill="none" d="M1198.9 512.4H1480.6" stroke="#a9bddb" stroke-width="8.8" stroke-dasharray="1.2 142.9 2 75.6 1 8.1 1.2 48.5 1.2 9999"/>
<path fill="none" d="M1148.4 512.4H1479.2" stroke="#8aa4cc" stroke-width="8.8" stroke-dasharray="1.5 162.2 1 26.7 1 136.4 2 9999"/>
<path fill="none" d="M1122.4 512.4H1377" stroke="#5f80b8" stroke-width="8.8" stroke-dasharray="1 48.3 1 31.2 1.2 20.5 1.2 9.2 2 82.4 1.2 54.4 1 9999"/>
<rect x="1182.5" y="508" width="4.5" height="8.8" fill="#4a74bd"/>
<rect x="1189.7" y="508" width="3.6" height="8.8" fill="#4a74bd"/>
<rect x="1197.9" y="508" width="3.6" height="8.8" fill="#4a74bd"/>
<rect x="1211.5" y="508" width="2.7" height="8.8" fill="#4a74bd"/>
<rect x="1216" y="508" width="3.6" height="8.8" fill="#4a74bd"/>
<rect x="1242.3" y="508" width="10.9" height="8.8" fill="#b3c6e3"/>
<path fill="none" d="M1242.6 512.4H1251.2" stroke="#3f67ab" stroke-width="8.8" stroke-dasharray="1.2 0.9 1.2 1.7 1.2 1.2 1.2 9999"/>
<rect x="1258.6" y="508" width="14.5" height="8.8" fill="#6cb446"/>
<rect x="1273.1" y="508" width="8.2" height="8.8" fill="#ddb139"/>
<rect x="1281.3" y="508" width="6.3" height="8.8" fill="#6cb446"/>
<rect x="1287.6" y="508" width="29.9" height="8.8" fill="#ddb139"/>
<rect x="1122.1" y="521.7" width="377.9" height="4.9" rx="0.8" fill="#fff" stroke="#000" stroke-width="1.4"/>
<rect x="1155" y="521.7" width="9.4" height="4.9" fill="#cecece" stroke="#000" stroke-width="1"/>
<rect x="1174.9" y="521.7" width="7.6" height="4.9" fill="#cecece" stroke="#000" stroke-width="1"/>
<rect x="1193" y="521.7" width="17" height="4.9" fill="#cecece" stroke="#000" stroke-width="1"/>
<rect x="1226" y="521.7" width="16.7" height="4.9" fill="#cecece" stroke="#000" stroke-width="1"/>
<rect x="1281.8" y="521.7" width="33.9" height="4.9" fill="#cecece" stroke="#000" stroke-width="1"/>
<rect x="1342.9" y="521.7" width="13.2" height="4.9" fill="#cecece" stroke="#000" stroke-width="1"/>
<rect x="1361.9" y="521.7" width="39.5" height="4.9" fill="#000" stroke="#000" stroke-width="1"/>
<rect x="1418.1" y="521.7" width="8.2" height="4.9" fill="#cecece" stroke="#000" stroke-width="1"/>
<rect x="1432.6" y="521.7" width="20.5" height="4.9" fill="#8a8a8a" stroke="#000" stroke-width="1"/>
<rect x="1464.7" y="521.7" width="9.6" height="4.9" fill="#cecece" stroke="#000" stroke-width="1"/>
<rect x="1486.9" y="521.7" width="6.3" height="4.9" fill="#cecece" stroke="#000" stroke-width="1"/>
<path fill="none" d="M691.3 542.7H987.3" stroke="#e8edf5" stroke-width="8.8" stroke-dasharray="2 18 1.2 30.8 1.5 17.8 1 9.1 2 5.5 1.2 72.5 1.2 18.8 1 58.1 1.2 3 1.2 12.4 1 6.7 2 25.8 1 9999"/>
<path fill="none" d="M688.4 542.7H979.2" stroke="#d8e1ee" stroke-width="8.8" stroke-dasharray="1 11 2 15.5 1 7.8 1 5.2 1.5 1.1 1 48.3 2 2.6 1.2 6.9 1 8.7 1 32.2 1.2 4.1 1.2 11.9 1 8.1 1 19.5 1.2 6.8 1.2 4.2 1 19.1 2 1.5 1.2 45.5 1.2 4.7 1.2 9999"/>
<path fill="none" d="M722.4 542.7H1005.2" stroke="#c4d2e6" stroke-width="8.8" stroke-dasharray="1.5 13.8 1.2 18.6 1 6.6 1.2 11.3 1.2 22.9 2 46.9 1 9.5 1.2 15.4 1.2 3.1 1.5 2 1 31.9 1.2 21.1 1.2 40 1 7.1 1.5 6.4 1.5 4.6 1.2 9999"/>
<path fill="none" d="M695.3 542.7H1030.9" stroke="#a9bddb" stroke-width="8.8" stroke-dasharray="1.5 52.1 1 42.9 1.2 10.6 1 59.9 2 25.4 1.2 12.3 1.5 7.1 2 38.6 1.5 4.3 1 2.5 1.2 2.9 1.2 5.1 1 17.7 1 5.9 1.5 16.4 1 10.1 1 9999"/>
<path fill="none" d="M705.8 542.7H1025.4" stroke="#8aa4cc" stroke-width="8.8" stroke-dasharray="1.2 6.3 2 14.9 2 176.3 2 113.7 1.2 9999"/>
<path fill="none" d="M753 542.7H1014.5" stroke="#5f80b8" stroke-width="8.8" stroke-dasharray="1 13.6 1 142.1 2 16.9 1 14.7 1 62.6 1.2 2.9 1.5 9999"/>
<rect x="869.1" y="538.3" width="4.8" height="8.8" fill="#4a74bd"/>
<rect x="896.8" y="538.3" width="6.9" height="8.8" fill="#b3c6e3"/>
<path fill="none" d="M897.1 542.7H903.7" stroke="#3f67ab" stroke-width="8.8" stroke-dasharray="1.2 1.9 1.2 1.1 1.2 9999"/>
<rect x="914.4" y="538.3" width="3.2" height="8.8" fill="#6cb446"/>
<rect x="917.5" y="538.3" width="19.2" height="8.8" fill="#ddb139"/>
<rect x="936.7" y="538.3" width="4.3" height="8.8" fill="#6cb446"/>
<rect x="941" y="538.3" width="2.1" height="8.8" fill="#ddb139"/>
<rect x="943.1" y="538.3" width="4.3" height="8.8" fill="#6cb446"/>
<rect x="947.4" y="538.3" width="4.3" height="8.8" fill="#ddb139"/>
<rect x="951.7" y="538.3" width="6.4" height="8.8" fill="#6cb446"/>
<rect x="958" y="538.3" width="5.3" height="8.8" fill="#ddb139"/>
<rect x="963.4" y="538.3" width="5.3" height="8.8" fill="#6cb446"/>
<rect x="688.1" y="552" width="343.4" height="4.9" rx="0.8" fill="#fff" stroke="#000" stroke-width="1.4"/>
<rect x="712.3" y="552" width="2.2" height="4.9" fill="#000" stroke="#000" stroke-width="1"/>
<rect x="730.1" y="552" width="14.9" height="4.9" fill="#8a8a8a" stroke="#000" stroke-width="1"/>
<rect x="757.6" y="552" width="5.1" height="4.9" fill="#cecece" stroke="#000" stroke-width="1"/>
<rect x="769.4" y="552" width="11.8" height="4.9" fill="#8a8a8a" stroke="#000" stroke-width="1"/>
<rect x="782.6" y="552" width="1.3" height="4.9" fill="#000" stroke="#000" stroke-width="1"/>
<rect x="784.8" y="552" width="29" height="4.9" fill="#8a8a8a" stroke="#000" stroke-width="1"/>
<rect x="825.6" y="552" width="9.6" height="4.9" fill="#cecece" stroke="#000" stroke-width="1"/>
<rect x="853.7" y="552" width="10" height="4.9" fill="#cecece" stroke="#000" stroke-width="1"/>
<rect x="864.9" y="552" width="26" height="4.9" fill="#cecece" stroke="#000" stroke-width="1"/>
<rect x="967.6" y="552" width="20.2" height="4.9" fill="#8a8a8a" stroke="#000" stroke-width="1"/>
<rect x="1006.9" y="552" width="11.4" height="4.9" fill="#cecece" stroke="#000" stroke-width="1"/>
<path fill="none" d="M1125.9 542.7H1466.6" stroke="#e8edf5" stroke-width="8.8" stroke-dasharray="1 11.6 1.2 17 1.2 3.5 1 7.8 1.2 5.6 1.5 6.1 1.2 16.4 1.2 3.7 1 43.2 1.2 17.8 1.2 19.9 1.5 10.7 1.2 22.7 1 6.3 2 9.2 1.5 10.5 2 23.9 1 13.4 2 6.1 1 27 1.2 29.5 1.5 9999"/>
<path fill="none" d="M1130.7 542.7H1455.5" stroke="#d8e1ee" stroke-width="8.8" stroke-dasharray="1 1.6 1.2 14.3 1.2 24.5 1 4 1.2 9.5 1.2 25.5 2 48.2 1.2 10.1 1 6.9 1 27.1 1.2 4.6 1 17.6 1.2 23.9 1.2 3.3 1.2 6.3 1.2 1.4 1 16.7 1 3.3 1 50 1.2 1.8 1 9999"/>
<path fill="none" d="M1196 542.7H1462.3" stroke="#c4d2e6" stroke-width="8.8" stroke-dasharray="2 13.9 1.2 13.2 1 26.4 2 39.2 1 2.8 1.2 10.6 1 11.5 1 6.6 1.2 16.8 1.2 3.3 1.2 37.7 1.5 53.9 1 12.7 1.2 9999"/>
<path fill="none" d="M1122.4 542.7H1472.5" stroke="#a9bddb" stroke-width="8.8" stroke-dasharray="1.2 4.7 2 10.8 1 12.2 1 9.1 1 55.3 1.5 35.6 1.2 22.2 1.2 88.8 1.2 96.6 1.5 1 1 9999"/>
<path fill="none" d="M1144.2 542.7H1458.5" stroke="#8aa4cc" stroke-width="8.8" stroke-dasharray="1 115.7 1 13.4 1.2 29.8 1.2 53.7 1.5 94.6 1.2 9999"/>
<path fill="none" d="M1199.6 542.7H1444" stroke="#5f80b8" stroke-width="8.8" stroke-dasharray="1.2 62.3 1 53.9 1.2 23.5 2 42.4 2 47.9 1.2 3.8 2 9999"/>
<rect x="1186.1" y="538.3" width="2.7" height="8.8" fill="#6cb446"/>
<rect x="1188.8" y="538.3" width="10" height="8.8" fill="#ddb139"/>
<rect x="1198.8" y="538.3" width="2.7" height="8.8" fill="#6cb446"/>
<rect x="1201.5" y="538.3" width="3.6" height="8.8" fill="#ddb139"/>
<rect x="1205.2" y="538.3" width="3.6" height="8.8" fill="#6cb446"/>
<rect x="1208.8" y="538.3" width="2.7" height="8.8" fill="#ddb139"/>
<rect x="1211.5" y="538.3" width="9.1" height="8.8" fill="#6cb446"/>
<rect x="1220.6" y="538.3" width="19" height="8.8" fill="#ddb139"/>
<rect x="1122.1" y="552" width="350.3" height="4.9" rx="0.8" fill="#fff" stroke="#000" stroke-width="1.4"/>
<rect x="1136.3" y="552" width="11.8" height="4.9" fill="#cecece" stroke="#000" stroke-width="1"/>
<rect x="1167.1" y="552" width="20.8" height="4.9" fill="#8a8a8a" stroke="#000" stroke-width="1"/>
<rect x="1229.6" y="552" width="5.1" height="4.9" fill="#e0362c" stroke="#000" stroke-width="1"/>
<rect x="1264" y="552" width="25.4" height="4.9" fill="#cecece" stroke="#000" stroke-width="1"/>
<rect x="1292.1" y="552" width="9.6" height="4.9" fill="#cecece" stroke="#000" stroke-width="1"/>
<rect x="1320.2" y="552" width="9.4" height="4.9" fill="#cecece" stroke="#000" stroke-width="1"/>
<rect x="1342.9" y="552" width="29.9" height="4.9" fill="#8a8a8a" stroke="#000" stroke-width="1"/>
<rect x="1376.4" y="552" width="10.9" height="4.9" fill="#8a8a8a" stroke="#000" stroke-width="1"/>
<rect x="1394.5" y="552" width="5.4" height="4.9" fill="#cecece" stroke="#000" stroke-width="1"/>
<rect x="1413.6" y="552" width="15" height="4.9" fill="#8a8a8a" stroke="#000" stroke-width="1"/>
<rect x="1445.4" y="552" width="1.9" height="4.9" fill="#000" stroke="#000" stroke-width="1"/>
<path fill="none" d="M730.5 573H973.4" stroke="#e8edf5" stroke-width="8.8" stroke-dasharray="1 29.4 1.2 1 1.2 21.5 1.2 14.2 1.2 1.2 1.2 7.2 1.5 9.4 1.2 16.3 2 24.8 1.2 12.3 1.2 9.3 1.2 15.4 1 23.2 1.5 6.9 1 12 1.2 17.6 1.2 9999"/>
<path fill="none" d="M705.1 573H1002.9" stroke="#d8e1ee" stroke-width="8.8" stroke-dasharray="2 8.6 2 10.6 1 39.5 2 7.1 1.2 10.3 1.2 2.1 1 59.7 1 31 2 11.1 1 49.5 1 6.6 1.5 43.3 1.5 9999"/>
<path fill="none" d="M828.6 573H1015" stroke="#c4d2e6" stroke-width="8.8" stroke-dasharray="2 3.4 1.2 14.7 1 13.8 1 3.9 1.5 22.9 1 10.7 1.5 13.3 1 4.7 2 14.9 1 25.9 1.2 34.1 1.2 7.3 1.2 9999"/>
<path fill="none" d="M758.7 573H1021.4" stroke="#a9bddb" stroke-width="8.8" stroke-dasharray="1 14.2 1.5 8.1 1.2 74.6 1.2 17.1 1 23.4 1.5 7 1 26.4 1.2 25.9 1.2 41.5 1.2 2.9 1.2 4 2 1.2 1.2 9999"/>
<path fill="none" d="M711.1 573H961.5" stroke="#8aa4cc" stroke-width="8.8" stroke-dasharray="1.2 6.7 1.2 88.3 1.2 6.4 1.2 1.1 1.2 25.4 1 69.1 1 44.4 1 9999"/>
<path fill="none" d="M724.9 573H1024.8" stroke="#5f80b8" stroke-width="8.8" stroke-dasharray="1.5 69.4 1.5 40.8 1.5 32.7 1.5 22.6 1.2 100.1 1.5 24.4 1.2 9999"/>
<rect x="945.2" y="568.6" width="24.5" height="8.8" fill="#ddb139"/>
<rect x="969.8" y="568.6" width="4.8" height="8.8" fill="#6cb446"/>
<rect x="704.8" y="582.3" width="326.7" height="4.9" rx="0.8" fill="#fff" stroke="#000" stroke-width="1.4"/>
<rect x="724.9" y="582.3" width="16.4" height="4.9" fill="#cecece" stroke="#000" stroke-width="1"/>
<rect x="749.3" y="582.3" width="21.3" height="4.9" fill="#000" stroke="#000" stroke-width="1"/>
<rect x="782.4" y="582.3" width="9.3" height="4.9" fill="#cecece" stroke="#000" stroke-width="1"/>
<rect x="802.9" y="582.3" width="20.9" height="4.9" fill="#8a8a8a" stroke="#000" stroke-width="1"/>
<rect x="844.9" y="582.3" width="24.2" height="4.9" fill="#8a8a8a" stroke="#000" stroke-width="1"/>
<rect x="887.8" y="582.3" width="30.8" height="4.9" fill="#000" stroke="#000" stroke-width="1"/>
<rect x="946.5" y="582.3" width="9" height="4.9" fill="#e0362c" stroke="#000" stroke-width="1"/>
<rect x="956.8" y="582.3" width="10.3" height="4.9" fill="#e0362c" stroke="#000" stroke-width="1"/>
<rect x="988.1" y="582.3" width="8.8" height="4.9" fill="#cecece" stroke="#000" stroke-width="1"/>
<rect x="1003.4" y="582.3" width="15.9" height="4.9" fill="#cecece" stroke="#000" stroke-width="1"/>
<path fill="none" d="M1141.7 573H1430.8" stroke="#e8edf5" stroke-width="8.8" stroke-dasharray="1.5 21.6 1 1.9 1.2 53.2 1.5 4.4 1.2 43 1 4.3 1.2 5.8 2 52.8 1 17.4 1.5 27.4 1 6.6 1.2 7 1 8.1 1.2 16.9 1.2 9999"/>
<path fill="none" d="M1125.6 573H1434.5" stroke="#d8e1ee" stroke-width="8.8" stroke-dasharray="1 22.6 1 4.4 1 4.2 1 12 2 5.9 1.5 2.8 2 11.2 2 6.8 1 72.3 1 39.8 1.2 24.8 1.2 18.8 1.5 1.4 1.2 1.2 1 8.7 1.2 13.3 1.2 26.9 1.5 6.3 2 9999"/>
<path fill="none" d="M1122.4 573H1408.6" stroke="#c4d2e6" stroke-width="8.8" stroke-dasharray="1 5.2 2 16 1 29.2 1.2 15.1 1 17.6 1 21.2 1.5 3.2 1.2 84.6 1.5 3.3 1.5 1.1 1.2 1.4 1.2 5.9 1.2 9.7 2 6.2 1 16.6 2 10.6 1 15.3 1.5 9999"/>
<path fill="none" d="M1201.3 573H1421.6" stroke="#a9bddb" stroke-width="8.8" stroke-dasharray="1 62 1 99.7 1.2 54.4 1 9999"/>
<path fill="none" d="M1133.5 573H1417.8" stroke="#8aa4cc" stroke-width="8.8" stroke-dasharray="1 4.5 2 46.8 1.2 101.5 2 124.3 1 9999"/>
<path fill="none" d="M1217.2 573H1268.7" stroke="#5f80b8" stroke-width="8.8" stroke-dasharray="1.5 49 1 9999"/>
<rect x="1180.7" y="568.6" width="5.4" height="8.8" fill="#6cb446"/>
<rect x="1186.1" y="568.6" width="18.1" height="8.8" fill="#ddb139"/>
<rect x="1122.1" y="582.3" width="329.8" height="4.9" rx="0.8" fill="#fff" stroke="#000" stroke-width="1.4"/>
<rect x="1134.5" y="582.3" width="16.8" height="4.9" fill="#cecece" stroke="#000" stroke-width="1"/>
<rect x="1157.5" y="582.3" width="9.6" height="4.9" fill="#cecece" stroke="#000" stroke-width="1"/>
<rect x="1231.1" y="582.3" width="32.6" height="4.9" fill="#000" stroke="#000" stroke-width="1"/>
<rect x="1282.5" y="582.3" width="25.4" height="4.9" fill="#8a8a8a" stroke="#000" stroke-width="1"/>
<rect x="1329.7" y="582.3" width="21.4" height="4.9" fill="#8a8a8a" stroke="#000" stroke-width="1"/>
<rect x="1362.8" y="582.3" width="10.3" height="4.9" fill="#cecece" stroke="#000" stroke-width="1"/>
<rect x="1384" y="582.3" width="22.8" height="4.9" fill="#000" stroke="#000" stroke-width="1"/>
<rect x="1414.5" y="582.3" width="17.8" height="4.9" fill="#cecece" stroke="#000" stroke-width="1"/>
<path fill="none" d="M793.6 603.2H1018.8" stroke="#e8edf5" stroke-width="8.8" stroke-dasharray="1 45.7 1.2 38.8 1.2 13.2 2 92.4 1.2 6.3 2 1.4 1.2 11.5 1 3.9 1.2 9999"/>
<path fill="none" d="M811.5 603.2H995.4" stroke="#d8e1ee" stroke-width="8.8" stroke-dasharray="1 11.3 1 3.2 1.2 1.2 1.2 4.5 1.2 8.7 1 30.7 1.5 20.7 1.2 13.4 1.2 18.7 1.2 7 1.5 5.5 1.2 21.8 1.2 6.4 2 1.5 1 9.7 1 9999"/>
<path fill="none" d="M799.2 603.2H968.2" stroke="#c4d2e6" stroke-width="8.8" stroke-dasharray="1.2 8.8 1.2 10.9 1 20.6 1 6.7 2 30.7 1 23.9 1.5 29.5 1 26.5 1.5 9999"/>
<path fill="none" d="M802.7 603.2H1005.6" stroke="#a9bddb" stroke-width="8.8" stroke-dasharray="1.5 12.5 2 86.1 1.5 6.1 1.2 50.4 1 26.1 1 12.3 1.2 9999"/>
<path fill="none" d="M806.4 603.2H979.2" stroke="#8aa4cc" stroke-width="8.8" stroke-dasharray="1.2 138.2 1 30.4 2 9999"/>
<path fill="none" d="M888.8 603.2H1011.4" stroke="#5f80b8" stroke-width="8.8" stroke-dasharray="1 120.1 1.5 9999"/>
<rect x="845.8" y="598.8" width="2.8" height="8.8" fill="#4a74bd"/>
<rect x="909.8" y="598.8" width="24.6" height="8.8" fill="#ddb139"/>
<rect x="934.4" y="598.8" width="3.7" height="8.8" fill="#6cb446"/>
<rect x="938.1" y="598.8" width="2.8" height="8.8" fill="#ddb139"/>
<rect x="940.9" y="598.8" width="6.5" height="8.8" fill="#6cb446"/>
<rect x="947.5" y="598.8" width="3.7" height="8.8" fill="#ddb139"/>
<rect x="783.7" y="612.5" width="247.8" height="4.9" rx="0.8" fill="#fff" stroke="#000" stroke-width="1.4"/>
<rect x="783.8" y="612.5" width="10.3" height="4.9" fill="#cecece" stroke="#000" stroke-width="1"/>
<rect x="806" y="612.5" width="8" height="4.9" fill="#cecece" stroke="#000" stroke-width="1"/>
<rect x="829.5" y="612.5" width="10.3" height="4.9" fill="#cecece" stroke="#000" stroke-width="1"/>
<rect x="848.2" y="612.5" width="18.1" height="4.9" fill="#cecece" stroke="#000" stroke-width="1"/>
<rect x="868.2" y="612.5" width="11.2" height="4.9" fill="#cecece" stroke="#000" stroke-width="1"/>
<rect x="894.3" y="612.5" width="17.4" height="4.9" fill="#cecece" stroke="#000" stroke-width="1"/>
<rect x="929.4" y="612.5" width="20.5" height="4.9" fill="#cecece" stroke="#000" stroke-width="1"/>
<rect x="966.1" y="612.5" width="8.4" height="4.9" fill="#cecece" stroke="#000" stroke-width="1"/>
<rect x="980.7" y="612.5" width="22.8" height="4.9" fill="#cecece" stroke="#000" stroke-width="1"/>
<path fill="none" d="M1122.4 603.2H1352.3" stroke="#e8edf5" stroke-width="8.8" stroke-dasharray="1 10 1.2 8 1 14 1.2 8.2 2 14.1 1.2 4.9 1.5 4.3 1.5 7.4 2 6.8 2 8.3 1.5 17.7 1.2 26.2 1.2 2.4 1.2 2 1 3.4 1 14.9 1 14.5 1.2 16.8 1 8.2 1 10.7 1.2 9999"/>
<path fill="none" d="M1137.9 603.2H1365.2" stroke="#d8e1ee" stroke-width="8.8" stroke-dasharray="2 34.4 1 3.3 1.5 20.8 1.5 29.3 1 4.4 1 26 1 23.5 1.5 8.8 1.5 4.3 2 0.7 1.2 13.4 1.2 20.5 2 9.8 1.2 4 1 2 1.5 9999"/>
<path fill="none" d="M1171.5 603.2H1378.9" stroke="#c4d2e6" stroke-width="8.8" stroke-dasharray="1.2 8.2 1.2 26.7 1.5 7.7 2 8.7 1.5 20.1 2 3.3 1 1.7 1 67.8 1 41.2 1.5 6.6 1.5 9999"/>
<path fill="none" d="M1261.2 603.2H1373.9" stroke="#a9bddb" stroke-width="8.8" stroke-dasharray="2 21.7 1 6.6 1 40.1 1 12.3 2 24 1 9999"/>
<path fill="none" d="M1147.8 603.2H1303.4" stroke="#8aa4cc" stroke-width="8.8" stroke-dasharray="1.2 3.6 1.2 9.7 1 20.9 1 115.8 1.2 9999"/>
<path fill="none" d="M1128.1 603.2H1317.8" stroke="#5f80b8" stroke-width="8.8" stroke-dasharray="1.2 117 1.5 69 1 9999"/>
<rect x="1205.2" y="598.8" width="2.7" height="8.8" fill="#ddb139"/>
<rect x="1207.9" y="598.8" width="13.6" height="8.8" fill="#6cb446"/>
<rect x="1211.5" y="598.8" width="1.8" height="8.8" fill="#ddb139"/>
<rect x="1216.9" y="598.8" width="1.8" height="8.8" fill="#ddb139"/>
<rect x="1221.5" y="598.8" width="26.3" height="8.8" fill="#ddb139"/>
<rect x="1310.8" y="598.8" width="3.1" height="8.8" fill="#4a74bd"/>
<rect x="1122.1" y="612.5" width="255.8" height="4.9" rx="0.8" fill="#fff" stroke="#000" stroke-width="1.4"/>
<rect x="1151.3" y="612.5" width="23.6" height="4.9" fill="#cecece" stroke="#000" stroke-width="1"/>
<rect x="1180.7" y="612.5" width="9.1" height="4.9" fill="#cecece" stroke="#000" stroke-width="1"/>
<rect x="1207" y="612.5" width="23" height="4.9" fill="#cecece" stroke="#000" stroke-width="1"/>
<rect x="1230.5" y="612.5" width="14" height="4.9" fill="#e0362c" stroke="#000" stroke-width="1"/>
<rect x="1245.6" y="612.5" width="18.5" height="4.9" fill="#cecece" stroke="#000" stroke-width="1"/>
<rect x="1278.5" y="612.5" width="10.9" height="4.9" fill="#cecece" stroke="#000" stroke-width="1"/>
<rect x="1292.1" y="612.5" width="18.7" height="4.9" fill="#cecece" stroke="#000" stroke-width="1"/>
<rect x="1319.9" y="612.5" width="10.3" height="4.9" fill="#cecece" stroke="#000" stroke-width="1"/>
<rect x="1347.1" y="612.5" width="7.6" height="4.9" fill="#cecece" stroke="#000" stroke-width="1"/>
<path fill="none" d="M780.3 633.5H1000.8" stroke="#e8edf5" stroke-width="8.8" stroke-dasharray="1.5 17.7 1 4.2 1.5 35.1 2 3.2 1.5 16.9 1 14 1 4.7 1.5 28.7 1 1.6 1.2 80.2 1 9999"/>
<path fill="none" d="M761 633.5H1030.1" stroke="#d8e1ee" stroke-width="8.8" stroke-dasharray="1.2 1.3 1.5 4.2 1.2 7.8 1 11.6 2 0.2 1.2 16 1.2 13.1 1 2.4 1.2 4.7 1.2 25.2 1.2 37.5 1 8.4 1.2 0.8 2 31.9 1 3.3 2 3.6 1 5.7 1.2 21.3 1.2 4.6 1.2 21.1 1 4.7 1 11 1 9999"/>
<path fill="none" d="M775.8 633.5H1025.2" stroke="#c4d2e6" stroke-width="8.8" stroke-dasharray="1.2 10.5 2 24.6 1 21 1 13.4 2 16.9 1 20.8 1 1.6 1 25.7 1.2 35.5 2 6.3 1.2 4.4 1.2 3.8 1.5 16.9 1.5 8.1 1 19.1 1 9999"/>
<path fill="none" d="M773 633.5H1010.2" stroke="#a9bddb" stroke-width="8.8" stroke-dasharray="1.2 11.3 1.2 8.6 2 57.7 1 85.5 1.2 37.1 1 28.4 1 9999"/>
<path fill="none" d="M874.6 633.5H878.2" stroke="#8aa4cc" stroke-width="8.8" stroke-dasharray="1.2 1.4 1 9999"/>
<path fill="none" d="M818.6 633.5H1020.2" stroke="#5f80b8" stroke-width="8.8" stroke-dasharray="1 82.8 1.5 110.6 2 2.7 1 9999"/>
<rect x="894.9" y="629.1" width="6" height="8.8" fill="#ddb139"/>
<rect x="900.8" y="629.1" width="8.4" height="8.8" fill="#6cb446"/>
<rect x="909.2" y="629.1" width="16.8" height="8.8" fill="#ddb139"/>
<rect x="926" y="629.1" width="1.9" height="8.8" fill="#6cb446"/>
<rect x="760.7" y="642.8" width="270.8" height="4.9" rx="0.8" fill="#fff" stroke="#000" stroke-width="1.4"/>
<rect x="779.5" y="642.8" width="6.5" height="4.9" fill="#cecece" stroke="#000" stroke-width="1"/>
<rect x="792.6" y="642.8" width="20.5" height="4.9" fill="#8a8a8a" stroke="#000" stroke-width="1"/>
<rect x="828.1" y="642.8" width="16.4" height="4.9" fill="#cecece" stroke="#000" stroke-width="1"/>
<rect x="846.3" y="642.8" width="16.8" height="4.9" fill="#8a8a8a" stroke="#000" stroke-width="1"/>
<rect x="876.6" y="642.8" width="8.4" height="4.9" fill="#cecece" stroke="#000" stroke-width="1"/>
<rect x="941.9" y="642.8" width="2.8" height="4.9" fill="#cecece" stroke="#000" stroke-width="1"/>
<rect x="959.6" y="642.8" width="23.3" height="4.9" fill="#8a8a8a" stroke="#000" stroke-width="1"/>
<rect x="995" y="642.8" width="15.9" height="4.9" fill="#8a8a8a" stroke="#000" stroke-width="1"/>
<path fill="none" d="M1126.7 633.5H1392.8" stroke="#e8edf5" stroke-width="8.8" stroke-dasharray="2 11.5 1.2 8.1 2 1.6 1.2 107.3 1.2 1.5 1 16.5 1 2.4 1 3.4 2 16.8 1 4.4 1.2 3.6 1 2.6 1.2 66.1 1 1.1 1.2 9999"/>
<path fill="none" d="M1132.6 633.5H1396.4" stroke="#d8e1ee" stroke-width="8.8" stroke-dasharray="1 9 1.5 27.6 1 9.9 1 16.1 1 51.2 1 47.5 1.2 2.4 1.5 34.3 1.5 20 1 17.2 1.2 4.3 1 8.9 1.5 9999"/>
<path fill="none" d="M1136.4 633.5H1367" stroke="#c4d2e6" stroke-width="8.8" stroke-dasharray="1.2 29.1 1.2 28.7 1.2 49.8 1 19.9 1.2 23.2 1 2.9 1 67.2 2 9999"/>
<path fill="none" d="M1177.3 633.5H1357.9" stroke="#a9bddb" stroke-width="8.8" stroke-dasharray="2 12.1 1 80.4 1.2 75.2 2 2 1.5 1.7 1.5 9999"/>
<path fill="none" d="M1122.4 633.5H1345.8" stroke="#8aa4cc" stroke-width="8.8" stroke-dasharray="1 22.3 1.2 110 1 85.9 2 9999"/>
<path fill="none" d="M1186.6 633.5H1277.2" stroke="#5f80b8" stroke-width="8.8" stroke-dasharray="1.2 88.2 1.2 9999"/>
<rect x="1229.6" y="629.1" width="2.2" height="8.8" fill="#6cb446"/>
<rect x="1231.8" y="629.1" width="13.2" height="8.8" fill="#ddb139"/>
<rect x="1245" y="629.1" width="10" height="8.8" fill="#6cb446"/>
<rect x="1255" y="629.1" width="5.1" height="8.8" fill="#ddb139"/>
<rect x="1122.1" y="642.8" width="275.7" height="4.9" rx="0.8" fill="#fff" stroke="#000" stroke-width="1.4"/>
<rect x="1144.1" y="642.8" width="15.8" height="4.9" fill="#8a8a8a" stroke="#000" stroke-width="1"/>
<rect x="1173.1" y="642.8" width="23" height="4.9" fill="#8a8a8a" stroke="#000" stroke-width="1"/>
<rect x="1212.4" y="642.8" width="2.4" height="4.9" fill="#cecece" stroke="#000" stroke-width="1"/>
<rect x="1269.8" y="642.8" width="7.8" height="4.9" fill="#cecece" stroke="#000" stroke-width="1"/>
<rect x="1293" y="642.8" width="16.3" height="4.9" fill="#8a8a8a" stroke="#000" stroke-width="1"/>
<rect x="1310.3" y="642.8" width="18.1" height="4.9" fill="#cecece" stroke="#000" stroke-width="1"/>
<rect x="1343.8" y="642.8" width="20.8" height="4.9" fill="#8a8a8a" stroke="#000" stroke-width="1"/>
<rect x="1371.9" y="642.8" width="6.3" height="4.9" fill="#cecece" stroke="#000" stroke-width="1"/>
<path fill="none" d="M853 663.8H997.9" stroke="#e8edf5" stroke-width="8.8" stroke-dasharray="1 6 1.2 2.5 1 10.8 1.2 11.4 1 5.1 2 3.7 1 1.1 1.5 20.2 2 24.8 1 1.4 1.2 41.8 2 9999"/>
<path fill="none" d="M911 663.8H1030.2" stroke="#d8e1ee" stroke-width="8.8" stroke-dasharray="1.2 17.3 1 24.7 2 34 1.2 1.2 1.2 6.5 1.2 6.3 1.2 2.7 1 15.5 1 9999"/>
<path fill="none" d="M855 663.8H949.5" stroke="#c4d2e6" stroke-width="8.8" stroke-dasharray="1.2 12.1 1 36.1 1.5 12.5 1 13.5 1 12.6 2 9999"/>
<path fill="none" d="M878.8 663.8H1023.3" stroke="#a9bddb" stroke-width="8.8" stroke-dasharray="1 11.2 2 21.5 1.2 22.7 1 67.4 1.5 13.8 1.2 9999"/>
<path fill="none" d="M870.4 663.8H1026.4" stroke="#8aa4cc" stroke-width="8.8" stroke-dasharray="1.5 9 1.2 1.5 1 58.5 1 54.1 1.2 25 2 9999"/>
<path fill="none" d="M857.6 663.8H1019.5" stroke="#5f80b8" stroke-width="8.8" stroke-dasharray="1.5 68.3 1.2 59 1 29.4 1.5 9999"/>
<rect x="983.8" y="659.4" width="5.6" height="8.8" fill="#6cb446"/>
<rect x="989.4" y="659.4" width="6.5" height="8.8" fill="#ddb139"/>
<rect x="996" y="659.4" width="3.7" height="8.8" fill="#6cb446"/>
<rect x="999.7" y="659.4" width="3.7" height="8.8" fill="#ddb139"/>
<rect x="1003.4" y="659.4" width="7.5" height="8.8" fill="#6cb446"/>
<rect x="1010.9" y="659.4" width="10.3" height="8.8" fill="#ddb139"/>
<rect x="1021.2" y="659.4" width="4.7" height="8.8" fill="#6cb446"/>
<rect x="1025.8" y="659.4" width="6" height="8.8" fill="#ddb139"/>
<rect x="852.7" y="673.1" width="178.8" height="4.9" rx="0.8" fill="#fff" stroke="#000" stroke-width="1.4"/>
<rect x="874.7" y="673.1" width="11.2" height="4.9" fill="#cecece" stroke="#000" stroke-width="1"/>
<rect x="894.9" y="673.1" width="6" height="4.9" fill="#cecece" stroke="#000" stroke-width="1"/>
<rect x="919.9" y="673.1" width="17.9" height="4.9" fill="#8a8a8a" stroke="#000" stroke-width="1"/>
<rect x="949.7" y="673.1" width="31" height="4.9" fill="#000" stroke="#000" stroke-width="1"/>
<rect x="989.4" y="673.1" width="4.1" height="4.9" fill="#e0362c" stroke="#000" stroke-width="1"/>
<rect x="995" y="673.1" width="14.9" height="4.9" fill="#cecece" stroke="#000" stroke-width="1"/>
<rect x="1011.3" y="673.1" width="9.9" height="4.9" fill="#4a74bd" stroke="#000" stroke-width="1"/>
<path fill="none" d="M1129.3 663.8H1276.7" stroke="#e8edf5" stroke-width="8.8" stroke-dasharray="1.2 3.7 1 36.6 1 6.8 1.2 21.3 1.5 5.1 1 14.2 2 14.5 1 4.7 1.2 10.2 1.2 17 1 9999"/>
<path fill="none" d="M1127.2 663.8H1307.2" stroke="#d8e1ee" stroke-width="8.8" stroke-dasharray="1 13 1.2 1.2 1.2 2.1 1 12.5 1.2 7 1.2 27.9 1.2 14.7 1 1.9 1 3.5 1 14.4 1.2 16.7 2 11.7 1 11.7 1 9 1.5 13.8 1.2 9999"/>
<path fill="none" d="M1151.5 663.8H1312.4" stroke="#c4d2e6" stroke-width="8.8" stroke-dasharray="1.5 4 1.2 31.7 1 15.4 1 64.5 1.2 14.6 1 5.2 1.2 6.2 1 9.2 1 9999"/>
<path fill="none" d="M1122.4 663.8H1314.9" stroke="#a9bddb" stroke-width="8.8" stroke-dasharray="1 41.1 1 62.4 1 3 1 52.1 1 27.7 1.2 9999"/>
<path fill="none" d="M1185.5 663.8H1264.5" stroke="#8aa4cc" stroke-width="8.8" stroke-dasharray="2 7.9 1.5 66.6 1 9999"/>
<path fill="none" d="M1137 663.8H1297.1" stroke="#5f80b8" stroke-width="8.8" stroke-dasharray="1.5 0.5 1.5 34.8 2 73.6 2 43.2 1 9999"/>
<rect x="1121.8" y="659.4" width="14.5" height="8.8" fill="#ddb139"/>
<rect x="1136.3" y="659.4" width="3.6" height="8.8" fill="#6cb446"/>
<rect x="1139.9" y="659.4" width="15" height="8.8" fill="#ddb139"/>
<rect x="1155" y="659.4" width="9.4" height="8.8" fill="#6cb446"/>
<rect x="1164.4" y="659.4" width="1.8" height="8.8" fill="#ddb139"/>
<rect x="1166.2" y="659.4" width="5.4" height="8.8" fill="#6cb446"/>
<rect x="1171.6" y="659.4" width="1.8" height="8.8" fill="#ddb139"/>
<rect x="1173.4" y="659.4" width="4.5" height="8.8" fill="#6cb446"/>
<rect x="1178" y="659.4" width="1.8" height="8.8" fill="#ddb139"/>
<rect x="1179.8" y="659.4" width="3.6" height="8.8" fill="#6cb446"/>
<rect x="1122.1" y="673.1" width="197.7" height="4.9" rx="0.8" fill="#fff" stroke="#000" stroke-width="1.4"/>
<rect x="1176.2" y="673.1" width="1.8" height="4.9" fill="#e0362c" stroke="#000" stroke-width="1"/>
<rect x="1187" y="673.1" width="31.7" height="4.9" fill="#000" stroke="#000" stroke-width="1"/>
<rect x="1231.8" y="673.1" width="17.8" height="4.9" fill="#8a8a8a" stroke="#000" stroke-width="1"/>
<rect x="1269.1" y="673.1" width="6.7" height="4.9" fill="#cecece" stroke="#000" stroke-width="1"/>
<rect x="1285.4" y="673.1" width="10.3" height="4.9" fill="#cecece" stroke="#000" stroke-width="1"/>
<path fill="none" d="M832.3 694.1H1019.1" stroke="#e8edf5" stroke-width="8.8" stroke-dasharray="1 11.1 2 1.1 1.5 17.2 1 76.5 1.2 17.4 1 12.1 1 41.2 1.5 9999"/>
<path fill="none" d="M841.8 694.1H1015.6" stroke="#d8e1ee" stroke-width="8.8" stroke-dasharray="1 13.8 2 3.4 1.2 84.2 1.5 19 2 1.2 1.5 15 1.2 3.3 2 3.9 2 14.4 1.2 9999"/>
<path fill="none" d="M835.6 694.1H1026" stroke="#c4d2e6" stroke-width="8.8" stroke-dasharray="1.5 14.2 1 18.7 1 2.6 1.5 4 1.2 1.7 1 66.7 1.2 1.3 1 29.2 2 25.6 2 9.7 1.5 0.8 1 9999"/>
<path fill="none" d="M891.5 694.1H1028.7" stroke="#a9bddb" stroke-width="8.8" stroke-dasharray="1.2 111 1.2 3.1 1 18.7 1 9999"/>
<path fill="none" d="M839.1 694.1H888.8" stroke="#8aa4cc" stroke-width="8.8" stroke-dasharray="1.2 47.5 1 9999"/>
<path fill="none" d="M957.8 694.1H980.9" stroke="#5f80b8" stroke-width="8.8" stroke-dasharray="1.2 20.9 1 9999"/>
<rect x="932.5" y="689.7" width="10.3" height="8.8" fill="#b3c6e3"/>
<path fill="none" d="M932.8 694.1H940.9" stroke="#3f67ab" stroke-width="8.8" stroke-dasharray="1.2 1 1.2 0.9 1.2 1.4 1.2 9999"/>
<rect x="942.8" y="689.7" width="4.7" height="8.8" fill="#6cb446"/>
<rect x="947.5" y="689.7" width="3.7" height="8.8" fill="#ddb139"/>
<rect x="951.2" y="689.7" width="3.7" height="8.8" fill="#6cb446"/>
<rect x="954.9" y="689.7" width="5.6" height="8.8" fill="#ddb139"/>
<rect x="960.5" y="689.7" width="4.7" height="8.8" fill="#6cb446"/>
<rect x="965.2" y="689.7" width="4.7" height="8.8" fill="#ddb139"/>
<rect x="969.9" y="689.7" width="5.6" height="8.8" fill="#6cb446"/>
<rect x="975.5" y="689.7" width="11.2" height="8.8" fill="#ddb139"/>
<rect x="986.6" y="689.7" width="16.8" height="8.8" fill="#6cb446"/>
<rect x="1003.4" y="689.7" width="3.7" height="8.8" fill="#ddb139"/>
<rect x="1007.2" y="689.7" width="7.5" height="8.8" fill="#6cb446"/>
<rect x="1014.6" y="689.7" width="3.7" height="8.8" fill="#ddb139"/>
<rect x="1018.4" y="689.7" width="7.5" height="8.8" fill="#6cb446"/>
<rect x="1025.8" y="689.7" width="6" height="8.8" fill="#ddb139"/>
<rect x="832" y="703.4" width="199.5" height="4.9" rx="0.8" fill="#fff" stroke="#000" stroke-width="1.4"/>
<rect x="838.9" y="703.4" width="3.2" height="4.9" fill="#cecece" stroke="#000" stroke-width="1"/>
<rect x="861.3" y="703.4" width="10.6" height="4.9" fill="#cecece" stroke="#000" stroke-width="1"/>
<rect x="888.1" y="703.4" width="19.6" height="4.9" fill="#cecece" stroke="#000" stroke-width="1"/>
<rect x="919.9" y="703.4" width="13.6" height="4.9" fill="#cecece" stroke="#000" stroke-width="1"/>
<rect x="944.7" y="703.4" width="4.7" height="4.9" fill="#cecece" stroke="#000" stroke-width="1"/>
<rect x="976.4" y="703.4" width="9.3" height="4.9" fill="#e0362c" stroke="#000" stroke-width="1"/>
<path fill="none" d="M1145.7 694.1H1326.8" stroke="#e8edf5" stroke-width="8.8" stroke-dasharray="1.5 33 2 34.1 1.2 99.2 1 7.1 2 9999"/>
<path fill="none" d="M1122.4 694.1H1344.3" stroke="#d8e1ee" stroke-width="8.8" stroke-dasharray="2 3.8 2 1.2 2 14.9 1.2 6.5 1 6.4 2 3.3 1.2 7.4 1.5 9.3 1 32.1 1 1.9 1 3.5 1 4.9 2 11.1 2 6.8 1 7.3 1.5 36.7 1.5 9.4 1.2 28.1 1.2 9999"/>
<path fill="none" d="M1124.6 694.1H1341.9" stroke="#c4d2e6" stroke-width="8.8" stroke-dasharray="1.5 9.9 1.5 47.9 2 19 1.2 5.2 1 66.3 1 4.4 1 2.3 2 3.8 1.5 3.4 1.2 4.6 1 3.4 2 8.7 1 14.6 2 2.4 1.5 9999"/>
<path fill="none" d="M1198.5 694.1H1329.9" stroke="#a9bddb" stroke-width="8.8" stroke-dasharray="1.2 4 1.2 34.6 1.2 9.8 1.2 7.1 1 10.6 1.5 1.1 1 54.4 1.5 9999"/>
<path fill="none" d="M1140.3 694.1H1331.8" stroke="#8aa4cc" stroke-width="8.8" stroke-dasharray="2 16.9 2 12.4 1 18.1 1 16.2 1 66.6 1 52.3 1 9999"/>
<path fill="none" d="M1133.7 694.1H1243.8" stroke="#5f80b8" stroke-width="8.8" stroke-dasharray="2 14.9 1 90.2 2 9999"/>
<rect x="1121.8" y="689.7" width="1.8" height="8.8" fill="#6cb446"/>
<rect x="1123.6" y="689.7" width="4.5" height="8.8" fill="#ddb139"/>
<rect x="1128.1" y="689.7" width="5.4" height="8.8" fill="#6cb446"/>
<rect x="1133.6" y="689.7" width="21.8" height="8.8" fill="#ddb139"/>
<rect x="1155.3" y="689.7" width="7.2" height="8.8" fill="#6cb446"/>
<rect x="1162.6" y="689.7" width="3.6" height="8.8" fill="#ddb139"/>
<rect x="1166.2" y="689.7" width="3.6" height="8.8" fill="#6cb446"/>
<rect x="1169.8" y="689.7" width="1.8" height="8.8" fill="#ddb139"/>
<rect x="1171.6" y="689.7" width="13.6" height="8.8" fill="#6cb446"/>
<rect x="1185.2" y="689.7" width="10" height="8.8" fill="#ddb139"/>
<rect x="1195.2" y="689.7" width="9.1" height="8.8" fill="#6cb446"/>
<rect x="1204.2" y="689.7" width="3.6" height="8.8" fill="#ddb139"/>
<rect x="1207.9" y="689.7" width="4.5" height="8.8" fill="#6cb446"/>
<rect x="1212.4" y="689.7" width="4.5" height="8.8" fill="#ddb139"/>
<rect x="1216.9" y="689.7" width="3.6" height="8.8" fill="#6cb446"/>
<rect x="1220.6" y="689.7" width="2.7" height="8.8" fill="#ddb139"/>
<rect x="1223.3" y="689.7" width="6.3" height="8.8" fill="#6cb446"/>
<rect x="1229.6" y="689.7" width="10.9" height="8.8" fill="#b3c6e3"/>
<path fill="none" d="M1229.9 694.1H1238.9" stroke="#3f67ab" stroke-width="8.8" stroke-dasharray="1.2 1.3 1.2 1.1 1.2 1.7 1.2 9999"/>
<rect x="1122.1" y="703.4" width="222.7" height="4.9" rx="0.8" fill="#fff" stroke="#000" stroke-width="1.4"/>
<rect x="1223.8" y="703.4" width="4.4" height="4.9" fill="#cecece" stroke="#000" stroke-width="1"/>
<rect x="1240.1" y="703.4" width="13.9" height="4.9" fill="#cecece" stroke="#000" stroke-width="1"/>
<rect x="1265.9" y="703.4" width="21.4" height="4.9" fill="#cecece" stroke="#000" stroke-width="1"/>
<rect x="1303" y="703.4" width="12.1" height="4.9" fill="#cecece" stroke="#000" stroke-width="1"/>
<rect x="1334.7" y="703.4" width="2.7" height="4.9" fill="#000" stroke="#000" stroke-width="1"/>
<path fill="none" d="M823.2 724.4H988.5" stroke="#e8edf5" stroke-width="8.8" stroke-dasharray="1.2 16.5 2 58.9 1 21 1.2 9.1 1.5 3.7 1 26.8 1.5 8.5 1 8.4 2 9999"/>
<path fill="none" d="M788.5 724.4H964" stroke="#d8e1ee" stroke-width="8.8" stroke-dasharray="1.2 3.7 1.2 8.2 1 11.8 1 2 1 12.4 1.2 1.9 1.2 16.7 1 25.6 1.2 18.3 2 44.4 1.5 4.4 1 9.6 2 9999"/>
<path fill="none" d="M856.1 724.4H991.5" stroke="#c4d2e6" stroke-width="8.8" stroke-dasharray="2 3 2 0.3 1.2 1.8 1.2 2.5 1.2 10.9 1.5 2.7 1.2 2 2 2.1 1 17.4 1 7.5 1 7.9 1 11.6 1 13.7 1.2 1.9 1.5 28.9 1.2 9999"/>
<path fill="none" d="M782.3 724.4H983.4" stroke="#a9bddb" stroke-width="8.8" stroke-dasharray="1.5 2.5 1 13.4 2 7 1.5 26.9 1.2 6.1 1.2 69.5 1.5 64.6 1.2 9999"/>
<path fill="none" d="M779.7 724.4H852" stroke="#8aa4cc" stroke-width="8.8" stroke-dasharray="1 24.6 1 44.2 1.5 9999"/>
<path fill="none" d="M796.5 724.4H974.3" stroke="#5f80b8" stroke-width="8.8" stroke-dasharray="1 30.6 1 45.2 1.2 30.7 1.2 65.4 1.5 9999"/>
<rect x="779.9" y="720" width="139.9" height="8.8" fill="#ddb139"/>
<rect x="919.9" y="720" width="22" height="8.8" fill="#b3c6e3"/>
<path fill="none" d="M920.1 724.4H940.1" stroke="#3f67ab" stroke-width="8.8" stroke-dasharray="1.2 0.8 1.2 1.5 1.2 0.7 1.2 0.9 1.2 1.4 1.2 1.2 1.2 1.3 1.2 1.3 1.2 9999"/>
<rect x="951.2" y="720" width="5.6" height="8.8" fill="#4a74bd"/>
<rect x="980.1" y="720" width="3.7" height="8.8" fill="#ddb139"/>
<rect x="983.8" y="720" width="4.7" height="8.8" fill="#6cb446"/>
<rect x="988.5" y="720" width="1.9" height="8.8" fill="#ddb139"/>
<rect x="990.4" y="720" width="6.5" height="8.8" fill="#6cb446"/>
<rect x="996.9" y="720" width="10.3" height="8.8" fill="#ddb139"/>
<rect x="779.4" y="733.7" width="252.1" height="4.9" rx="0.8" fill="#fff" stroke="#000" stroke-width="1.4"/>
<rect x="930.7" y="733.7" width="16.8" height="4.9" fill="#cecece" stroke="#000" stroke-width="1"/>
<rect x="959.6" y="733.7" width="16.8" height="4.9" fill="#cecece" stroke="#000" stroke-width="1"/>
<rect x="988.5" y="733.7" width="0.9" height="4.9" fill="#000" stroke="#000" stroke-width="1"/>
<rect x="1029.2" y="733.7" width="2.6" height="4.9" fill="#000" stroke="#000" stroke-width="1"/>
<path fill="none" d="M1135.2 724.4H1748.3" stroke="#e8edf5" stroke-width="8.8" stroke-dasharray="1.2 17.6 1 85.8 1.5 8.5 1 4.5 1.5 8.7 1.5 83.8 1.5 12.1 1.5 45.3 1 90.9 1.2 46 1 99.3 1.5 4.4 2 28.3 1 34.5 1.2 4.7 1 1 1.2 2.7 1 11.2 1 9999"/>
<path fill="none" d="M1122.4 724.4H1712.8" stroke="#d8e1ee" stroke-width="8.8" stroke-dasharray="1.2 2.3 1.2 18.1 2 0.9 1.5 39 2 0.5 1.2 6.5 1.2 13.7 1 15.5 2 2.2 1.5 9 1.2 28.9 1 2.1 1 2.6 1.2 24.3 1.2 94.9 1 16.9 1 78.9 1.2 5.9 1.2 2 1.2 6.4 1 102.2 1 13.2 1 1.3 1 5.8 1 18.8 1 16.9 2 11.9 1.2 13.5 1 9999"/>
<path fill="none" d="M1139.7 724.4H1739.6" stroke="#c4d2e6" stroke-width="8.8" stroke-dasharray="1.2 10.7 1.2 43.8 1 21.8 2 3.7 1 33.9 1.2 22.7 1.5 27 1 33.1 1 20.7 2 9 1 1.9 1 139.2 2 0.6 1 13.4 1.2 6.9 2 10.2 1 12.7 1 1 2 40.4 1.5 7 1 14.1 1.5 18 1.5 9.7 1 21.2 2 10.8 1.2 30.2 1.2 9999"/>
<path fill="none" d="M1141.8 724.4H1755" stroke="#a9bddb" stroke-width="8.8" stroke-dasharray="1 127.8 1 15.2 1.5 8.7 2 3.8 1.5 12.9 1.5 40.5 1.2 13.3 1.2 10.3 2 31.3 1 30 1.2 65.5 1.2 12.5 1.2 13 2 21.2 1 43.5 1.2 17.7 1 16.5 1.5 27.9 1.2 13.2 1.2 9.3 1.2 11.9 2 36.4 1 9999"/>
<path fill="none" d="M1131.3 724.4H1751.9" stroke="#8aa4cc" stroke-width="8.8" stroke-dasharray="1.2 71 1 4.9 1.2 81.3 1.2 6.2 1.2 114.8 2 36 1 108.6 1 105.9 1.2 49.5 1 23.3 1 4.6 1.5 9999"/>
<path fill="none" d="M1238.7 724.4H1765.7" stroke="#5f80b8" stroke-width="8.8" stroke-dasharray="1 13.8 1.2 7.9 1.2 90 1.2 7.9 1.2 26.2 1.2 15.8 1.2 125.9 1 20.4 2 21.2 1.2 162.6 1 14.9 1 5 1 9999"/>
<rect x="1320.2" y="720" width="1.8" height="8.8" fill="#4a74bd"/>
<rect x="1334.7" y="720" width="7.2" height="8.8" fill="#b3c6e3"/>
<path fill="none" d="M1335 724.4H1341.8" stroke="#3f67ab" stroke-width="8.8" stroke-dasharray="1.2 1.8 1.2 1.3 1.2 9999"/>
<rect x="1361.9" y="720" width="16.3" height="8.8" fill="#ddb139"/>
<rect x="1378.2" y="720" width="2.7" height="8.8" fill="#4a74bd"/>
<rect x="1122.1" y="733.7" width="645.6" height="4.9" rx="0.8" fill="#fff" stroke="#000" stroke-width="1.4"/>
<rect x="1139" y="733.7" width="5.8" height="4.9" fill="#cecece" stroke="#000" stroke-width="1"/>
<rect x="1161.1" y="733.7" width="30.8" height="4.9" fill="#cecece" stroke="#000" stroke-width="1"/>
<rect x="1201" y="733.7" width="10.2" height="4.9" fill="#cecece" stroke="#000" stroke-width="1"/>
<rect x="1224.2" y="733.7" width="19" height="4.9" fill="#000" stroke="#000" stroke-width="1"/>
<rect x="1251.7" y="733.7" width="25.9" height="4.9" fill="#000" stroke="#000" stroke-width="1"/>
<rect x="1297.6" y="733.7" width="20.8" height="4.9" fill="#8a8a8a" stroke="#000" stroke-width="1"/>
<rect x="1329.3" y="733.7" width="18.5" height="4.9" fill="#cecece" stroke="#000" stroke-width="1"/>
<rect x="1364.6" y="733.7" width="5.4" height="4.9" fill="#e0362c" stroke="#000" stroke-width="1"/>
<rect x="1371.3" y="733.7" width="5.1" height="4.9" fill="#e0362c" stroke="#000" stroke-width="1"/>
<rect x="1390" y="733.7" width="11.8" height="4.9" fill="#cecece" stroke="#000" stroke-width="1"/>
<rect x="1421.7" y="733.7" width="6.3" height="4.9" fill="#cecece" stroke="#000" stroke-width="1"/>
<rect x="1437.1" y="733.7" width="36.7" height="4.9" fill="#000" stroke="#000" stroke-width="1"/>
<rect x="1479.4" y="733.7" width="25.2" height="4.9" fill="#000" stroke="#000" stroke-width="1"/>
<rect x="1510.6" y="733.7" width="19.2" height="4.9" fill="#8a8a8a" stroke="#000" stroke-width="1"/>
<rect x="1549" y="733.7" width="4.1" height="4.9" fill="#cecece" stroke="#000" stroke-width="1"/>
<rect x="1574.6" y="733.7" width="32.3" height="4.9" fill="#8a8a8a" stroke="#000" stroke-width="1"/>
<rect x="1625" y="733.7" width="33" height="4.9" fill="#000" stroke="#000" stroke-width="1"/>
<rect x="1665.5" y="733.7" width="12.7" height="4.9" fill="#cecece" stroke="#000" stroke-width="1"/>
<rect x="1697.7" y="733.7" width="9.3" height="4.9" fill="#8a8a8a" stroke="#000" stroke-width="1"/>
<rect x="1713.6" y="733.7" width="22.4" height="4.9" fill="#000" stroke="#000" stroke-width="1"/></g>
<use href="#P" transform="translate(0,753.3)"/>
<use href="#P" transform="translate(0,1512.4)"/>
<text x="1048.2" y="74.4" class="lab">chr1</text>
<text x="1048.2" y="104.7" class="lab">chr2</text>
<text x="1048.2" y="135" class="lab">chr3</text>
<text x="1048.2" y="165.3" class="lab">chr4</text>
<text x="1048.2" y="195.5" class="lab">chr5</text>
<text x="1048.2" y="225.8" class="lab">chr6</text>
<text x="1048.2" y="256.1" class="lab">chr7</text>
<text x="1048.2" y="286.4" class="lab">chr8</text>
<text x="1048.2" y="316.7" class="lab">chr9</text>
<text x="1044.7" y="347" class="lab">chr10</text>
<text x="1044.7" y="377.3" class="lab">chr11</text>
<text x="1044.7" y="407.5" class="lab">chr12</text>
<text x="1044.7" y="437.8" class="lab">chr13</text>
<text x="1044.7" y="468.1" class="lab">chr14</text>
<text x="1044.7" y="498.4" class="lab">chr15</text>
<text x="1044.7" y="528.7" class="lab">chr16</text>
<text x="1044.7" y="559" class="lab">chr17</text>
<text x="1044.7" y="589.3" class="lab">chr18</text>
<text x="1044.7" y="619.5" class="lab">chr19</text>
<text x="1044.7" y="649.8" class="lab">chr20</text>
<text x="1044.7" y="680.1" class="lab">chr21</text>
<text x="1044.7" y="710.4" class="lab">chr22</text>
<text x="1039.4" y="740.7" class="lab">chrY/X</text>
<path fill="#e0362c" d="M706.4 561.2h7.9l-3.95 6.6zM755.5 561.2h7.9l-3.95 6.6zM948.2 561.2h7.9l-3.95 6.6zM952.2 561.2h7.9l-3.95 6.6zM1027.8 561.2h7.9l-3.95 6.6zM1160.1 561.2h7.9l-3.95 6.6zM1309.4 561.2h7.9l-3.95 6.6zM1439.5 561.2h7.9l-3.95 6.6zM1444.4 561.2h7.9l-3.95 6.6zM1448.2 561.2h7.9l-3.95 6.6zM871.1 591.4h7.9l-3.95 6.6zM913.7 591.4h7.9l-3.95 6.6zM992.4 591.4h7.9l-3.95 6.6zM1020 591.4h7.9l-3.95 6.6zM1022.8 591.4h7.9l-3.95 6.6zM1180.4 591.4h7.9l-3.95 6.6zM1217.1 591.4h7.9l-3.95 6.6zM1331.7 591.4h7.9l-3.95 6.6zM1362.5 591.4h7.9l-3.95 6.6zM892.2 621.7h7.9l-3.95 6.6zM914.6 621.7h7.9l-3.95 6.6zM994.8 621.7h7.9l-3.95 6.6zM1027.5 621.7h7.9l-3.95 6.6zM1122.7 621.7h7.9l-3.95 6.6zM1180.7 621.7h7.9l-3.95 6.6zM1394.6 621.7h7.9l-3.95 6.6zM889.4 652h7.9l-3.95 6.6zM992.9 652h7.9l-3.95 6.6zM1001.3 652h7.9l-3.95 6.6zM1016.6 652h7.9l-3.95 6.6zM1135.6 652h7.9l-3.95 6.6zM1151.4 652h7.9l-3.95 6.6zM1154.6 652h7.9l-3.95 6.6zM1168.6 652h7.9l-3.95 6.6zM1301.2 652h7.9l-3.95 6.6zM1309.9 652h7.9l-3.95 6.6zM1313.6 652h7.9l-3.95 6.6zM845 682.3h7.9l-3.95 6.6zM946.3 682.3h7.9l-3.95 6.6zM1001.7 682.3h7.9l-3.95 6.6zM1122.4 682.3h7.9l-3.95 6.6zM1125.1 682.3h7.9l-3.95 6.6zM1218.4 682.3h7.9l-3.95 6.6zM1287.8 682.3h7.9l-3.95 6.6zM784.9 712.6h7.9l-3.95 6.6zM788.7 712.6h7.9l-3.95 6.6zM792.4 712.6h7.9l-3.95 6.6zM796.1 712.6h7.9l-3.95 6.6zM808.8 712.6h7.9l-3.95 6.6zM812.5 712.6h7.9l-3.95 6.6zM888.8 712.6h7.9l-3.95 6.6zM906.8 712.6h7.9l-3.95 6.6zM1020.9 712.6h7.9l-3.95 6.6zM1117.3 712.6h7.9l-3.95 6.6zM1124.2 712.6h7.9l-3.95 6.6zM497.6 379.4h7.9l-3.95 6.6zM709.7 379.4h7.9l-3.95 6.6zM1343.8 379.4h7.9l-3.95 6.6zM1529.4 379.4h7.9l-3.95 6.6zM1596.5 379.4h7.9l-3.95 6.6zM1653.2 379.4h7.9l-3.95 6.6zM1675.6 379.4h7.9l-3.95 6.6zM586.9 409.7h7.9l-3.95 6.6zM980.7 409.7h7.9l-3.95 6.6zM997.8 409.7h7.9l-3.95 6.6zM1011.1 409.7h7.9l-3.95 6.6zM1027.8 409.7h7.9l-3.95 6.6zM1123.3 409.7h7.9l-3.95 6.6zM598.7 440h7.9l-3.95 6.6zM605.9 440h7.9l-3.95 6.6zM952.8 440h7.9l-3.95 6.6zM980.5 440h7.9l-3.95 6.6zM1022.5 440h7.9l-3.95 6.6zM1027.6 440h7.9l-3.95 6.6zM1117.8 440h7.9l-3.95 6.6zM1132.3 440h7.9l-3.95 6.6zM1188.5 440h7.9l-3.95 6.6zM1191.2 440h7.9l-3.95 6.6zM1201.7 440h7.9l-3.95 6.6zM1563.4 440h7.9l-3.95 6.6zM1567.3 440h7.9l-3.95 6.6zM740.1 470.3h7.9l-3.95 6.6zM786.3 470.3h7.9l-3.95 6.6zM872.5 470.3h7.9l-3.95 6.6zM940.6 470.3h7.9l-3.95 6.6zM985 470.3h7.9l-3.95 6.6zM990.9 470.3h7.9l-3.95 6.6zM995.1 470.3h7.9l-3.95 6.6zM1027.8 470.3h7.9l-3.95 6.6zM1141.8 470.3h7.9l-3.95 6.6zM1232.4 470.3h7.9l-3.95 6.6zM1434.3 470.3h7.9l-3.95 6.6zM652.7 500.6h7.9l-3.95 6.6zM655.2 500.6h7.9l-3.95 6.6zM741.3 500.6h7.9l-3.95 6.6zM785.7 500.6h7.9l-3.95 6.6zM857.5 500.6h7.9l-3.95 6.6zM885.4 500.6h7.9l-3.95 6.6zM1027.8 500.6h7.9l-3.95 6.6zM1195.4 500.6h7.9l-3.95 6.6zM1240.2 500.6h7.9l-3.95 6.6zM1250.1 500.6h7.9l-3.95 6.6zM1259.6 500.6h7.9l-3.95 6.6zM1411.8 500.6h7.9l-3.95 6.6zM782.1 530.9h7.9l-3.95 6.6zM833 530.9h7.9l-3.95 6.6zM918.9 530.9h7.9l-3.95 6.6zM922.1 530.9h7.9l-3.95 6.6zM950.4 530.9h7.9l-3.95 6.6zM1025.5 530.9h7.9l-3.95 6.6zM1123.8 530.9h7.9l-3.95 6.6zM1197.2 530.9h7.9l-3.95 6.6zM1301.2 530.9h7.9l-3.95 6.6zM1448.7 530.9h7.9l-3.95 6.6zM1460.6 530.9h7.9l-3.95 6.6zM504 197.7h7.9l-3.95 6.6zM740.2 197.7h7.9l-3.95 6.6zM756.4 197.7h7.9l-3.95 6.6zM771 197.7h7.9l-3.95 6.6zM775.5 197.7h7.9l-3.95 6.6zM780 197.7h7.9l-3.95 6.6zM919.5 197.7h7.9l-3.95 6.6zM926.3 197.7h7.9l-3.95 6.6zM948.6 197.7h7.9l-3.95 6.6zM953.6 197.7h7.9l-3.95 6.6zM1027.9 197.7h7.9l-3.95 6.6zM1196.7 197.7h7.9l-3.95 6.6zM1232.9 197.7h7.9l-3.95 6.6zM1382.4 197.7h7.9l-3.95 6.6zM1386.1 197.7h7.9l-3.95 6.6zM382 228h7.9l-3.95 6.6zM723 228h7.9l-3.95 6.6zM725.7 228h7.9l-3.95 6.6zM733.5 228h7.9l-3.95 6.6zM789.2 228h7.9l-3.95 6.6zM797.9 228h7.9l-3.95 6.6zM1304 228h7.9l-3.95 6.6zM1362.5 228h7.9l-3.95 6.6zM1367 228h7.9l-3.95 6.6zM1370.7 228h7.9l-3.95 6.6zM1378.8 228h7.9l-3.95 6.6zM1382.4 228h7.9l-3.95 6.6zM1386.1 228h7.9l-3.95 6.6zM1423.6 228h7.9l-3.95 6.6zM1541.5 228h7.9l-3.95 6.6zM1597.3 228h7.9l-3.95 6.6zM1686.2 228h7.9l-3.95 6.6zM1788.6 228h7.9l-3.95 6.6zM432.9 258.3h7.9l-3.95 6.6zM437.1 258.3h7.9l-3.95 6.6zM792.4 258.3h7.9l-3.95 6.6zM855.3 258.3h7.9l-3.95 6.6zM999.7 258.3h7.9l-3.95 6.6zM1027.1 258.3h7.9l-3.95 6.6zM1126.9 258.3h7.9l-3.95 6.6zM1146.8 258.3h7.9l-3.95 6.6zM1274.6 258.3h7.9l-3.95 6.6zM1302.7 258.3h7.9l-3.95 6.6zM1307.2 258.3h7.9l-3.95 6.6zM1482.8 258.3h7.9l-3.95 6.6zM1726 258.3h7.9l-3.95 6.6zM505.4 288.6h7.9l-3.95 6.6zM642.7 288.6h7.9l-3.95 6.6zM688.6 288.6h7.9l-3.95 6.6zM790.4 288.6h7.9l-3.95 6.6zM799.7 288.6h7.9l-3.95 6.6zM805.5 288.6h7.9l-3.95 6.6zM811.3 288.6h7.9l-3.95 6.6zM816.7 288.6h7.9l-3.95 6.6zM824 288.6h7.9l-3.95 6.6zM829.9 288.6h7.9l-3.95 6.6zM834.5 288.6h7.9l-3.95 6.6zM838.1 288.6h7.9l-3.95 6.6zM856.2 288.6h7.9l-3.95 6.6zM1228.4 288.6h7.9l-3.95 6.6zM1278.2 288.6h7.9l-3.95 6.6zM1303.6 288.6h7.9l-3.95 6.6zM1325.3 288.6h7.9l-3.95 6.6zM1330.8 288.6h7.9l-3.95 6.6zM1336.2 288.6h7.9l-3.95 6.6zM1341.7 288.6h7.9l-3.95 6.6zM1346.2 288.6h7.9l-3.95 6.6zM1350.7 288.6h7.9l-3.95 6.6zM1359.8 288.6h7.9l-3.95 6.6zM1367.9 288.6h7.9l-3.95 6.6zM1377.9 288.6h7.9l-3.95 6.6zM1382.4 288.6h7.9l-3.95 6.6zM1387 288.6h7.9l-3.95 6.6zM1391.5 288.6h7.9l-3.95 6.6zM1409.1 288.6h7.9l-3.95 6.6zM1680.4 288.6h7.9l-3.95 6.6zM1716.1 288.6h7.9l-3.95 6.6zM481.8 318.9h7.9l-3.95 6.6zM1022.5 318.9h7.9l-3.95 6.6zM1151.7 318.9h7.9l-3.95 6.6zM522.6 349.2h7.9l-3.95 6.6zM723.9 349.2h7.9l-3.95 6.6zM766.7 349.2h7.9l-3.95 6.6zM812.4 349.2h7.9l-3.95 6.6zM915.3 349.2h7.9l-3.95 6.6zM921.3 349.2h7.9l-3.95 6.6zM969.5 349.2h7.9l-3.95 6.6zM1026.6 349.2h7.9l-3.95 6.6zM1118.7 349.2h7.9l-3.95 6.6zM1419.2 349.2h7.9l-3.95 6.6zM1449.6 349.2h7.9l-3.95 6.6zM1639 349.2h7.9l-3.95 6.6zM28.6 46.3h7.9l-3.95 6.6zM87.6 46.3h7.9l-3.95 6.6zM91.6 46.3h7.9l-3.95 6.6zM361.1 46.3h7.9l-3.95 6.6zM428.7 46.3h7.9l-3.95 6.6zM491.7 46.3h7.9l-3.95 6.6zM587 46.3h7.9l-3.95 6.6zM754.5 46.3h7.9l-3.95 6.6zM998.3 46.3h7.9l-3.95 6.6zM1004.1 46.3h7.9l-3.95 6.6zM1025.1 46.3h7.9l-3.95 6.6zM1121.5 46.3h7.9l-3.95 6.6zM1335.9 46.3h7.9l-3.95 6.6zM1772.4 46.3h7.9l-3.95 6.6zM2054.2 46.3h7.9l-3.95 6.6zM2132.8 46.3h7.9l-3.95 6.6zM2136.8 46.3h7.9l-3.95 6.6zM47.3 76.6h7.9l-3.95 6.6zM418.6 76.6h7.9l-3.95 6.6zM450.9 76.6h7.9l-3.95 6.6zM481.9 76.6h7.9l-3.95 6.6zM526.3 76.6h7.9l-3.95 6.6zM530.2 76.6h7.9l-3.95 6.6zM549.3 76.6h7.9l-3.95 6.6zM555.1 76.6h7.9l-3.95 6.6zM661.6 76.6h7.9l-3.95 6.6zM667.3 76.6h7.9l-3.95 6.6zM726.3 76.6h7.9l-3.95 6.6zM988.3 76.6h7.9l-3.95 6.6zM1163.7 76.6h7.9l-3.95 6.6zM1242.9 76.6h7.9l-3.95 6.6zM1426.5 76.6h7.9l-3.95 6.6zM1429.6 76.6h7.9l-3.95 6.6zM1487.3 76.6h7.9l-3.95 6.6zM1512.7 76.6h7.9l-3.95 6.6zM1789.8 76.6h7.9l-3.95 6.6zM1875.5 76.6h7.9l-3.95 6.6zM1929.7 76.6h7.9l-3.95 6.6zM2020.3 76.6h7.9l-3.95 6.6zM2087.4 76.6h7.9l-3.95 6.6zM2095.9 76.6h7.9l-3.95 6.6zM2131.8 76.6h7.9l-3.95 6.6zM615.5 106.9h7.9l-3.95 6.6zM635.7 106.9h7.9l-3.95 6.6zM650 106.9h7.9l-3.95 6.6zM1027.1 106.9h7.9l-3.95 6.6zM1324.8 106.9h7.9l-3.95 6.6zM1339.5 106.9h7.9l-3.95 6.6zM1507.3 106.9h7.9l-3.95 6.6zM1660.4 106.9h7.9l-3.95 6.6zM1953.4 106.9h7.9l-3.95 6.6zM256 137.2h7.9l-3.95 6.6zM341.5 137.2h7.9l-3.95 6.6zM391.6 137.2h7.9l-3.95 6.6zM409.7 137.2h7.9l-3.95 6.6zM450 137.2h7.9l-3.95 6.6zM826.5 137.2h7.9l-3.95 6.6zM975.3 137.2h7.9l-3.95 6.6zM1133.2 137.2h7.9l-3.95 6.6zM1150.5 137.2h7.9l-3.95 6.6zM1154.1 137.2h7.9l-3.95 6.6zM1184.9 137.2h7.9l-3.95 6.6zM1397.8 137.2h7.9l-3.95 6.6zM1688.9 137.2h7.9l-3.95 6.6zM1753.2 137.2h7.9l-3.95 6.6zM1821.5 137.2h7.9l-3.95 6.6zM1884.5 137.2h7.9l-3.95 6.6zM1889.4 137.2h7.9l-3.95 6.6zM280.4 167.4h7.9l-3.95 6.6zM346.4 167.4h7.9l-3.95 6.6zM609.2 167.4h7.9l-3.95 6.6zM803.5 167.4h7.9l-3.95 6.6zM807.5 167.4h7.9l-3.95 6.6zM811.5 167.4h7.9l-3.95 6.6zM815.6 167.4h7.9l-3.95 6.6zM826.5 167.4h7.9l-3.95 6.6zM969.6 167.4h7.9l-3.95 6.6zM979.6 167.4h7.9l-3.95 6.6zM1118.4 167.4h7.9l-3.95 6.6zM1131.4 167.4h7.9l-3.95 6.6zM1178.2 167.4h7.9l-3.95 6.6zM1261.5 167.4h7.9l-3.95 6.6zM1417.4 167.4h7.9l-3.95 6.6zM1600.6 167.4h7.9l-3.95 6.6zM1645.9 167.4h7.9l-3.95 6.6zM1831.9 167.4h7.9l-3.95 6.6z"/>
<text x="1044.8" y="827.7" class="lab">chr1</text>
<text x="1044.8" y="858" class="lab">chr2</text>
<text x="1044.8" y="888.3" class="lab">chr3</text>
<text x="1044.8" y="918.6" class="lab">chr4</text>
<text x="1044.8" y="948.8" class="lab">chr5</text>
<text x="1044.8" y="979.1" class="lab">chr6</text>
<text x="1044.8" y="1009.4" class="lab">chr7</text>
<text x="1044.8" y="1039.7" class="lab">chr8</text>
<text x="1044.8" y="1070" class="lab">chr9</text>
<text x="1041.3" y="1100.3" class="lab">chr10</text>
<text x="1041.3" y="1130.6" class="lab">chr11</text>
<text x="1041.3" y="1160.8" class="lab">chr12</text>
<text x="1041.3" y="1191.1" class="lab">chr13</text>
<text x="1041.3" y="1221.4" class="lab">chr14</text>
<text x="1041.3" y="1251.7" class="lab">chr15</text>
<text x="1041.3" y="1282" class="lab">chr16</text>
<text x="1041.3" y="1312.3" class="lab">chr17</text>
<text x="1041.3" y="1342.6" class="lab">chr18</text>
<text x="1041.3" y="1372.8" class="lab">chr19</text>
<text x="1041.3" y="1403.1" class="lab">chr20</text>
<text x="1041.3" y="1433.4" class="lab">chr21</text>
<text x="1041.3" y="1463.7" class="lab">chr22</text>
<text x="1039.4" y="1494" class="lab">chrY/X</text>
<path fill="#e0362c" d="M444.5 799.6h7.9l-3.95 6.6zM467.3 799.6h7.9l-3.95 6.6zM527.5 799.6h7.9l-3.95 6.6zM1027.1 799.6h7.9l-3.95 6.6zM1121.3 799.6h7.9l-3.95 6.6zM1365.1 799.6h7.9l-3.95 6.6zM1432.2 799.6h7.9l-3.95 6.6zM1556 799.6h7.9l-3.95 6.6zM1635.1 799.6h7.9l-3.95 6.6zM1640 799.6h7.9l-3.95 6.6zM1670.3 799.6h7.9l-3.95 6.6zM1676 799.6h7.9l-3.95 6.6zM1681.2 799.6h7.9l-3.95 6.6zM1686.1 799.6h7.9l-3.95 6.6zM215.7 829.9h7.9l-3.95 6.6zM368.8 829.9h7.9l-3.95 6.6zM392.4 829.9h7.9l-3.95 6.6zM500.1 829.9h7.9l-3.95 6.6zM648 829.9h7.9l-3.95 6.6zM652.1 829.9h7.9l-3.95 6.6zM939.3 829.9h7.9l-3.95 6.6zM1162.8 829.9h7.9l-3.95 6.6zM1516.2 829.9h7.9l-3.95 6.6zM1663.9 829.9h7.9l-3.95 6.6zM936.5 860.2h7.9l-3.95 6.6zM1224.1 860.2h7.9l-3.95 6.6zM1475.9 860.2h7.9l-3.95 6.6zM1500.4 860.2h7.9l-3.95 6.6zM1505.6 860.2h7.9l-3.95 6.6zM1514.8 860.2h7.9l-3.95 6.6zM1519.7 860.2h7.9l-3.95 6.6zM248.5 890.5h7.9l-3.95 6.6zM378 890.5h7.9l-3.95 6.6zM819.9 890.5h7.9l-3.95 6.6zM1134.8 890.5h7.9l-3.95 6.6zM1339.8 890.5h7.9l-3.95 6.6zM1785.4 890.5h7.9l-3.95 6.6zM1884.1 890.5h7.9l-3.95 6.6zM346.4 920.7h7.9l-3.95 6.6zM473.9 920.7h7.9l-3.95 6.6zM557.4 920.7h7.9l-3.95 6.6zM561.7 920.7h7.9l-3.95 6.6zM810.7 920.7h7.9l-3.95 6.6zM832.8 920.7h7.9l-3.95 6.6zM1132 920.7h7.9l-3.95 6.6zM1327.7 920.7h7.9l-3.95 6.6zM1456.6 920.7h7.9l-3.95 6.6zM1747.1 920.7h7.9l-3.95 6.6zM788.8 951h7.9l-3.95 6.6zM1196.7 951h7.9l-3.95 6.6zM1364.2 951h7.9l-3.95 6.6zM780.6 981.3h7.9l-3.95 6.6zM797.8 981.3h7.9l-3.95 6.6zM1023.8 981.3h7.9l-3.95 6.6zM1372.3 981.3h7.9l-3.95 6.6zM788.3 1011.6h7.9l-3.95 6.6zM838.1 1011.6h7.9l-3.95 6.6zM845.3 1011.6h7.9l-3.95 6.6zM1294.6 1011.6h7.9l-3.95 6.6zM1302.6 1011.6h7.9l-3.95 6.6zM1340.6 1011.6h7.9l-3.95 6.6zM1422.1 1011.6h7.9l-3.95 6.6zM1517.7 1011.6h7.9l-3.95 6.6zM784.9 1041.9h7.9l-3.95 6.6zM837.3 1041.9h7.9l-3.95 6.6zM844.5 1041.9h7.9l-3.95 6.6zM849.1 1041.9h7.9l-3.95 6.6zM853.4 1041.9h7.9l-3.95 6.6zM895.7 1041.9h7.9l-3.95 6.6zM1309 1041.9h7.9l-3.95 6.6zM1322.5 1041.9h7.9l-3.95 6.6zM741.7 1072.2h7.9l-3.95 6.6zM812.8 1072.2h7.9l-3.95 6.6zM859.7 1072.2h7.9l-3.95 6.6zM864 1072.2h7.9l-3.95 6.6zM1292.3 1072.2h7.9l-3.95 6.6zM1338.3 1102.5h7.9l-3.95 6.6zM1424.7 1102.5h7.9l-3.95 6.6zM1512.5 1102.5h7.9l-3.95 6.6zM487.5 1132.7h7.9l-3.95 6.6zM498.5 1132.7h7.9l-3.95 6.6zM829.5 1132.7h7.9l-3.95 6.6zM1002.5 1132.7h7.9l-3.95 6.6zM1267.8 1132.7h7.9l-3.95 6.6zM1272.4 1132.7h7.9l-3.95 6.6zM1613.2 1132.7h7.9l-3.95 6.6zM1665 1132.7h7.9l-3.95 6.6zM722.4 1163h7.9l-3.95 6.6zM836.5 1163h7.9l-3.95 6.6zM977.2 1163h7.9l-3.95 6.6zM1183.9 1163h7.9l-3.95 6.6zM1190 1163h7.9l-3.95 6.6zM1333.1 1163h7.9l-3.95 6.6zM1481.3 1163h7.9l-3.95 6.6zM602.3 1193.3h7.9l-3.95 6.6zM1023.1 1193.3h7.9l-3.95 6.6zM1132.2 1193.3h7.9l-3.95 6.6zM1154.8 1193.3h7.9l-3.95 6.6zM1186 1193.3h7.9l-3.95 6.6zM1190 1193.3h7.9l-3.95 6.6zM1566.6 1193.3h7.9l-3.95 6.6zM935.8 1223.6h7.9l-3.95 6.6zM966.4 1223.6h7.9l-3.95 6.6zM970.8 1223.6h7.9l-3.95 6.6zM984.8 1223.6h7.9l-3.95 6.6zM1004.4 1223.6h7.9l-3.95 6.6zM1027.2 1223.6h7.9l-3.95 6.6zM1164.1 1223.6h7.9l-3.95 6.6zM1193.5 1223.6h7.9l-3.95 6.6zM1197.2 1223.6h7.9l-3.95 6.6zM1232.1 1223.6h7.9l-3.95 6.6zM1436 1223.6h7.9l-3.95 6.6zM718.3 1253.9h7.9l-3.95 6.6zM836.5 1253.9h7.9l-3.95 6.6zM842.1 1253.9h7.9l-3.95 6.6zM845.8 1253.9h7.9l-3.95 6.6zM859.8 1253.9h7.9l-3.95 6.6zM864.2 1253.9h7.9l-3.95 6.6zM867.9 1253.9h7.9l-3.95 6.6zM881.3 1253.9h7.9l-3.95 6.6zM1213.2 1253.9h7.9l-3.95 6.6zM1236.1 1253.9h7.9l-3.95 6.6zM1271.8 1253.9h7.9l-3.95 6.6zM1288.1 1253.9h7.9l-3.95 6.6zM1294.8 1253.9h7.9l-3.95 6.6zM1302.8 1253.9h7.9l-3.95 6.6zM847 1284.2h7.9l-3.95 6.6zM930.9 1284.2h7.9l-3.95 6.6zM1194.5 1284.2h7.9l-3.95 6.6zM1301.4 1284.2h7.9l-3.95 6.6zM963 1314.5h7.9l-3.95 6.6zM1187.9 1314.5h7.9l-3.95 6.6zM1192.7 1314.5h7.9l-3.95 6.6zM794.6 1344.7h7.9l-3.95 6.6zM854.5 1344.7h7.9l-3.95 6.6zM871.2 1344.7h7.9l-3.95 6.6zM912.5 1344.7h7.9l-3.95 6.6zM915.9 1344.7h7.9l-3.95 6.6zM1230 1344.7h7.9l-3.95 6.6zM1236.5 1344.7h7.9l-3.95 6.6zM1278.9 1344.7h7.9l-3.95 6.6zM908.6 1375h7.9l-3.95 6.6zM912.1 1375h7.9l-3.95 6.6zM1379 1375h7.9l-3.95 6.6zM986.9 1405.3h7.9l-3.95 6.6zM990.8 1405.3h7.9l-3.95 6.6zM1017.2 1405.3h7.9l-3.95 6.6zM1151.4 1405.3h7.9l-3.95 6.6zM1173.1 1405.3h7.9l-3.95 6.6zM839.2 1435.6h7.9l-3.95 6.6zM1185.8 1435.6h7.9l-3.95 6.6zM1190.1 1435.6h7.9l-3.95 6.6zM784.9 1465.9h7.9l-3.95 6.6zM798.5 1465.9h7.9l-3.95 6.6zM812.7 1465.9h7.9l-3.95 6.6zM836.3 1465.9h7.9l-3.95 6.6zM840.1 1465.9h7.9l-3.95 6.6zM844 1465.9h7.9l-3.95 6.6zM855.9 1465.9h7.9l-3.95 6.6zM864.1 1465.9h7.9l-3.95 6.6zM875.6 1465.9h7.9l-3.95 6.6zM880.4 1465.9h7.9l-3.95 6.6zM884.3 1465.9h7.9l-3.95 6.6zM896.7 1465.9h7.9l-3.95 6.6zM901.5 1465.9h7.9l-3.95 6.6zM906.3 1465.9h7.9l-3.95 6.6zM1020.5 1465.9h7.9l-3.95 6.6zM1366.3 1465.9h7.9l-3.95 6.6zM1371.7 1465.9h7.9l-3.95 6.6zM1596.5 1465.9h7.9l-3.95 6.6zM90.6 799.6h7.9l-3.95 6.6zM92.7 799.6h7.9l-3.95 6.6zM95.6 799.6h7.9l-3.95 6.6zM97.8 799.6h7.9l-3.95 6.6zM101.3 799.6h7.9l-3.95 6.6zM105.4 799.6h7.9l-3.95 6.6zM108.1 799.6h7.9l-3.95 6.6zM111 799.6h7.9l-3.95 6.6zM114.8 799.6h7.9l-3.95 6.6zM118.2 799.6h7.9l-3.95 6.6zM121 799.6h7.9l-3.95 6.6zM124.3 799.6h7.9l-3.95 6.6zM127.7 799.6h7.9l-3.95 6.6zM130.2 799.6h7.9l-3.95 6.6zM133.2 799.6h7.9l-3.95 6.6zM136.9 799.6h7.9l-3.95 6.6zM140.4 799.6h7.9l-3.95 6.6zM143.3 799.6h7.9l-3.95 6.6zM158.8 799.6h7.9l-3.95 6.6zM161.1 799.6h7.9l-3.95 6.6zM164.3 799.6h7.9l-3.95 6.6zM168.3 799.6h7.9l-3.95 6.6zM170.4 799.6h7.9l-3.95 6.6zM174.5 799.6h7.9l-3.95 6.6zM177.9 799.6h7.9l-3.95 6.6zM180.8 799.6h7.9l-3.95 6.6zM184.7 799.6h7.9l-3.95 6.6zM187.4 799.6h7.9l-3.95 6.6zM191.3 799.6h7.9l-3.95 6.6zM195.3 799.6h7.9l-3.95 6.6zM197.9 799.6h7.9l-3.95 6.6zM200.3 799.6h7.9l-3.95 6.6zM203.7 799.6h7.9l-3.95 6.6zM206.9 799.6h7.9l-3.95 6.6zM209.5 799.6h7.9l-3.95 6.6zM213.2 799.6h7.9l-3.95 6.6zM215.8 799.6h7.9l-3.95 6.6zM219.3 799.6h7.9l-3.95 6.6zM222.8 799.6h7.9l-3.95 6.6zM224.9 799.6h7.9l-3.95 6.6zM227.8 799.6h7.9l-3.95 6.6zM231.1 799.6h7.9l-3.95 6.6zM233.6 799.6h7.9l-3.95 6.6zM237.3 799.6h7.9l-3.95 6.6zM240.9 799.6h7.9l-3.95 6.6zM243.2 799.6h7.9l-3.95 6.6zM245.7 799.6h7.9l-3.95 6.6zM248.2 799.6h7.9l-3.95 6.6zM250.9 799.6h7.9l-3.95 6.6zM253.3 799.6h7.9l-3.95 6.6zM255.6 799.6h7.9l-3.95 6.6zM258.7 799.6h7.9l-3.95 6.6zM262.5 799.6h7.9l-3.95 6.6zM266.3 799.6h7.9l-3.95 6.6zM268.3 799.6h7.9l-3.95 6.6zM270.7 799.6h7.9l-3.95 6.6zM272.9 799.6h7.9l-3.95 6.6zM276.6 799.6h7.9l-3.95 6.6zM280.1 799.6h7.9l-3.95 6.6zM283.3 799.6h7.9l-3.95 6.6zM285.5 799.6h7.9l-3.95 6.6zM288.5 799.6h7.9l-3.95 6.6zM291.9 799.6h7.9l-3.95 6.6zM294.2 799.6h7.9l-3.95 6.6zM296.6 799.6h7.9l-3.95 6.6zM299.5 799.6h7.9l-3.95 6.6zM301.5 799.6h7.9l-3.95 6.6zM303.7 799.6h7.9l-3.95 6.6zM306.7 799.6h7.9l-3.95 6.6zM309.9 799.6h7.9l-3.95 6.6zM313.5 799.6h7.9l-3.95 6.6zM315.8 799.6h7.9l-3.95 6.6zM318.3 799.6h7.9l-3.95 6.6zM321.4 799.6h7.9l-3.95 6.6zM323.7 799.6h7.9l-3.95 6.6zM327.3 799.6h7.9l-3.95 6.6zM330.6 799.6h7.9l-3.95 6.6zM334.2 799.6h7.9l-3.95 6.6zM336.4 799.6h7.9l-3.95 6.6zM339.1 799.6h7.9l-3.95 6.6zM343.1 799.6h7.9l-3.95 6.6zM346.3 799.6h7.9l-3.95 6.6zM349.2 799.6h7.9l-3.95 6.6zM352.9 799.6h7.9l-3.95 6.6zM355.7 799.6h7.9l-3.95 6.6zM359.5 799.6h7.9l-3.95 6.6zM361.6 799.6h7.9l-3.95 6.6zM365.7 799.6h7.9l-3.95 6.6zM369.2 799.6h7.9l-3.95 6.6zM373.2 799.6h7.9l-3.95 6.6zM376.6 799.6h7.9l-3.95 6.6zM380.2 799.6h7.9l-3.95 6.6zM384.2 799.6h7.9l-3.95 6.6zM387.3 799.6h7.9l-3.95 6.6zM389.9 799.6h7.9l-3.95 6.6zM393.8 799.6h7.9l-3.95 6.6zM397.3 799.6h7.9l-3.95 6.6zM401.1 799.6h7.9l-3.95 6.6zM403.8 799.6h7.9l-3.95 6.6zM403.8 799.6h7.9l-3.95 6.6zM1728.3 799.6h7.9l-3.95 6.6zM1731.6 799.6h7.9l-3.95 6.6zM1734.7 799.6h7.9l-3.95 6.6zM1738.5 799.6h7.9l-3.95 6.6zM1740.5 799.6h7.9l-3.95 6.6zM1742.9 799.6h7.9l-3.95 6.6zM1745.9 799.6h7.9l-3.95 6.6zM1750.1 799.6h7.9l-3.95 6.6zM1752.4 799.6h7.9l-3.95 6.6zM1754.6 799.6h7.9l-3.95 6.6zM1757.6 799.6h7.9l-3.95 6.6zM1761 799.6h7.9l-3.95 6.6zM1763.5 799.6h7.9l-3.95 6.6zM1765.8 799.6h7.9l-3.95 6.6zM1769.6 799.6h7.9l-3.95 6.6zM1771.7 799.6h7.9l-3.95 6.6zM1774.5 799.6h7.9l-3.95 6.6zM1776.8 799.6h7.9l-3.95 6.6zM1780.1 799.6h7.9l-3.95 6.6zM1783 799.6h7.9l-3.95 6.6zM1786.9 799.6h7.9l-3.95 6.6zM1789.7 799.6h7.9l-3.95 6.6zM1792 799.6h7.9l-3.95 6.6zM1796 799.6h7.9l-3.95 6.6zM1799.8 799.6h7.9l-3.95 6.6zM1802.3 799.6h7.9l-3.95 6.6zM1805.5 799.6h7.9l-3.95 6.6zM1808.1 799.6h7.9l-3.95 6.6zM1810.3 799.6h7.9l-3.95 6.6zM1812.5 799.6h7.9l-3.95 6.6zM1815.9 799.6h7.9l-3.95 6.6zM1818 799.6h7.9l-3.95 6.6zM1822.2 799.6h7.9l-3.95 6.6zM1824.3 799.6h7.9l-3.95 6.6zM1826.7 799.6h7.9l-3.95 6.6zM1829 799.6h7.9l-3.95 6.6zM1832.4 799.6h7.9l-3.95 6.6zM1835.5 799.6h7.9l-3.95 6.6zM1838.1 799.6h7.9l-3.95 6.6zM1841.3 799.6h7.9l-3.95 6.6zM1845.4 799.6h7.9l-3.95 6.6zM1849.3 799.6h7.9l-3.95 6.6zM1853.3 799.6h7.9l-3.95 6.6zM1857.5 799.6h7.9l-3.95 6.6zM1860 799.6h7.9l-3.95 6.6zM1862.8 799.6h7.9l-3.95 6.6zM1866.2 799.6h7.9l-3.95 6.6zM1868.4 799.6h7.9l-3.95 6.6zM1871.9 799.6h7.9l-3.95 6.6zM1875.4 799.6h7.9l-3.95 6.6zM1878 799.6h7.9l-3.95 6.6zM1881 799.6h7.9l-3.95 6.6zM1883 799.6h7.9l-3.95 6.6zM1885.6 799.6h7.9l-3.95 6.6zM1887.8 799.6h7.9l-3.95 6.6zM1891 799.6h7.9l-3.95 6.6zM1894 799.6h7.9l-3.95 6.6zM1897.5 799.6h7.9l-3.95 6.6zM1899.9 799.6h7.9l-3.95 6.6zM1902.2 799.6h7.9l-3.95 6.6zM1905.7 799.6h7.9l-3.95 6.6zM1909 799.6h7.9l-3.95 6.6zM1912.2 799.6h7.9l-3.95 6.6zM1915 799.6h7.9l-3.95 6.6zM1918 799.6h7.9l-3.95 6.6zM1921.6 799.6h7.9l-3.95 6.6zM1925 799.6h7.9l-3.95 6.6zM1928.6 799.6h7.9l-3.95 6.6zM1931.9 799.6h7.9l-3.95 6.6zM1936 799.6h7.9l-3.95 6.6zM1940 799.6h7.9l-3.95 6.6zM1942.2 799.6h7.9l-3.95 6.6zM1945.9 799.6h7.9l-3.95 6.6zM1948.7 799.6h7.9l-3.95 6.6zM1951.2 799.6h7.9l-3.95 6.6zM1954.8 799.6h7.9l-3.95 6.6zM1957.3 799.6h7.9l-3.95 6.6zM1960.9 799.6h7.9l-3.95 6.6zM1964.6 799.6h7.9l-3.95 6.6zM1967.6 799.6h7.9l-3.95 6.6zM1969.9 799.6h7.9l-3.95 6.6zM1972.5 799.6h7.9l-3.95 6.6zM1974.7 799.6h7.9l-3.95 6.6zM1977.1 799.6h7.9l-3.95 6.6zM1979.2 799.6h7.9l-3.95 6.6zM1981.5 799.6h7.9l-3.95 6.6zM1997.1 799.6h7.9l-3.95 6.6zM2000.9 799.6h7.9l-3.95 6.6zM2003.8 799.6h7.9l-3.95 6.6zM2007.3 799.6h7.9l-3.95 6.6zM2010.9 799.6h7.9l-3.95 6.6zM2014.8 799.6h7.9l-3.95 6.6zM2018.4 799.6h7.9l-3.95 6.6zM2021.2 799.6h7.9l-3.95 6.6zM2024.3 799.6h7.9l-3.95 6.6zM2028.2 799.6h7.9l-3.95 6.6zM2031.6 799.6h7.9l-3.95 6.6zM2033.7 799.6h7.9l-3.95 6.6zM2036.9 799.6h7.9l-3.95 6.6zM2039.9 799.6h7.9l-3.95 6.6zM2043.5 799.6h7.9l-3.95 6.6zM2047 799.6h7.9l-3.95 6.6zM2049.8 799.6h7.9l-3.95 6.6zM2052.8 799.6h7.9l-3.95 6.6zM2053.5 799.6h7.9l-3.95 6.6z"/>
<text x="1044.8" y="1586.8" class="lab">chr1</text>
<text x="1044.8" y="1617.1" class="lab">chr2</text>
<text x="1044.8" y="1647.4" class="lab">chr3</text>
<text x="1044.8" y="1677.7" class="lab">chr4</text>
<text x="1044.8" y="1707.9" class="lab">chr5</text>
<text x="1044.8" y="1738.2" class="lab">chr6</text>
<text x="1044.8" y="1768.5" class="lab">chr7</text>
<text x="1044.8" y="1798.8" class="lab">chr8</text>
<text x="1044.8" y="1829.1" class="lab">chr9</text>
<text x="1041.3" y="1859.4" class="lab">chr10</text>
<text x="1041.3" y="1889.7" class="lab">chr11</text>
<text x="1041.3" y="1919.9" class="lab">chr12</text>
<text x="1041.3" y="1950.2" class="lab">chr13</text>
<text x="1041.3" y="1980.5" class="lab">chr14</text>
<text x="1041.3" y="2010.8" class="lab">chr15</text>
<text x="1041.3" y="2041.1" class="lab">chr16</text>
<text x="1041.3" y="2071.4" class="lab">chr17</text>
<text x="1041.3" y="2101.7" class="lab">chr18</text>
<text x="1041.3" y="2131.9" class="lab">chr19</text>
<text x="1041.3" y="2162.2" class="lab">chr20</text>
<text x="1041.3" y="2192.5" class="lab">chr21</text>
<text x="1041.3" y="2222.8" class="lab">chr22</text>
<text x="1039.4" y="2253.1" class="lab">chrY/X</text>
<path fill="#e0362c" d="M5.5 1558.7h7.9l-3.95 6.6zM361.1 1558.7h7.9l-3.95 6.6zM1027.1 1558.7h7.9l-3.95 6.6zM1117 1558.7h7.9l-3.95 6.6zM1121.3 1558.7h7.9l-3.95 6.6zM1556 1558.7h7.9l-3.95 6.6zM1667.4 1558.7h7.9l-3.95 6.6zM984 1589h7.9l-3.95 6.6zM1117.6 1589h7.9l-3.95 6.6zM2131.7 1589h7.9l-3.95 6.6zM210.5 1619.3h7.9l-3.95 6.6zM648 1619.3h7.9l-3.95 6.6zM1027.1 1619.3h7.9l-3.95 6.6zM1475.9 1619.3h7.9l-3.95 6.6zM1503.3 1619.3h7.9l-3.95 6.6zM1515.4 1619.3h7.9l-3.95 6.6zM989.1 1649.6h7.9l-3.95 6.6zM1324.2 1649.6h7.9l-3.95 6.6zM1328.6 1649.6h7.9l-3.95 6.6zM1333.5 1649.6h7.9l-3.95 6.6zM1884.1 1649.6h7.9l-3.95 6.6zM1920.1 1649.6h7.9l-3.95 6.6zM346.4 1679.8h7.9l-3.95 6.6zM816.1 1679.8h7.9l-3.95 6.6zM830 1679.8h7.9l-3.95 6.6zM1191.5 1679.8h7.9l-3.95 6.6zM1325.4 1679.8h7.9l-3.95 6.6zM320.5 1710.1h7.9l-3.95 6.6zM778.1 1710.1h7.9l-3.95 6.6zM1196.7 1710.1h7.9l-3.95 6.6zM1289.4 1710.1h7.9l-3.95 6.6zM1363.7 1710.1h7.9l-3.95 6.6zM1368.6 1710.1h7.9l-3.95 6.6zM1377.5 1710.1h7.9l-3.95 6.6zM1381.8 1710.1h7.9l-3.95 6.6zM1386.1 1710.1h7.9l-3.95 6.6zM1416.1 1710.1h7.9l-3.95 6.6zM1849.3 1710.1h7.9l-3.95 6.6zM1023.8 1740.4h7.9l-3.95 6.6zM1117.6 1740.4h7.9l-3.95 6.6zM1368 1740.4h7.9l-3.95 6.6zM999.3 1770.7h7.9l-3.95 6.6zM1027.8 1770.7h7.9l-3.95 6.6zM763.3 1801h7.9l-3.95 6.6zM859.1 1801h7.9l-3.95 6.6zM1027.8 1801h7.9l-3.95 6.6zM1716.3 1801h7.9l-3.95 6.6zM1720.2 1801h7.9l-3.95 6.6zM477.4 1831.3h7.9l-3.95 6.6zM1027.8 1831.3h7.9l-3.95 6.6zM812.2 1861.6h7.9l-3.95 6.6zM1027.8 1861.6h7.9l-3.95 6.6zM486.9 1891.8h7.9l-3.95 6.6zM879.2 1891.8h7.9l-3.95 6.6zM886.8 1891.8h7.9l-3.95 6.6zM1117.6 1891.8h7.9l-3.95 6.6zM1266.4 1891.8h7.9l-3.95 6.6zM1344.4 1891.8h7.9l-3.95 6.6zM585.1 1922.1h7.9l-3.95 6.6zM1117.2 1922.1h7.9l-3.95 6.6zM602.3 1952.4h7.9l-3.95 6.6zM1566.6 1952.4h7.9l-3.95 6.6zM1573 1952.4h7.9l-3.95 6.6zM1027.2 1982.7h7.9l-3.95 6.6zM1436 1982.7h7.9l-3.95 6.6zM647.9 2013h7.9l-3.95 6.6zM741.6 2013h7.9l-3.95 6.6zM854.4 2013h7.9l-3.95 6.6zM858 2013h7.9l-3.95 6.6zM1270.5 2013h7.9l-3.95 6.6zM1496.5 2013h7.9l-3.95 6.6zM847 2043.3h7.9l-3.95 6.6zM920.6 2043.3h7.9l-3.95 6.6zM924.3 2043.3h7.9l-3.95 6.6zM927.9 2043.3h7.9l-3.95 6.6zM1027.2 2043.3h7.9l-3.95 6.6zM1222 2043.3h7.9l-3.95 6.6zM1227.3 2043.3h7.9l-3.95 6.6zM1301.4 2043.3h7.9l-3.95 6.6zM1349.4 2043.3h7.9l-3.95 6.6zM755.8 2073.6h7.9l-3.95 6.6zM948.8 2073.6h7.9l-3.95 6.6zM953.7 2073.6h7.9l-3.95 6.6zM958.6 2073.6h7.9l-3.95 6.6zM963.5 2073.6h7.9l-3.95 6.6zM1027.2 2073.6h7.9l-3.95 6.6zM1117.2 2073.6h7.9l-3.95 6.6zM1187.3 2073.6h7.9l-3.95 6.6zM871.2 2103.8h7.9l-3.95 6.6zM913.4 2103.8h7.9l-3.95 6.6zM1228.6 2103.8h7.9l-3.95 6.6zM905.8 2134.1h7.9l-3.95 6.6zM909.2 2134.1h7.9l-3.95 6.6zM913 2134.1h7.9l-3.95 6.6zM916.5 2134.1h7.9l-3.95 6.6zM1117.6 2134.1h7.9l-3.95 6.6zM1132.1 2164.4h7.9l-3.95 6.6zM1017.2 2194.7h7.9l-3.95 6.6zM1157.5 2194.7h7.9l-3.95 6.6zM1185.8 2194.7h7.9l-3.95 6.6zM786.4 2225h7.9l-3.95 6.6zM807.1 2225h7.9l-3.95 6.6zM814.6 2225h7.9l-3.95 6.6zM825.2 2225h7.9l-3.95 6.6zM1020.1 2225h7.9l-3.95 6.6zM1366.3 2225h7.9l-3.95 6.6z"/>
<text x="800.6" y="34.1" class="ttl" style="font-size:27px">HG002 PacBio HiFi fully phased assembly (hifiasm)</text>
<text x="2" y="21" class="let">a</text>
<text x="116" y="361.5" class="hap">Haplotype 1</text>
<text x="1785.5" y="361" class="hap">Haplotype 2</text>
<rect x="1786.4" y="452.4" width="254.3" height="142" rx="3" fill="#fff" stroke="#d4d4d4" stroke-width="1.3"/>
<rect x="1795.2" y="463.1" width="59.2" height="20.8" fill="#4a74bd"/>
<rect x="1795.2" y="496.8" width="59.2" height="20.8" fill="#ddb139"/>
<rect x="1795.2" y="530.3" width="59.2" height="20.8" fill="#6cb446"/>
<path d="M1813.2 563.5h23.8l-11.9 20.8z" fill="#e0362c"/>
<text x="1860.6" y="479.9" class="leg">SD</text>
<text x="1860.6" y="513.5" class="leg">Centromere</text>
<text x="1860.6" y="546.7" class="leg">SD+centromere</text>
<text x="1860.6" y="581.1" class="leg">Misassembly</text>
<text x="755.9" y="786.2" class="ttl" style="font-size:27px">HG002 ONT standard fully phased assembly (Verkko + HERRO)</text>
<text x="3.2" y="773.2" class="let">b</text>
<text x="116" y="1114.8" class="hap">Haplotype 1</text>
<text x="1785.5" y="1114.3" class="hap">Haplotype 2</text>
<rect x="1784.4" y="1203.3" width="275" height="142.9" rx="3" fill="#fff" stroke="#d4d4d4" stroke-width="1.3"/>
<rect x="1795.2" y="1216.6" width="59.2" height="20.8" fill="#4a74bd"/>
<rect x="1795.2" y="1249.8" width="59.2" height="20.8" fill="#ddb139"/>
<rect x="1795.2" y="1283.4" width="59.2" height="20.8" fill="#6cb446"/>
<path d="M1813.2 1316.3h23.8l-11.9 20.8z" fill="#e0362c"/>
<text x="1860.6" y="1232.8" class="leg">SD</text>
<text x="1860.6" y="1266.4" class="leg">Centromere</text>
<text x="1860.6" y="1299" class="leg">SD + centromere</text>
<text x="1860.6" y="1335.1" class="leg">Misassembly</text>
<text x="755.9" y="1546" class="ttl" style="font-size:29.2px">HG002 ONT ultra-long fully phased assembly (Verkko + HERRO)</text>
<text x="2" y="1532.8" class="let">c</text>
<text x="116" y="1873.9" class="hap">Haplotype 1</text>
<text x="1785.5" y="1873.4" class="hap">Haplotype 2</text>
<rect x="1784.4" y="1962.7" width="275" height="142.9" rx="3" fill="#fff" stroke="#d4d4d4" stroke-width="1.3"/>
<rect x="1795.2" y="1976" width="59.2" height="20.8" fill="#4a74bd"/>
<rect x="1795.2" y="2009.2" width="59.2" height="20.8" fill="#ddb139"/>
<rect x="1795.2" y="2042.8" width="59.2" height="20.8" fill="#6cb446"/>
<path d="M1813.2 2075.7h23.8l-11.9 20.8z" fill="#e0362c"/>
<text x="1860.6" y="1992.2" class="leg">SD</text>
<text x="1860.6" y="2025.8" class="leg">Centromere</text>
<text x="1860.6" y="2058.4" class="leg">SD + centromere</text>
<text x="1860.6" y="2094.5" class="leg">Misassembly</text>
</svg>
</body></html>
